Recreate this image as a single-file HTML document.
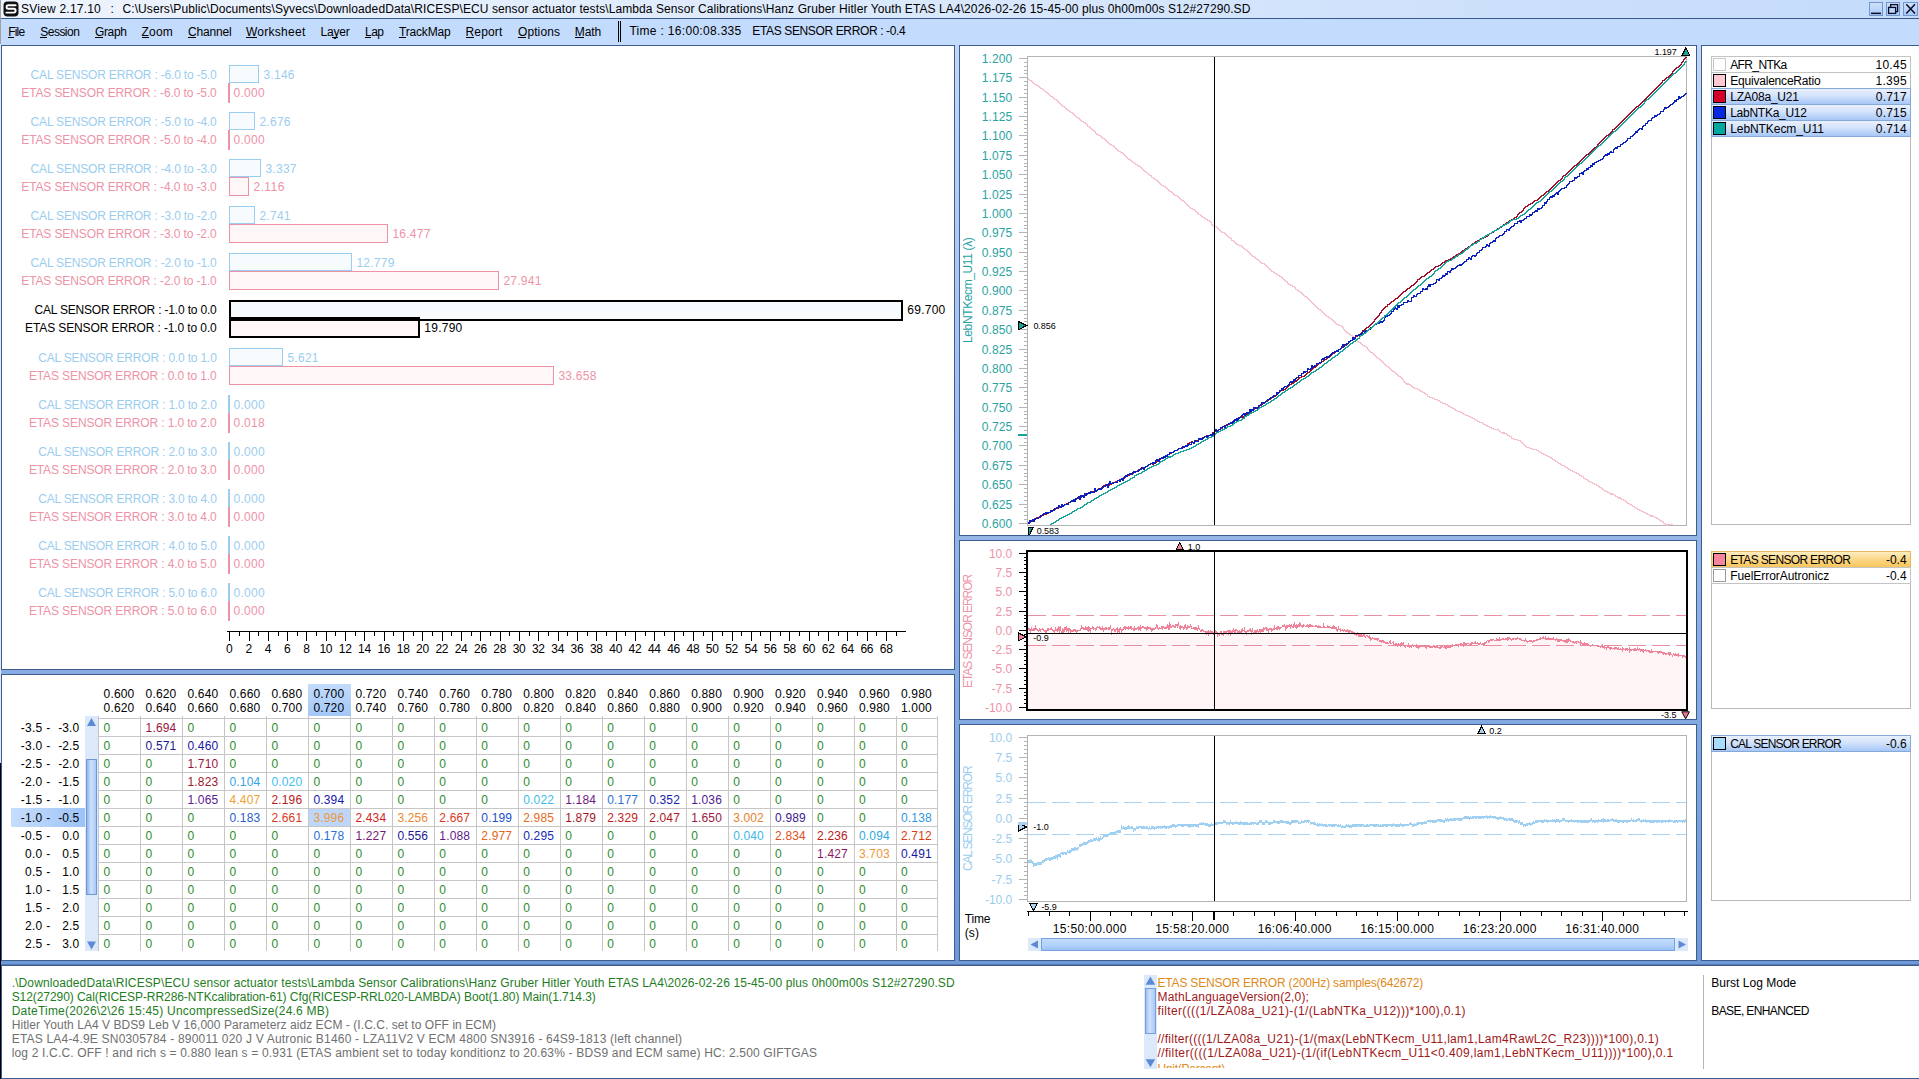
<!DOCTYPE html>
<html><head><meta charset="utf-8"><title>SView</title><style>
html,body{margin:0;padding:0;}
html{overflow:hidden;width:1919px;height:1079px;}
body{width:1919px;height:1079px;overflow:hidden;position:relative;background:linear-gradient(to bottom,#c0d8fb 0px,#c0d8fb 45px,#6d98d7 965px,#6d98d7 1079px);font-family:"Liberation Sans", sans-serif;font-size:12px;}
div,span.t,svg{position:absolute;}
span.t{white-space:pre;display:block;}
</style></head><body>
<div style="left:0px;top:0px;width:1919px;height:18px;background:linear-gradient(to right,#eef4fd 0px,#c4dbfb 1919px);"></div>
<div style="left:0px;top:18px;width:1919px;height:1px;background:#3b5a8c;"></div>
<div style="left:0px;top:19px;width:1919px;height:26px;background:#c3dbfc;"></div>
<div style="left:0px;top:0px;width:1px;height:44px;background:#a0a0a0;"></div>
<div style="left:0px;top:44px;width:1px;height:719px;background:#dfe7f5;"></div>
<div style="left:0px;top:763px;width:1px;height:316px;background:#000;"></div>
<div style="left:1px;top:45px;width:954px;height:625px;background:#fff;border:1px solid #3f5c8f;box-sizing:border-box;"></div>
<div style="left:1px;top:674px;width:954px;height:287px;background:#fff;border:1px solid #3f5c8f;box-sizing:border-box;"></div>
<div style="left:959px;top:45px;width:738px;height:491px;background:#fff;border:1px solid #3f5c8f;box-sizing:border-box;"></div>
<div style="left:959px;top:540px;width:738px;height:180px;background:#fff;border:1px solid #3f5c8f;box-sizing:border-box;"></div>
<div style="left:959px;top:724px;width:738px;height:237px;background:#fff;border:1px solid #3f5c8f;box-sizing:border-box;"></div>
<div style="left:1701px;top:45px;width:218px;height:916px;background:#fff;border:1px solid #3f5c8f;box-sizing:border-box;border-right:none;"></div>
<div style="left:1px;top:965px;width:1918px;height:114px;background:#fff;border:1px solid #3f5c8f;box-sizing:border-box;border-right:none;"></div>
<div style="left:0px;top:961px;width:1919px;height:3px;background:#6f9ad8;"></div>
<div style="left:0px;top:964px;width:1919px;height:1px;background:#5577b5;"></div>
<div style="left:0px;top:763px;width:1px;height:316px;background:#000;"></div>
<div style="left:1869px;top:2px;width:14px;height:14px;border:1px solid #7297cf;box-sizing:border-box;background:linear-gradient(#cfe1fb,#a9caf8);"></div>
<div style="left:1886px;top:2px;width:14px;height:14px;border:1px solid #7297cf;box-sizing:border-box;background:linear-gradient(#cfe1fb,#a9caf8);"></div>
<div style="left:1903px;top:2px;width:15px;height:14px;border:1px solid #7297cf;box-sizing:border-box;background:linear-gradient(#cfe1fb,#a9caf8);"></div>
<div style="left:8px;top:37px;width:6px;height:1px;background:#000;"></div>
<div style="left:40px;top:37px;width:7px;height:1px;background:#000;"></div>
<div style="left:95px;top:37px;width:8px;height:1px;background:#000;"></div>
<div style="left:142px;top:37px;width:7px;height:1px;background:#000;"></div>
<div style="left:188px;top:37px;width:8px;height:1px;background:#000;"></div>
<div style="left:246px;top:37px;width:11px;height:1px;background:#000;"></div>
<div style="left:332px;top:37px;width:6px;height:1px;background:#000;"></div>
<div style="left:365px;top:37px;width:6px;height:1px;background:#000;"></div>
<div style="left:399px;top:37px;width:7px;height:1px;background:#000;"></div>
<div style="left:466px;top:37px;width:8px;height:1px;background:#000;"></div>
<div style="left:518px;top:37px;width:8px;height:1px;background:#000;"></div>
<div style="left:575px;top:37px;width:9px;height:1px;background:#000;"></div>
<div style="left:618px;top:21px;width:1px;height:21px;background:#000;"></div>
<div style="left:620px;top:21px;width:1px;height:21px;background:#000;"></div>
<div style="left:229px;top:65px;width:30px;height:18px;background:#f7fbfe;border:1px solid #9bcdef;box-sizing:border-box;"></div>
<div style="left:228px;top:83px;width:2px;height:20px;background:#ee93a6;"></div>
<div style="left:229px;top:112px;width:26px;height:18px;background:#f7fbfe;border:1px solid #9bcdef;box-sizing:border-box;"></div>
<div style="left:228px;top:130px;width:2px;height:20px;background:#ee93a6;"></div>
<div style="left:229px;top:159px;width:32px;height:18px;background:#f7fbfe;border:1px solid #9bcdef;box-sizing:border-box;"></div>
<div style="left:229px;top:177px;width:20px;height:19px;background:#fff6f7;border:1px solid #ee93a6;box-sizing:border-box;"></div>
<div style="left:229px;top:206px;width:26px;height:18px;background:#f7fbfe;border:1px solid #9bcdef;box-sizing:border-box;"></div>
<div style="left:229px;top:224px;width:159px;height:19px;background:#fff6f7;border:1px solid #ee93a6;box-sizing:border-box;"></div>
<div style="left:229px;top:253px;width:123px;height:18px;background:#f7fbfe;border:1px solid #9bcdef;box-sizing:border-box;"></div>
<div style="left:229px;top:271px;width:270px;height:19px;background:#fff6f7;border:1px solid #ee93a6;box-sizing:border-box;"></div>
<div style="left:229px;top:300px;width:674px;height:21px;background:#f7fbfe;border:2px solid #000;box-sizing:border-box;"></div>
<div style="left:229px;top:319px;width:191px;height:19px;background:#fff6f7;border:2px solid #000;box-sizing:border-box;"></div>
<div style="left:229px;top:317px;width:191px;height:2px;background:#000;"></div>
<div style="left:229px;top:348px;width:54px;height:18px;background:#f7fbfe;border:1px solid #9bcdef;box-sizing:border-box;"></div>
<div style="left:229px;top:366px;width:325px;height:19px;background:#fff6f7;border:1px solid #ee93a6;box-sizing:border-box;"></div>
<div style="left:228px;top:395px;width:2px;height:19px;background:#9bcdef;"></div>
<div style="left:228px;top:413px;width:2px;height:20px;background:#ee93a6;"></div>
<div style="left:228px;top:442px;width:2px;height:19px;background:#9bcdef;"></div>
<div style="left:228px;top:460px;width:2px;height:20px;background:#ee93a6;"></div>
<div style="left:228px;top:489px;width:2px;height:19px;background:#9bcdef;"></div>
<div style="left:228px;top:507px;width:2px;height:20px;background:#ee93a6;"></div>
<div style="left:228px;top:536px;width:2px;height:19px;background:#9bcdef;"></div>
<div style="left:228px;top:554px;width:2px;height:20px;background:#ee93a6;"></div>
<div style="left:228px;top:583px;width:2px;height:19px;background:#9bcdef;"></div>
<div style="left:228px;top:601px;width:2px;height:20px;background:#ee93a6;"></div>
<div style="left:227px;top:631px;width:679px;height:1px;background:#000;"></div>
<div style="left:229px;top:631px;width:1px;height:10px;background:#000;"></div>
<div style="left:239px;top:631px;width:1px;height:5px;background:#000;"></div>
<div style="left:249px;top:631px;width:1px;height:10px;background:#000;"></div>
<div style="left:258px;top:631px;width:1px;height:5px;background:#000;"></div>
<div style="left:268px;top:631px;width:1px;height:10px;background:#000;"></div>
<div style="left:278px;top:631px;width:1px;height:5px;background:#000;"></div>
<div style="left:287px;top:631px;width:1px;height:10px;background:#000;"></div>
<div style="left:297px;top:631px;width:1px;height:5px;background:#000;"></div>
<div style="left:306px;top:631px;width:1px;height:10px;background:#000;"></div>
<div style="left:316px;top:631px;width:1px;height:5px;background:#000;"></div>
<div style="left:326px;top:631px;width:1px;height:10px;background:#000;"></div>
<div style="left:335px;top:631px;width:1px;height:5px;background:#000;"></div>
<div style="left:345px;top:631px;width:1px;height:10px;background:#000;"></div>
<div style="left:355px;top:631px;width:1px;height:5px;background:#000;"></div>
<div style="left:364px;top:631px;width:1px;height:10px;background:#000;"></div>
<div style="left:374px;top:631px;width:1px;height:5px;background:#000;"></div>
<div style="left:384px;top:631px;width:1px;height:10px;background:#000;"></div>
<div style="left:393px;top:631px;width:1px;height:5px;background:#000;"></div>
<div style="left:403px;top:631px;width:1px;height:10px;background:#000;"></div>
<div style="left:413px;top:631px;width:1px;height:5px;background:#000;"></div>
<div style="left:422px;top:631px;width:1px;height:10px;background:#000;"></div>
<div style="left:432px;top:631px;width:1px;height:5px;background:#000;"></div>
<div style="left:442px;top:631px;width:1px;height:10px;background:#000;"></div>
<div style="left:451px;top:631px;width:1px;height:5px;background:#000;"></div>
<div style="left:461px;top:631px;width:1px;height:10px;background:#000;"></div>
<div style="left:471px;top:631px;width:1px;height:5px;background:#000;"></div>
<div style="left:480px;top:631px;width:1px;height:10px;background:#000;"></div>
<div style="left:490px;top:631px;width:1px;height:5px;background:#000;"></div>
<div style="left:500px;top:631px;width:1px;height:10px;background:#000;"></div>
<div style="left:509px;top:631px;width:1px;height:5px;background:#000;"></div>
<div style="left:519px;top:631px;width:1px;height:10px;background:#000;"></div>
<div style="left:529px;top:631px;width:1px;height:5px;background:#000;"></div>
<div style="left:538px;top:631px;width:1px;height:10px;background:#000;"></div>
<div style="left:548px;top:631px;width:1px;height:5px;background:#000;"></div>
<div style="left:558px;top:631px;width:1px;height:10px;background:#000;"></div>
<div style="left:567px;top:631px;width:1px;height:5px;background:#000;"></div>
<div style="left:577px;top:631px;width:1px;height:10px;background:#000;"></div>
<div style="left:587px;top:631px;width:1px;height:5px;background:#000;"></div>
<div style="left:596px;top:631px;width:1px;height:10px;background:#000;"></div>
<div style="left:606px;top:631px;width:1px;height:5px;background:#000;"></div>
<div style="left:616px;top:631px;width:1px;height:10px;background:#000;"></div>
<div style="left:625px;top:631px;width:1px;height:5px;background:#000;"></div>
<div style="left:635px;top:631px;width:1px;height:10px;background:#000;"></div>
<div style="left:645px;top:631px;width:1px;height:5px;background:#000;"></div>
<div style="left:654px;top:631px;width:1px;height:10px;background:#000;"></div>
<div style="left:664px;top:631px;width:1px;height:5px;background:#000;"></div>
<div style="left:674px;top:631px;width:1px;height:10px;background:#000;"></div>
<div style="left:683px;top:631px;width:1px;height:5px;background:#000;"></div>
<div style="left:693px;top:631px;width:1px;height:10px;background:#000;"></div>
<div style="left:703px;top:631px;width:1px;height:5px;background:#000;"></div>
<div style="left:712px;top:631px;width:1px;height:10px;background:#000;"></div>
<div style="left:722px;top:631px;width:1px;height:5px;background:#000;"></div>
<div style="left:732px;top:631px;width:1px;height:10px;background:#000;"></div>
<div style="left:741px;top:631px;width:1px;height:5px;background:#000;"></div>
<div style="left:751px;top:631px;width:1px;height:10px;background:#000;"></div>
<div style="left:760px;top:631px;width:1px;height:5px;background:#000;"></div>
<div style="left:770px;top:631px;width:1px;height:10px;background:#000;"></div>
<div style="left:780px;top:631px;width:1px;height:5px;background:#000;"></div>
<div style="left:789px;top:631px;width:1px;height:10px;background:#000;"></div>
<div style="left:799px;top:631px;width:1px;height:5px;background:#000;"></div>
<div style="left:809px;top:631px;width:1px;height:10px;background:#000;"></div>
<div style="left:818px;top:631px;width:1px;height:5px;background:#000;"></div>
<div style="left:828px;top:631px;width:1px;height:10px;background:#000;"></div>
<div style="left:838px;top:631px;width:1px;height:5px;background:#000;"></div>
<div style="left:847px;top:631px;width:1px;height:10px;background:#000;"></div>
<div style="left:857px;top:631px;width:1px;height:5px;background:#000;"></div>
<div style="left:867px;top:631px;width:1px;height:10px;background:#000;"></div>
<div style="left:876px;top:631px;width:1px;height:5px;background:#000;"></div>
<div style="left:886px;top:631px;width:1px;height:10px;background:#000;"></div>
<div style="left:896px;top:631px;width:1px;height:5px;background:#000;"></div>
<div style="left:308px;top:684px;width:43px;height:32px;background:linear-gradient(#c2dbfc,#a3c7f8);"></div>
<div style="left:11px;top:808px;width:74px;height:19px;background:linear-gradient(to right,#c6ddfc,#b2d1fa 50%,#9cc2f8);"></div>
<div style="left:308px;top:808px;width:43px;height:19px;background:#bdd6fa;border:1px solid #7ba4dd;box-sizing:border-box;"></div>
<div style="left:98px;top:716px;width:1px;height:235px;background:#c6c6c6;"></div>
<div style="left:140px;top:716px;width:1px;height:235px;background:#c6c6c6;"></div>
<div style="left:182px;top:716px;width:1px;height:235px;background:#c6c6c6;"></div>
<div style="left:224px;top:716px;width:1px;height:235px;background:#c6c6c6;"></div>
<div style="left:266px;top:716px;width:1px;height:235px;background:#c6c6c6;"></div>
<div style="left:308px;top:716px;width:1px;height:235px;background:#c6c6c6;"></div>
<div style="left:350px;top:716px;width:1px;height:235px;background:#c6c6c6;"></div>
<div style="left:392px;top:716px;width:1px;height:235px;background:#c6c6c6;"></div>
<div style="left:434px;top:716px;width:1px;height:235px;background:#c6c6c6;"></div>
<div style="left:476px;top:716px;width:1px;height:235px;background:#c6c6c6;"></div>
<div style="left:518px;top:716px;width:1px;height:235px;background:#c6c6c6;"></div>
<div style="left:560px;top:716px;width:1px;height:235px;background:#c6c6c6;"></div>
<div style="left:602px;top:716px;width:1px;height:235px;background:#c6c6c6;"></div>
<div style="left:644px;top:716px;width:1px;height:235px;background:#c6c6c6;"></div>
<div style="left:686px;top:716px;width:1px;height:235px;background:#c6c6c6;"></div>
<div style="left:728px;top:716px;width:1px;height:235px;background:#c6c6c6;"></div>
<div style="left:770px;top:716px;width:1px;height:235px;background:#c6c6c6;"></div>
<div style="left:812px;top:716px;width:1px;height:235px;background:#c6c6c6;"></div>
<div style="left:854px;top:716px;width:1px;height:235px;background:#c6c6c6;"></div>
<div style="left:896px;top:716px;width:1px;height:235px;background:#c6c6c6;"></div>
<div style="left:937px;top:716px;width:1px;height:235px;background:#c6c6c6;"></div>
<div style="left:99px;top:718px;width:838px;height:1px;background:#c6c6c6;"></div>
<div style="left:99px;top:736px;width:838px;height:1px;background:#c6c6c6;"></div>
<div style="left:99px;top:754px;width:838px;height:1px;background:#c6c6c6;"></div>
<div style="left:99px;top:772px;width:838px;height:1px;background:#c6c6c6;"></div>
<div style="left:99px;top:790px;width:838px;height:1px;background:#c6c6c6;"></div>
<div style="left:99px;top:808px;width:838px;height:1px;background:#c6c6c6;"></div>
<div style="left:99px;top:826px;width:838px;height:1px;background:#c6c6c6;"></div>
<div style="left:99px;top:844px;width:838px;height:1px;background:#c6c6c6;"></div>
<div style="left:99px;top:862px;width:838px;height:1px;background:#c6c6c6;"></div>
<div style="left:99px;top:880px;width:838px;height:1px;background:#c6c6c6;"></div>
<div style="left:99px;top:898px;width:838px;height:1px;background:#c6c6c6;"></div>
<div style="left:99px;top:916px;width:838px;height:1px;background:#c6c6c6;"></div>
<div style="left:99px;top:934px;width:838px;height:1px;background:#c6c6c6;"></div>
<div style="left:85px;top:716px;width:13px;height:235px;background:#dce9fb;"></div>
<div style="left:86px;top:759px;width:11px;height:136px;border:1px solid #6f96d6;box-sizing:border-box;background:linear-gradient(to right,#8fb6f0,#cfe1fb 45%,#a8c8f6);"></div>
<div style="left:1028px;top:938px;width:660px;height:13px;background:#dce9fb;"></div>
<div style="left:1041px;top:938px;width:634px;height:13px;border:1px solid #7aa2dc;box-sizing:border-box;background:linear-gradient(#c3dbfc,#b5d3fb 50%,#9cc3f7);"></div>
<div style="left:1711px;top:56px;width:200px;height:469px;background:#fff;border:1px solid #b9b9b9;box-sizing:border-box;"></div>
<div style="left:1711px;top:551px;width:200px;height:158px;background:#fff;border:1px solid #b9b9b9;box-sizing:border-box;"></div>
<div style="left:1711px;top:735px;width:200px;height:166px;background:#fff;border:1px solid #b9b9b9;box-sizing:border-box;"></div>
<div style="left:1711px;top:56px;width:200px;height:17px;border:1px solid #c4c4c4;box-sizing:border-box;"></div>
<div style="left:1713px;top:58px;width:13px;height:13px;background:#fff;border:1px solid #c8c8c8;box-sizing:border-box;"></div>
<div style="left:1713px;top:74px;width:13px;height:13px;background:#ffc8d2;border:1px solid #000;box-sizing:border-box;"></div>
<div style="left:1711px;top:88px;width:200px;height:17px;background:linear-gradient(#e8f0fd 0%,#d4e3fb 45%,#a6c7f8 100%);border:1px solid #86a9d8;box-sizing:border-box;"></div>
<div style="left:1713px;top:90px;width:13px;height:13px;background:#d40028;border:1px solid #000;box-sizing:border-box;"></div>
<div style="left:1711px;top:104px;width:200px;height:17px;background:linear-gradient(#e8f0fd 0%,#d4e3fb 45%,#a6c7f8 100%);border:1px solid #86a9d8;box-sizing:border-box;"></div>
<div style="left:1713px;top:106px;width:13px;height:13px;background:#0428e0;border:1px solid #000;box-sizing:border-box;"></div>
<div style="left:1711px;top:120px;width:200px;height:17px;background:linear-gradient(#e8f0fd 0%,#d4e3fb 45%,#a6c7f8 100%);border:1px solid #86a9d8;box-sizing:border-box;"></div>
<div style="left:1713px;top:122px;width:13px;height:13px;background:#00a8a0;border:1px solid #000;box-sizing:border-box;"></div>
<div style="left:1711px;top:551px;width:200px;height:17px;background:linear-gradient(#fdedc0 0%,#fbd98c 45%,#f8c55c 100%);border:1px solid #e8b860;box-sizing:border-box;"></div>
<div style="left:1713px;top:553px;width:13px;height:13px;background:#f5849c;border:1px solid #000;box-sizing:border-box;"></div>
<div style="left:1711px;top:567px;width:200px;height:17px;border:1px solid #c4c4c4;box-sizing:border-box;"></div>
<div style="left:1713px;top:569px;width:13px;height:13px;background:#fff;border:1px solid #9a9a9a;box-sizing:border-box;"></div>
<div style="left:1711px;top:735px;width:200px;height:17px;background:linear-gradient(#e8f0fd 0%,#d4e3fb 45%,#a6c7f8 100%);border:1px solid #86a9d8;box-sizing:border-box;"></div>
<div style="left:1713px;top:737px;width:13px;height:13px;background:#a8dcfb;border:1px solid #000;box-sizing:border-box;"></div>
<div style="left:1144px;top:975px;width:13px;height:94px;background:#dce9fb;"></div>
<div style="left:1145px;top:988px;width:11px;height:46px;border:1px solid #7a9fd8;box-sizing:border-box;background:linear-gradient(to right,#9dc0f3,#cfe1fc 40%,#a9c9f7);"></div>
<div style="left:1703px;top:975px;width:1px;height:94px;background:#b4b4b4;"></div>
<svg style="left:0;top:0" width="1919" height="1079" viewBox="0 0 1919 1079" shape-rendering="crispEdges">
<rect x="1019" y="58" width="8" height="1" fill="#b4b4b4"/>
<rect x="1024" y="62" width="3" height="1" fill="#b4b4b4"/>
<rect x="1024" y="66" width="3" height="1" fill="#b4b4b4"/>
<rect x="1024" y="70" width="3" height="1" fill="#b4b4b4"/>
<rect x="1024" y="73" width="3" height="1" fill="#b4b4b4"/>
<rect x="1019" y="77" width="8" height="1" fill="#b4b4b4"/>
<rect x="1024" y="81" width="3" height="1" fill="#b4b4b4"/>
<rect x="1024" y="85" width="3" height="1" fill="#b4b4b4"/>
<rect x="1024" y="89" width="3" height="1" fill="#b4b4b4"/>
<rect x="1024" y="93" width="3" height="1" fill="#b4b4b4"/>
<rect x="1019" y="97" width="8" height="1" fill="#b4b4b4"/>
<rect x="1024" y="101" width="3" height="1" fill="#b4b4b4"/>
<rect x="1024" y="104" width="3" height="1" fill="#b4b4b4"/>
<rect x="1024" y="108" width="3" height="1" fill="#b4b4b4"/>
<rect x="1024" y="112" width="3" height="1" fill="#b4b4b4"/>
<rect x="1019" y="116" width="8" height="1" fill="#b4b4b4"/>
<rect x="1024" y="120" width="3" height="1" fill="#b4b4b4"/>
<rect x="1024" y="124" width="3" height="1" fill="#b4b4b4"/>
<rect x="1024" y="128" width="3" height="1" fill="#b4b4b4"/>
<rect x="1024" y="132" width="3" height="1" fill="#b4b4b4"/>
<rect x="1019" y="135" width="8" height="1" fill="#b4b4b4"/>
<rect x="1024" y="139" width="3" height="1" fill="#b4b4b4"/>
<rect x="1024" y="143" width="3" height="1" fill="#b4b4b4"/>
<rect x="1024" y="147" width="3" height="1" fill="#b4b4b4"/>
<rect x="1024" y="151" width="3" height="1" fill="#b4b4b4"/>
<rect x="1019" y="155" width="8" height="1" fill="#b4b4b4"/>
<rect x="1024" y="159" width="3" height="1" fill="#b4b4b4"/>
<rect x="1024" y="163" width="3" height="1" fill="#b4b4b4"/>
<rect x="1024" y="166" width="3" height="1" fill="#b4b4b4"/>
<rect x="1024" y="170" width="3" height="1" fill="#b4b4b4"/>
<rect x="1019" y="174" width="8" height="1" fill="#b4b4b4"/>
<rect x="1024" y="178" width="3" height="1" fill="#b4b4b4"/>
<rect x="1024" y="182" width="3" height="1" fill="#b4b4b4"/>
<rect x="1024" y="186" width="3" height="1" fill="#b4b4b4"/>
<rect x="1024" y="190" width="3" height="1" fill="#b4b4b4"/>
<rect x="1019" y="194" width="8" height="1" fill="#b4b4b4"/>
<rect x="1024" y="197" width="3" height="1" fill="#b4b4b4"/>
<rect x="1024" y="201" width="3" height="1" fill="#b4b4b4"/>
<rect x="1024" y="205" width="3" height="1" fill="#b4b4b4"/>
<rect x="1024" y="209" width="3" height="1" fill="#b4b4b4"/>
<rect x="1019" y="213" width="8" height="1" fill="#b4b4b4"/>
<rect x="1024" y="217" width="3" height="1" fill="#b4b4b4"/>
<rect x="1024" y="221" width="3" height="1" fill="#b4b4b4"/>
<rect x="1024" y="225" width="3" height="1" fill="#b4b4b4"/>
<rect x="1024" y="228" width="3" height="1" fill="#b4b4b4"/>
<rect x="1019" y="232" width="8" height="1" fill="#b4b4b4"/>
<rect x="1024" y="236" width="3" height="1" fill="#b4b4b4"/>
<rect x="1024" y="240" width="3" height="1" fill="#b4b4b4"/>
<rect x="1024" y="244" width="3" height="1" fill="#b4b4b4"/>
<rect x="1024" y="248" width="3" height="1" fill="#b4b4b4"/>
<rect x="1019" y="252" width="8" height="1" fill="#b4b4b4"/>
<rect x="1024" y="256" width="3" height="1" fill="#b4b4b4"/>
<rect x="1024" y="259" width="3" height="1" fill="#b4b4b4"/>
<rect x="1024" y="263" width="3" height="1" fill="#b4b4b4"/>
<rect x="1024" y="267" width="3" height="1" fill="#b4b4b4"/>
<rect x="1019" y="271" width="8" height="1" fill="#b4b4b4"/>
<rect x="1024" y="275" width="3" height="1" fill="#b4b4b4"/>
<rect x="1024" y="279" width="3" height="1" fill="#b4b4b4"/>
<rect x="1024" y="283" width="3" height="1" fill="#b4b4b4"/>
<rect x="1024" y="287" width="3" height="1" fill="#b4b4b4"/>
<rect x="1019" y="290" width="8" height="1" fill="#b4b4b4"/>
<rect x="1024" y="294" width="3" height="1" fill="#b4b4b4"/>
<rect x="1024" y="298" width="3" height="1" fill="#b4b4b4"/>
<rect x="1024" y="302" width="3" height="1" fill="#b4b4b4"/>
<rect x="1024" y="306" width="3" height="1" fill="#b4b4b4"/>
<rect x="1019" y="310" width="8" height="1" fill="#b4b4b4"/>
<rect x="1024" y="314" width="3" height="1" fill="#b4b4b4"/>
<rect x="1024" y="318" width="3" height="1" fill="#b4b4b4"/>
<rect x="1024" y="321" width="3" height="1" fill="#b4b4b4"/>
<rect x="1024" y="325" width="3" height="1" fill="#b4b4b4"/>
<rect x="1019" y="329" width="8" height="1" fill="#b4b4b4"/>
<rect x="1024" y="333" width="3" height="1" fill="#b4b4b4"/>
<rect x="1024" y="337" width="3" height="1" fill="#b4b4b4"/>
<rect x="1024" y="341" width="3" height="1" fill="#b4b4b4"/>
<rect x="1024" y="345" width="3" height="1" fill="#b4b4b4"/>
<rect x="1019" y="349" width="8" height="1" fill="#b4b4b4"/>
<rect x="1024" y="352" width="3" height="1" fill="#b4b4b4"/>
<rect x="1024" y="356" width="3" height="1" fill="#b4b4b4"/>
<rect x="1024" y="360" width="3" height="1" fill="#b4b4b4"/>
<rect x="1024" y="364" width="3" height="1" fill="#b4b4b4"/>
<rect x="1019" y="368" width="8" height="1" fill="#b4b4b4"/>
<rect x="1024" y="372" width="3" height="1" fill="#b4b4b4"/>
<rect x="1024" y="376" width="3" height="1" fill="#b4b4b4"/>
<rect x="1024" y="380" width="3" height="1" fill="#b4b4b4"/>
<rect x="1024" y="383" width="3" height="1" fill="#b4b4b4"/>
<rect x="1019" y="387" width="8" height="1" fill="#b4b4b4"/>
<rect x="1024" y="391" width="3" height="1" fill="#b4b4b4"/>
<rect x="1024" y="395" width="3" height="1" fill="#b4b4b4"/>
<rect x="1024" y="399" width="3" height="1" fill="#b4b4b4"/>
<rect x="1024" y="403" width="3" height="1" fill="#b4b4b4"/>
<rect x="1019" y="407" width="8" height="1" fill="#b4b4b4"/>
<rect x="1024" y="411" width="3" height="1" fill="#b4b4b4"/>
<rect x="1024" y="414" width="3" height="1" fill="#b4b4b4"/>
<rect x="1024" y="418" width="3" height="1" fill="#b4b4b4"/>
<rect x="1024" y="422" width="3" height="1" fill="#b4b4b4"/>
<rect x="1019" y="426" width="8" height="1" fill="#b4b4b4"/>
<rect x="1024" y="430" width="3" height="1" fill="#b4b4b4"/>
<rect x="1024" y="434" width="3" height="1" fill="#b4b4b4"/>
<rect x="1024" y="438" width="3" height="1" fill="#b4b4b4"/>
<rect x="1024" y="442" width="3" height="1" fill="#b4b4b4"/>
<rect x="1019" y="445" width="8" height="1" fill="#b4b4b4"/>
<rect x="1024" y="449" width="3" height="1" fill="#b4b4b4"/>
<rect x="1024" y="453" width="3" height="1" fill="#b4b4b4"/>
<rect x="1024" y="457" width="3" height="1" fill="#b4b4b4"/>
<rect x="1024" y="461" width="3" height="1" fill="#b4b4b4"/>
<rect x="1019" y="465" width="8" height="1" fill="#b4b4b4"/>
<rect x="1024" y="469" width="3" height="1" fill="#b4b4b4"/>
<rect x="1024" y="473" width="3" height="1" fill="#b4b4b4"/>
<rect x="1024" y="476" width="3" height="1" fill="#b4b4b4"/>
<rect x="1024" y="480" width="3" height="1" fill="#b4b4b4"/>
<rect x="1019" y="484" width="8" height="1" fill="#b4b4b4"/>
<rect x="1024" y="488" width="3" height="1" fill="#b4b4b4"/>
<rect x="1024" y="492" width="3" height="1" fill="#b4b4b4"/>
<rect x="1024" y="496" width="3" height="1" fill="#b4b4b4"/>
<rect x="1024" y="500" width="3" height="1" fill="#b4b4b4"/>
<rect x="1019" y="504" width="8" height="1" fill="#b4b4b4"/>
<rect x="1024" y="507" width="3" height="1" fill="#b4b4b4"/>
<rect x="1024" y="511" width="3" height="1" fill="#b4b4b4"/>
<rect x="1024" y="515" width="3" height="1" fill="#b4b4b4"/>
<rect x="1024" y="519" width="3" height="1" fill="#b4b4b4"/>
<rect x="1019" y="523" width="8" height="1" fill="#b4b4b4"/>
<rect x="1027" y="56" width="660" height="1" fill="#b4b4b4"/>
<rect x="1027" y="525" width="660" height="1" fill="#b4b4b4"/>
<rect x="1027" y="56" width="1" height="470" fill="#b4b4b4"/>
<rect x="1686" y="56" width="1" height="470" fill="#b4b4b4"/>
<path d="M1028.5,78.5V79.5H1029.5V80.5H1030.5H1031.5V81.5H1032.5V82.5H1033.5V83.5H1034.5V84.5H1035.5H1036.5V85.5H1037.5H1038.5V86.5H1039.5V87.5H1040.5V88.5H1041.5H1042.5V89.5H1043.5V90.5H1044.5V91.5H1045.5H1046.5V92.5H1047.5V93.5H1048.5V94.5H1049.5V95.5H1050.5V96.5H1051.5H1052.5V97.5H1053.5V98.5H1054.5V99.5H1055.5H1056.5V100.5H1057.5V101.5H1058.5V102.5H1059.5V103.5H1060.5V104.5H1061.5V105.5H1062.5V106.5H1063.5H1064.5V107.5H1065.5V108.5H1066.5V109.5H1067.5V110.5H1068.5H1069.5V111.5H1070.5V112.5H1071.5H1072.5V113.5H1073.5V114.5H1074.5V115.5H1075.5V116.5H1076.5V117.5H1077.5H1078.5V118.5H1079.5V119.5H1080.5V120.5H1081.5V121.5H1082.5H1083.5V122.5H1084.5H1085.5V123.5H1086.5V124.5H1087.5V126.5H1088.5H1089.5V127.5H1090.5V128.5H1091.5V129.5H1092.5V130.5H1093.5H1094.5V131.5H1095.5V133.5H1096.5V134.5H1097.5H1098.5V135.5H1099.5H1100.5V136.5H1101.5V137.5H1102.5V138.5H1103.5H1104.5V139.5H1105.5V140.5H1106.5V141.5H1107.5V142.5H1108.5V143.5H1109.5V144.5H1110.5H1111.5V145.5H1112.5H1113.5V146.5H1114.5V147.5H1115.5V148.5H1116.5V149.5H1117.5V150.5H1118.5V151.5H1119.5H1120.5V152.5H1121.5H1122.5V153.5H1123.5V154.5H1124.5V155.5H1125.5V156.5H1126.5V157.5H1127.5V158.5H1128.5V159.5H1129.5H1130.5V160.5H1131.5V161.5H1132.5V162.5H1133.5H1134.5V163.5H1135.5V164.5H1136.5H1137.5V165.5H1138.5V166.5H1139.5H1140.5V167.5H1141.5V168.5H1142.5V169.5H1143.5V170.5H1144.5V171.5H1145.5V172.5H1146.5H1147.5V173.5H1148.5V174.5H1149.5V175.5H1150.5H1151.5V177.5H1152.5H1153.5V178.5H1154.5V179.5H1155.5H1156.5V180.5H1157.5V181.5H1158.5V182.5H1159.5V183.5H1160.5V184.5H1161.5V185.5H1162.5H1163.5V186.5H1164.5H1165.5V187.5H1166.5V188.5H1167.5V189.5H1168.5V190.5H1169.5V191.5H1170.5H1171.5V192.5H1172.5V193.5H1173.5V194.5H1174.5V195.5H1175.5H1176.5H1177.5V196.5H1178.5V197.5H1179.5V198.5H1180.5V199.5H1181.5V200.5H1182.5H1183.5V201.5H1184.5V202.5H1185.5V203.5H1186.5V204.5H1187.5V205.5H1188.5V206.5H1189.5V207.5H1190.5V208.5H1191.5H1192.5V209.5H1193.5H1194.5V210.5H1195.5V211.5H1196.5V212.5H1197.5V213.5H1198.5V214.5H1199.5H1200.5V215.5H1201.5V216.5H1202.5V217.5H1203.5H1204.5V218.5H1205.5V219.5H1206.5H1207.5V220.5H1208.5H1209.5V221.5H1210.5V222.5H1211.5V224.5H1212.5V225.5H1213.5V226.5H1214.5H1215.5H1216.5V227.5H1217.5V228.5H1218.5V229.5H1219.5V230.5H1220.5V231.5H1221.5V232.5H1222.5H1223.5H1224.5V233.5H1225.5V234.5H1226.5V235.5H1227.5V236.5H1228.5V237.5H1229.5H1230.5V238.5H1231.5V240.5H1232.5H1233.5V241.5H1234.5V242.5H1235.5V243.5H1236.5V244.5H1237.5H1238.5V245.5H1239.5H1240.5H1241.5V246.5H1242.5V247.5H1243.5V248.5H1244.5V249.5H1245.5H1246.5V250.5H1247.5V251.5H1248.5V252.5H1249.5V253.5H1250.5V254.5H1251.5V255.5H1252.5V256.5H1253.5H1254.5V257.5H1255.5V258.5H1256.5V259.5H1257.5H1258.5V260.5H1259.5V261.5H1260.5V262.5H1261.5V263.5H1262.5H1263.5H1264.5V264.5H1265.5V265.5H1266.5V266.5H1267.5V267.5H1268.5V268.5H1269.5V269.5H1270.5V270.5H1271.5V271.5H1272.5H1273.5V272.5H1274.5V273.5H1275.5H1276.5V274.5H1277.5V275.5H1278.5H1279.5V276.5H1280.5H1281.5V277.5H1282.5V278.5H1283.5V279.5H1284.5V280.5H1285.5V281.5H1286.5H1287.5V283.5H1288.5V284.5H1289.5H1290.5V285.5H1291.5H1292.5V286.5H1293.5H1294.5V287.5H1295.5V289.5H1296.5H1297.5V290.5H1298.5V291.5H1299.5H1300.5V292.5H1301.5V293.5H1302.5V294.5H1303.5V295.5H1304.5V296.5H1305.5H1306.5V297.5H1307.5V298.5H1308.5V299.5H1309.5V300.5H1310.5V301.5H1311.5V302.5H1312.5V303.5H1313.5V304.5H1314.5V305.5H1315.5V306.5H1316.5V307.5H1317.5V308.5H1318.5V309.5H1319.5H1320.5V310.5H1321.5V311.5H1322.5V312.5H1323.5V313.5H1324.5V314.5H1325.5V315.5H1326.5V316.5H1327.5H1328.5V317.5H1329.5V318.5H1330.5H1331.5V319.5H1332.5V320.5H1333.5V321.5H1334.5V322.5H1335.5V323.5H1336.5V324.5H1337.5H1338.5V325.5H1339.5H1340.5H1341.5V326.5H1342.5V327.5H1343.5V329.5H1344.5V330.5H1345.5V331.5H1346.5V332.5H1347.5V333.5H1348.5H1349.5V334.5H1350.5V335.5H1351.5H1352.5V336.5H1353.5V337.5H1354.5V338.5H1355.5V339.5H1356.5V340.5H1357.5V341.5H1358.5V342.5H1359.5H1360.5V343.5H1361.5V344.5H1362.5V345.5H1363.5H1364.5V346.5H1365.5H1366.5V347.5H1367.5V349.5H1368.5V350.5H1369.5V351.5H1370.5V352.5H1371.5H1372.5V353.5H1373.5V354.5H1374.5V355.5H1375.5V356.5H1376.5V357.5H1377.5V358.5H1378.5H1379.5V359.5H1380.5V360.5H1381.5V361.5H1382.5V362.5H1383.5V363.5H1384.5V364.5H1385.5V365.5H1386.5V366.5H1387.5H1388.5V367.5H1389.5V368.5H1390.5V369.5H1391.5V370.5H1392.5V371.5H1393.5H1394.5V372.5H1395.5V373.5H1396.5V374.5H1397.5V375.5H1398.5V376.5H1399.5H1400.5V377.5H1401.5V378.5H1402.5V379.5H1403.5V381.5H1404.5V382.5H1405.5V383.5H1406.5V384.5H1407.5V383.5H1408.5V384.5H1409.5H1410.5V385.5H1411.5V386.5H1412.5V387.5H1413.5H1414.5V388.5H1415.5H1416.5H1417.5V389.5H1418.5H1419.5V390.5H1420.5V391.5H1421.5H1422.5V392.5H1423.5H1424.5V393.5H1425.5V394.5H1426.5H1427.5V396.5H1428.5H1429.5V397.5H1430.5H1431.5H1432.5V398.5H1433.5H1434.5V399.5H1435.5H1436.5H1437.5V400.5H1438.5H1439.5V401.5H1440.5V402.5H1441.5H1442.5V403.5H1443.5H1444.5H1445.5V404.5H1446.5H1447.5V405.5H1448.5V406.5H1449.5H1450.5V407.5H1451.5H1452.5V408.5H1453.5H1454.5V409.5H1455.5V410.5H1456.5H1457.5V411.5H1458.5H1459.5H1460.5V412.5H1461.5H1462.5V413.5H1463.5V414.5H1464.5H1465.5V415.5H1466.5H1467.5H1468.5V416.5H1469.5H1470.5V417.5H1471.5H1472.5V418.5H1473.5H1474.5V419.5H1475.5V420.5H1476.5H1477.5V421.5H1478.5H1479.5V422.5H1480.5H1481.5H1482.5V423.5H1483.5V424.5H1484.5H1485.5V425.5H1486.5H1487.5V426.5H1488.5H1489.5V427.5H1490.5H1491.5V428.5H1492.5H1493.5V429.5H1494.5H1495.5H1496.5H1497.5H1498.5V430.5H1499.5V431.5H1500.5V432.5H1501.5H1502.5V433.5H1503.5V432.5H1504.5V433.5H1505.5H1506.5V434.5H1507.5V435.5H1508.5H1509.5V436.5H1510.5H1511.5V438.5H1512.5H1513.5V439.5H1514.5H1515.5H1516.5H1517.5V440.5H1518.5H1519.5H1520.5V441.5H1521.5V442.5H1522.5V443.5H1523.5V444.5H1524.5V445.5H1525.5V446.5H1526.5V447.5H1527.5H1528.5H1529.5V448.5H1530.5H1531.5H1532.5V449.5H1533.5H1534.5H1535.5H1536.5V450.5H1537.5H1538.5V451.5H1539.5V452.5H1540.5H1541.5V453.5H1542.5H1543.5V454.5H1544.5H1545.5V455.5H1546.5H1547.5V456.5H1548.5H1549.5V457.5H1550.5H1551.5V458.5H1552.5V459.5H1553.5H1554.5V460.5H1555.5V461.5H1556.5H1557.5V462.5H1558.5V463.5H1559.5H1560.5V464.5H1561.5V465.5H1562.5H1563.5H1564.5V466.5H1565.5V467.5H1566.5H1567.5V468.5H1568.5V469.5H1569.5H1570.5V470.5H1571.5H1572.5V471.5H1573.5H1574.5V472.5H1575.5H1576.5V473.5H1577.5H1578.5V474.5H1579.5V475.5H1580.5H1581.5V476.5H1582.5H1583.5V478.5H1584.5H1585.5V479.5H1586.5H1587.5V480.5H1588.5V481.5H1589.5H1590.5V482.5H1591.5H1592.5V483.5H1593.5H1594.5V484.5H1595.5H1596.5V485.5H1597.5H1598.5V486.5H1599.5V487.5H1600.5H1601.5V488.5H1602.5V489.5H1603.5V490.5H1604.5H1605.5V491.5H1606.5H1607.5V492.5H1608.5H1609.5V493.5H1610.5V494.5H1611.5V493.5H1612.5V494.5H1613.5H1614.5V495.5H1615.5V496.5H1616.5H1617.5V497.5H1618.5V498.5H1619.5V497.5H1620.5V498.5H1621.5V499.5H1622.5H1623.5V500.5H1624.5H1625.5V501.5H1626.5V502.5H1627.5V503.5H1628.5H1629.5V504.5H1630.5H1631.5V505.5H1632.5V506.5H1633.5H1634.5V507.5H1635.5V508.5H1636.5H1637.5V509.5H1638.5H1639.5V510.5H1640.5H1641.5V511.5H1642.5H1643.5V512.5H1644.5H1645.5V513.5H1646.5H1647.5V514.5H1648.5H1649.5V515.5H1650.5V516.5H1651.5V515.5H1652.5V516.5H1653.5H1654.5V517.5H1655.5H1656.5V518.5H1657.5H1658.5V519.5H1659.5V520.5H1660.5H1661.5V521.5H1662.5H1663.5V523.5H1664.5H1665.5V524.5H1666.5V525.5H1667.5V524.5H1668.5H1669.5H1670.5H1671.5H1672.5" fill="none" stroke="#f6c1cb" stroke-width="1" stroke-linecap="square" shape-rendering="crispEdges"/>
<path d="M1028.5,523.5V522.5H1029.5H1030.5V521.5H1031.5H1032.5V519.5H1033.5H1034.5V518.5H1035.5H1036.5V517.5H1037.5H1038.5H1039.5V516.5H1040.5H1041.5V515.5H1042.5H1043.5V514.5H1044.5H1045.5H1046.5V513.5H1047.5H1048.5V512.5H1049.5H1050.5V511.5H1051.5H1052.5V510.5H1053.5V509.5H1054.5H1055.5V508.5H1056.5H1057.5H1058.5V507.5H1059.5H1060.5V506.5H1061.5H1062.5V505.5H1063.5H1064.5V504.5H1065.5H1066.5V503.5H1067.5H1068.5V502.5H1069.5H1070.5V501.5H1071.5H1072.5V500.5H1073.5H1074.5V499.5H1075.5H1076.5V498.5H1077.5H1078.5V497.5H1079.5H1080.5H1081.5V496.5H1082.5H1083.5V495.5H1084.5H1085.5V494.5H1086.5H1087.5V493.5H1088.5H1089.5V492.5H1090.5H1091.5V491.5H1092.5H1093.5H1094.5H1095.5V490.5H1096.5H1097.5V489.5H1098.5V488.5H1099.5H1100.5H1101.5V487.5H1102.5V486.5H1103.5V485.5H1104.5H1105.5V484.5H1106.5H1107.5V485.5H1108.5H1109.5V484.5H1110.5H1111.5V483.5H1112.5V482.5H1113.5H1114.5H1115.5V481.5H1116.5H1117.5V480.5H1118.5H1119.5V479.5H1120.5H1121.5V478.5H1122.5H1123.5V477.5H1124.5H1125.5V476.5H1126.5H1127.5V475.5H1128.5H1129.5V474.5H1130.5H1131.5V473.5H1132.5H1133.5V472.5H1134.5H1135.5V471.5H1136.5H1137.5V470.5H1138.5V469.5H1139.5H1140.5V468.5H1141.5H1142.5H1143.5V467.5H1144.5H1145.5V466.5H1146.5H1147.5V465.5H1148.5V464.5H1149.5H1150.5V463.5H1151.5H1152.5V464.5H1153.5V463.5H1154.5H1155.5V462.5H1156.5V461.5H1157.5V460.5H1158.5V459.5H1159.5H1160.5V458.5H1161.5V457.5H1162.5H1163.5H1164.5V456.5H1165.5H1166.5V455.5H1167.5V454.5H1168.5H1169.5V453.5H1170.5H1171.5V452.5H1172.5H1173.5V451.5H1174.5V450.5H1175.5H1176.5H1177.5V449.5H1178.5V448.5H1179.5H1180.5H1181.5V447.5H1182.5H1183.5H1184.5V446.5H1185.5H1186.5V445.5H1187.5V443.5H1188.5H1189.5V442.5H1190.5H1191.5V441.5H1192.5V442.5H1193.5H1194.5V441.5H1195.5H1196.5V440.5H1197.5H1198.5V439.5H1199.5H1200.5V438.5H1201.5H1202.5V437.5H1203.5H1204.5V436.5H1205.5H1206.5V435.5H1207.5V436.5H1208.5V435.5H1209.5H1210.5V434.5H1211.5H1212.5V432.5H1213.5H1214.5V431.5H1215.5H1216.5V430.5H1217.5H1218.5V429.5H1219.5H1220.5V428.5H1221.5H1222.5V426.5H1223.5H1224.5V425.5H1225.5H1226.5V424.5H1227.5H1228.5H1229.5V423.5H1230.5H1231.5V422.5H1232.5V421.5H1233.5V420.5H1234.5H1235.5V419.5H1236.5V418.5H1237.5H1238.5V417.5H1239.5H1240.5V416.5H1241.5H1242.5V417.5H1243.5V416.5H1244.5V415.5H1245.5H1246.5V414.5H1247.5V413.5H1248.5V412.5H1249.5H1250.5V411.5H1251.5V410.5H1252.5H1253.5V409.5H1254.5V408.5H1255.5H1256.5V407.5H1257.5H1258.5V406.5H1259.5V405.5H1260.5H1261.5V404.5H1262.5V403.5H1263.5V402.5H1264.5H1265.5V401.5H1266.5V400.5H1267.5H1268.5V399.5H1269.5H1270.5V398.5H1271.5V397.5H1272.5H1273.5V396.5H1274.5H1275.5V395.5H1276.5V394.5H1277.5V392.5H1278.5H1279.5V391.5H1280.5V390.5H1281.5H1282.5H1283.5V389.5H1284.5H1285.5V388.5H1286.5V387.5H1287.5V386.5H1288.5V385.5H1289.5V384.5H1290.5H1291.5V383.5H1292.5H1293.5V382.5H1294.5V381.5H1295.5H1296.5V380.5H1297.5V379.5H1298.5V378.5H1299.5V377.5H1300.5H1301.5V376.5H1302.5H1303.5H1304.5V375.5H1305.5V374.5H1306.5V373.5H1307.5V372.5H1308.5H1309.5V371.5H1310.5V370.5H1311.5V369.5H1312.5V368.5H1313.5V367.5H1314.5H1315.5V366.5H1316.5V365.5H1317.5V364.5H1318.5V363.5H1319.5H1320.5V362.5H1321.5V361.5H1322.5H1323.5V360.5H1324.5V359.5H1325.5H1326.5V358.5H1327.5V357.5H1328.5H1329.5V356.5H1330.5V355.5H1331.5V354.5H1332.5V353.5H1333.5H1334.5V352.5H1335.5V351.5H1336.5V350.5H1337.5H1338.5V349.5H1339.5H1340.5V348.5H1341.5V347.5H1342.5H1343.5V346.5H1344.5V345.5H1345.5H1346.5V344.5H1347.5V343.5H1348.5V342.5H1349.5V341.5H1350.5V340.5H1351.5H1352.5V339.5H1353.5V338.5H1354.5V337.5H1355.5V336.5H1356.5H1357.5V335.5H1358.5V334.5H1359.5H1360.5V333.5H1361.5V332.5H1362.5V330.5H1363.5H1364.5V329.5H1365.5V328.5H1366.5V327.5H1367.5H1368.5V326.5H1369.5V325.5H1370.5V324.5H1371.5V323.5H1372.5V322.5H1373.5V321.5H1374.5V319.5H1375.5V318.5H1376.5V317.5H1377.5V316.5H1378.5V315.5H1379.5V313.5H1380.5V312.5H1381.5V310.5H1382.5V309.5H1383.5V308.5H1384.5V307.5H1385.5V306.5H1386.5H1387.5V304.5H1388.5H1389.5V303.5H1390.5V302.5H1391.5V301.5H1392.5H1393.5V300.5H1394.5V299.5H1395.5V298.5H1396.5H1397.5V297.5H1398.5V296.5H1399.5V295.5H1400.5V294.5H1401.5V293.5H1402.5V292.5H1403.5V291.5H1404.5H1405.5V290.5H1406.5V289.5H1407.5V288.5H1408.5H1409.5V287.5H1410.5V286.5H1411.5V285.5H1412.5H1413.5V284.5H1414.5V283.5H1415.5V282.5H1416.5V281.5H1417.5V279.5H1418.5H1419.5V278.5H1420.5V277.5H1421.5V276.5H1422.5H1423.5H1424.5V275.5H1425.5V274.5H1426.5V273.5H1427.5V272.5H1428.5H1429.5V271.5H1430.5V270.5H1431.5V269.5H1432.5H1433.5V268.5H1434.5V267.5H1435.5V266.5H1436.5H1437.5H1438.5V265.5H1439.5H1440.5V264.5H1441.5V263.5H1442.5V262.5H1443.5H1444.5V261.5H1445.5V260.5H1446.5H1447.5H1448.5V259.5H1449.5H1450.5V258.5H1451.5H1452.5V257.5H1453.5V256.5H1454.5H1455.5V255.5H1456.5V254.5H1457.5H1458.5V253.5H1459.5H1460.5V252.5H1461.5V251.5H1462.5V250.5H1463.5H1464.5V249.5H1465.5V248.5H1466.5H1467.5V247.5H1468.5V246.5H1469.5H1470.5V245.5H1471.5V244.5H1472.5V243.5H1473.5H1474.5V242.5H1475.5V241.5H1476.5H1477.5V240.5H1478.5H1479.5V239.5H1480.5V238.5H1481.5H1482.5H1483.5V237.5H1484.5H1485.5V236.5H1486.5H1487.5V235.5H1488.5V234.5H1489.5V233.5H1490.5H1491.5V232.5H1492.5H1493.5V231.5H1494.5V230.5H1495.5H1496.5V229.5H1497.5V228.5H1498.5H1499.5V227.5H1500.5H1501.5V226.5H1502.5V225.5H1503.5V224.5H1504.5H1505.5V223.5H1506.5V222.5H1507.5H1508.5V221.5H1509.5V220.5H1510.5H1511.5V219.5H1512.5H1513.5V218.5H1514.5V217.5H1515.5H1516.5V216.5H1517.5V214.5H1518.5V213.5H1519.5V212.5H1520.5H1521.5V211.5H1522.5V210.5H1523.5V208.5H1524.5V207.5H1525.5V206.5H1526.5H1527.5V205.5H1528.5V204.5H1529.5H1530.5V203.5H1531.5H1532.5V202.5H1533.5V201.5H1534.5V200.5H1535.5H1536.5H1537.5V199.5H1538.5V198.5H1539.5V197.5H1540.5V196.5H1541.5V195.5H1542.5H1543.5V194.5H1544.5V193.5H1545.5V192.5H1546.5V191.5H1547.5H1548.5V190.5H1549.5V189.5H1550.5V188.5H1551.5V187.5H1552.5V186.5H1553.5V185.5H1554.5V184.5H1555.5V183.5H1556.5V182.5H1557.5V181.5H1558.5V180.5H1559.5H1560.5V179.5H1561.5V178.5H1562.5V176.5H1563.5V175.5H1564.5H1565.5V174.5H1566.5V173.5H1567.5V172.5H1568.5V171.5H1569.5V170.5H1570.5V169.5H1571.5V168.5H1572.5V167.5H1573.5V166.5H1574.5V165.5H1575.5H1576.5V164.5H1577.5V163.5H1578.5V162.5H1579.5V161.5H1580.5V160.5H1581.5V159.5H1582.5V158.5H1583.5V157.5H1584.5V156.5H1585.5V155.5H1586.5V154.5H1587.5H1588.5V153.5H1589.5V152.5H1590.5V151.5H1591.5V150.5H1592.5V149.5H1593.5V148.5H1594.5V147.5H1595.5H1596.5V146.5H1597.5V144.5H1598.5V143.5H1599.5V142.5H1600.5V141.5H1601.5V140.5H1602.5V139.5H1603.5V138.5H1604.5V137.5H1605.5V136.5H1606.5V135.5H1607.5H1608.5V134.5H1609.5V133.5H1610.5V132.5H1611.5V131.5H1612.5V129.5H1613.5H1614.5V128.5H1615.5V127.5H1616.5V126.5H1617.5V125.5H1618.5V124.5H1619.5V123.5H1620.5V122.5H1621.5V121.5H1622.5V120.5H1623.5V119.5H1624.5V118.5H1625.5V117.5H1626.5V116.5H1627.5V115.5H1628.5V114.5H1629.5V113.5H1630.5V112.5H1631.5V111.5H1632.5V110.5H1633.5V109.5H1634.5V108.5H1635.5V107.5H1636.5V106.5H1637.5H1638.5V105.5H1639.5V104.5H1640.5V103.5H1641.5V102.5H1642.5V101.5H1643.5V100.5H1644.5V99.5H1645.5V98.5H1646.5V97.5H1647.5V96.5H1648.5V95.5H1649.5V94.5H1650.5V93.5H1651.5V92.5H1652.5V91.5H1653.5V90.5H1654.5V89.5H1655.5V88.5H1656.5V87.5H1657.5V86.5H1658.5V85.5H1659.5V84.5H1660.5V83.5H1661.5V82.5H1662.5V80.5H1663.5H1664.5V79.5H1665.5V78.5H1666.5V77.5H1667.5H1668.5V76.5H1669.5V75.5H1670.5V74.5H1671.5V73.5H1672.5V71.5H1673.5V70.5H1674.5V69.5H1675.5V68.5H1676.5V67.5H1677.5H1678.5V66.5H1679.5V65.5H1680.5V64.5H1681.5V62.5H1682.5V61.5H1683.5V59.5H1684.5V58.5H1685.5V57.5H1686.5" fill="none" stroke="#a0102a" stroke-width="1" stroke-linecap="square" shape-rendering="crispEdges"/>
<path d="M1028.5,522.5V523.5H1029.5V520.5H1030.5V521.5H1031.5V520.5H1032.5V519.5H1033.5V521.5H1034.5V519.5H1035.5V518.5H1036.5H1037.5H1038.5V517.5H1039.5H1040.5V515.5H1041.5H1042.5V514.5H1043.5V513.5H1044.5H1045.5V512.5H1046.5V513.5H1047.5V512.5H1048.5H1049.5H1050.5V510.5H1051.5V511.5H1052.5V510.5H1053.5H1054.5V508.5H1055.5H1056.5V507.5H1057.5H1058.5V505.5H1059.5V506.5H1060.5V507.5H1061.5V504.5H1062.5V506.5H1063.5V505.5H1064.5V504.5H1065.5H1066.5H1067.5H1068.5V502.5H1069.5H1070.5V501.5H1071.5V500.5H1072.5V501.5H1073.5V499.5H1074.5V501.5H1075.5V498.5H1076.5H1077.5V497.5H1078.5V496.5H1079.5V499.5H1080.5V495.5H1081.5V496.5H1082.5V495.5H1083.5V497.5H1084.5V493.5H1085.5V495.5H1086.5V493.5H1087.5H1088.5V492.5H1089.5V493.5H1090.5V491.5H1091.5V492.5H1092.5H1093.5H1094.5V488.5H1095.5V491.5H1096.5V490.5H1097.5V489.5H1098.5H1099.5V488.5H1100.5V489.5H1101.5V488.5H1102.5V487.5H1103.5V486.5H1104.5H1105.5V485.5H1106.5V484.5H1107.5V487.5H1108.5V483.5H1109.5V481.5H1110.5V483.5H1111.5H1112.5H1113.5V482.5H1114.5H1115.5H1116.5H1117.5V480.5H1118.5H1119.5V481.5H1120.5V479.5H1121.5V478.5H1122.5V480.5H1123.5V478.5H1124.5V476.5H1125.5V475.5H1126.5V476.5H1127.5V474.5H1128.5H1129.5V473.5H1130.5H1131.5V474.5H1132.5V472.5H1133.5V471.5H1134.5V472.5H1135.5V471.5H1136.5H1137.5H1138.5V470.5H1139.5V469.5H1140.5H1141.5V467.5H1142.5V468.5H1143.5V469.5H1144.5V467.5H1145.5V466.5H1146.5H1147.5V465.5H1148.5V464.5H1149.5H1150.5V463.5H1151.5H1152.5V462.5H1153.5V463.5H1154.5V462.5H1155.5V460.5H1156.5V459.5H1157.5V460.5H1158.5V461.5H1159.5V458.5H1160.5H1161.5V457.5H1162.5V458.5H1163.5V456.5H1164.5V457.5H1165.5V455.5H1166.5V456.5H1167.5V454.5H1168.5H1169.5V452.5H1170.5H1171.5H1172.5H1173.5V451.5H1174.5V450.5H1175.5H1176.5H1177.5V449.5H1178.5V448.5H1179.5H1180.5H1181.5H1182.5V446.5H1183.5V447.5H1184.5V446.5H1185.5V445.5H1186.5V446.5H1187.5V445.5H1188.5V444.5H1189.5H1190.5H1191.5V442.5H1192.5H1193.5V443.5H1194.5V440.5H1195.5V441.5H1196.5H1197.5H1198.5V438.5H1199.5V439.5H1200.5V438.5H1201.5V439.5H1202.5V438.5H1203.5V437.5H1204.5V436.5H1205.5H1206.5V437.5H1207.5V435.5H1208.5H1209.5H1210.5V434.5H1211.5V435.5H1212.5V433.5H1213.5V434.5H1214.5V430.5H1215.5V429.5H1216.5V432.5H1217.5V431.5H1218.5V429.5H1219.5H1220.5V427.5H1221.5H1222.5V426.5H1223.5H1224.5V427.5H1225.5V425.5H1226.5H1227.5V424.5H1228.5V423.5H1229.5H1230.5V422.5H1231.5V423.5H1232.5V421.5H1233.5V422.5H1234.5V419.5H1235.5V420.5H1236.5V418.5H1237.5V420.5H1238.5V418.5H1239.5V417.5H1240.5H1241.5V415.5H1242.5V414.5H1243.5V413.5H1244.5V415.5H1245.5V413.5H1246.5V412.5H1247.5H1248.5V413.5H1249.5V409.5H1250.5V411.5H1251.5V409.5H1252.5V410.5H1253.5V407.5H1254.5H1255.5V408.5H1256.5H1257.5V407.5H1258.5V405.5H1259.5H1260.5V404.5H1261.5V402.5H1262.5H1263.5V403.5H1264.5V402.5H1265.5V401.5H1266.5H1267.5V399.5H1268.5H1269.5V398.5H1270.5V397.5H1271.5H1272.5V396.5H1273.5V395.5H1274.5H1275.5H1276.5V392.5H1277.5V393.5H1278.5V392.5H1279.5V390.5H1280.5H1281.5V388.5H1282.5V389.5H1283.5V387.5H1284.5V386.5H1285.5H1286.5H1287.5V385.5H1288.5V384.5H1289.5V382.5H1290.5V381.5H1291.5V382.5H1292.5V381.5H1293.5V379.5H1294.5V380.5H1295.5V378.5H1296.5V377.5H1297.5H1298.5V375.5H1299.5H1300.5H1301.5V373.5H1302.5H1303.5V371.5H1304.5V372.5H1305.5V371.5H1306.5H1307.5V368.5H1308.5V369.5H1309.5H1310.5V368.5H1311.5V365.5H1312.5V367.5H1313.5V366.5H1314.5V365.5H1315.5H1316.5V363.5H1317.5H1318.5H1319.5V362.5H1320.5H1321.5V359.5H1322.5V358.5H1323.5V359.5H1324.5V357.5H1325.5H1326.5V356.5H1327.5V357.5H1328.5V356.5H1329.5V355.5H1330.5V354.5H1331.5V353.5H1332.5V352.5H1333.5H1334.5V351.5H1335.5H1336.5V350.5H1337.5V351.5H1338.5V349.5H1339.5H1340.5V348.5H1341.5V346.5H1342.5V344.5H1343.5V346.5H1344.5V344.5H1345.5H1346.5V343.5H1347.5H1348.5V341.5H1349.5H1350.5V340.5H1351.5H1352.5V337.5H1353.5V339.5H1354.5V338.5H1355.5V335.5H1356.5H1357.5H1358.5H1359.5V334.5H1360.5V335.5H1361.5V333.5H1362.5V331.5H1363.5H1364.5V332.5H1365.5V330.5H1366.5V331.5H1367.5V330.5H1368.5V329.5H1369.5H1370.5V327.5H1371.5H1372.5V326.5H1373.5V325.5H1374.5V324.5H1375.5H1376.5V323.5H1377.5V322.5H1378.5V323.5H1379.5V322.5H1380.5V321.5H1381.5V322.5H1382.5V321.5H1383.5V320.5H1384.5V317.5H1385.5V316.5H1386.5H1387.5V315.5H1388.5H1389.5V314.5H1390.5V313.5H1391.5V311.5H1392.5H1393.5V309.5H1394.5V307.5H1395.5V308.5H1396.5V309.5H1397.5V305.5H1398.5V307.5H1399.5V305.5H1400.5H1401.5V304.5H1402.5H1403.5V302.5H1404.5H1405.5H1406.5H1407.5V300.5H1408.5V301.5H1409.5H1410.5H1411.5V297.5H1412.5H1413.5V295.5H1414.5V296.5H1415.5H1416.5V294.5H1417.5V293.5H1418.5H1419.5H1420.5V291.5H1421.5H1422.5V288.5H1423.5V289.5H1424.5H1425.5V288.5H1426.5V289.5H1427.5V286.5H1428.5V284.5H1429.5V286.5H1430.5V284.5H1431.5H1432.5H1433.5V283.5H1434.5H1435.5V282.5H1436.5V279.5H1437.5H1438.5V280.5H1439.5V278.5H1440.5H1441.5V277.5H1442.5V275.5H1443.5V276.5H1444.5V275.5H1445.5V273.5H1446.5V274.5H1447.5V271.5H1448.5H1449.5V272.5H1450.5V270.5H1451.5V268.5H1452.5V269.5H1453.5V268.5H1454.5H1455.5V267.5H1456.5V266.5H1457.5V265.5H1458.5H1459.5V264.5H1460.5V265.5H1461.5V264.5H1462.5V263.5H1463.5V262.5H1464.5V261.5H1465.5H1466.5V259.5H1467.5H1468.5V257.5H1469.5V258.5H1470.5V259.5H1471.5V256.5H1472.5V255.5H1473.5H1474.5V256.5H1475.5V255.5H1476.5V253.5H1477.5V252.5H1478.5H1479.5V250.5H1480.5H1481.5V249.5H1482.5V247.5H1483.5H1484.5H1485.5V246.5H1486.5V244.5H1487.5V245.5H1488.5V246.5H1489.5V243.5H1490.5V242.5H1491.5H1492.5V241.5H1493.5V240.5H1494.5V241.5H1495.5V238.5H1496.5V237.5H1497.5H1498.5V236.5H1499.5V235.5H1500.5H1501.5H1502.5V234.5H1503.5V233.5H1504.5V231.5H1505.5H1506.5V229.5H1507.5H1508.5V230.5H1509.5V228.5H1510.5V227.5H1511.5V226.5H1512.5H1513.5V225.5H1514.5V223.5H1515.5H1516.5H1517.5V221.5H1518.5H1519.5V220.5H1520.5V222.5H1521.5V220.5H1522.5H1523.5V219.5H1524.5V218.5H1525.5H1526.5V216.5H1527.5H1528.5H1529.5V214.5H1530.5V215.5H1531.5V214.5H1532.5V212.5H1533.5H1534.5V211.5H1535.5V210.5H1536.5V211.5H1537.5V208.5H1538.5V209.5H1539.5V208.5H1540.5H1541.5V207.5H1542.5V205.5H1543.5H1544.5V202.5H1545.5V203.5H1546.5V201.5H1547.5V199.5H1548.5H1549.5V197.5H1550.5V196.5H1551.5V197.5H1552.5V195.5H1553.5V196.5H1554.5V194.5H1555.5V193.5H1556.5V192.5H1557.5V194.5H1558.5V191.5H1559.5V190.5H1560.5V189.5H1561.5V188.5H1562.5H1563.5H1564.5V187.5H1565.5H1566.5V185.5H1567.5V184.5H1568.5V183.5H1569.5V181.5H1570.5H1571.5H1572.5V180.5H1573.5H1574.5V177.5H1575.5V178.5H1576.5V177.5H1577.5V176.5H1578.5H1579.5V173.5H1580.5H1581.5V172.5H1582.5V174.5H1583.5V171.5H1584.5V170.5H1585.5H1586.5V168.5H1587.5V169.5H1588.5V167.5H1589.5H1590.5V165.5H1591.5V166.5H1592.5V163.5H1593.5V164.5H1594.5V162.5H1595.5H1596.5V161.5H1597.5H1598.5V160.5H1599.5H1600.5V159.5H1601.5H1602.5V158.5H1603.5V156.5H1604.5V155.5H1605.5V154.5H1606.5V155.5H1607.5V153.5H1608.5V154.5H1609.5V152.5H1610.5V151.5H1611.5V152.5H1612.5H1613.5V149.5H1614.5V148.5H1615.5V147.5H1616.5V148.5H1617.5V146.5H1618.5H1619.5H1620.5V144.5H1621.5H1622.5V143.5H1623.5V142.5H1624.5H1625.5V141.5H1626.5V140.5H1627.5V138.5H1628.5H1629.5H1630.5V136.5H1631.5H1632.5V135.5H1633.5V134.5H1634.5V133.5H1635.5V131.5H1636.5V132.5H1637.5V130.5H1638.5V129.5H1639.5V128.5H1640.5H1641.5V129.5H1642.5V126.5H1643.5V125.5H1644.5H1645.5V123.5H1646.5H1647.5V121.5H1648.5V120.5H1649.5H1650.5H1651.5V118.5H1652.5V117.5H1653.5H1654.5V115.5H1655.5V116.5H1656.5V115.5H1657.5V114.5H1658.5H1659.5V113.5H1660.5V111.5H1661.5H1662.5H1663.5V109.5H1664.5V107.5H1665.5V108.5H1666.5V107.5H1667.5H1668.5V106.5H1669.5V105.5H1670.5V104.5H1671.5H1672.5V103.5H1673.5V102.5H1674.5V100.5H1675.5V101.5H1676.5V99.5H1677.5H1678.5V96.5H1679.5V98.5H1680.5V97.5H1681.5V96.5H1682.5H1683.5V95.5H1684.5V94.5H1685.5V93.5H1686.5" fill="none" stroke="#0a1fc0" stroke-width="1" stroke-linecap="square" shape-rendering="crispEdges"/>
<path d="M1050.5,524.5H1051.5V523.5H1052.5H1053.5V522.5H1054.5H1055.5V521.5H1056.5V520.5H1057.5H1058.5V519.5H1059.5V518.5H1060.5H1061.5V517.5H1062.5H1063.5V516.5H1064.5H1065.5V515.5H1066.5H1067.5V514.5H1068.5H1069.5V513.5H1070.5H1071.5V512.5H1072.5V511.5H1073.5H1074.5V510.5H1075.5H1076.5V509.5H1077.5V508.5H1078.5H1079.5H1080.5V507.5H1081.5H1082.5V506.5H1083.5V505.5H1084.5V504.5H1085.5H1086.5V503.5H1087.5V502.5H1088.5H1089.5H1090.5V501.5H1091.5V500.5H1092.5H1093.5V499.5H1094.5V498.5H1095.5H1096.5V497.5H1097.5H1098.5V496.5H1099.5V495.5H1100.5H1101.5V494.5H1102.5H1103.5V493.5H1104.5H1105.5V492.5H1106.5H1107.5V491.5H1108.5V490.5H1109.5H1110.5V489.5H1111.5H1112.5V488.5H1113.5H1114.5V487.5H1115.5H1116.5V486.5H1117.5V485.5H1118.5H1119.5V484.5H1120.5H1121.5V483.5H1122.5H1123.5V482.5H1124.5H1125.5V481.5H1126.5H1127.5V480.5H1128.5H1129.5V479.5H1130.5V478.5H1131.5H1132.5V477.5H1133.5H1134.5V475.5H1135.5H1136.5V474.5H1137.5H1138.5V473.5H1139.5H1140.5H1141.5V472.5H1142.5V471.5H1143.5H1144.5V470.5H1145.5H1146.5V469.5H1147.5V468.5H1148.5H1149.5V467.5H1150.5H1151.5V466.5H1152.5H1153.5V465.5H1154.5H1155.5H1156.5V464.5H1157.5H1158.5V463.5H1159.5V462.5H1160.5V461.5H1161.5H1162.5V460.5H1163.5H1164.5V459.5H1165.5V458.5H1166.5H1167.5V457.5H1168.5V456.5H1169.5V457.5H1170.5V456.5H1171.5H1172.5V455.5H1173.5V454.5H1174.5H1175.5V453.5H1176.5H1177.5H1178.5V452.5H1179.5H1180.5V451.5H1181.5H1182.5H1183.5V450.5H1184.5H1185.5H1186.5V449.5H1187.5H1188.5H1189.5V448.5H1190.5H1191.5V447.5H1192.5H1193.5V446.5H1194.5H1195.5V445.5H1196.5V444.5H1197.5H1198.5V443.5H1199.5H1200.5V442.5H1201.5V441.5H1202.5H1203.5V440.5H1204.5H1205.5V439.5H1206.5H1207.5V438.5H1208.5V437.5H1209.5H1210.5H1211.5V436.5H1212.5H1213.5V435.5H1214.5V434.5H1215.5V433.5H1216.5V432.5H1217.5H1218.5V431.5H1219.5H1220.5V430.5H1221.5H1222.5V429.5H1223.5H1224.5V428.5H1225.5H1226.5V427.5H1227.5V426.5H1228.5H1229.5H1230.5V425.5H1231.5H1232.5V424.5H1233.5V423.5H1234.5V422.5H1235.5H1236.5V421.5H1237.5H1238.5V420.5H1239.5H1240.5H1241.5V419.5H1242.5V418.5H1243.5H1244.5V416.5H1245.5H1246.5V415.5H1247.5H1248.5V414.5H1249.5V413.5H1250.5H1251.5V412.5H1252.5H1253.5V411.5H1254.5H1255.5V410.5H1256.5H1257.5V409.5H1258.5V408.5H1259.5V407.5H1260.5H1261.5V406.5H1262.5H1263.5V405.5H1264.5H1265.5V404.5H1266.5V403.5H1267.5H1268.5V402.5H1269.5H1270.5V401.5H1271.5V400.5H1272.5H1273.5V399.5H1274.5V398.5H1275.5H1276.5V397.5H1277.5V396.5H1278.5V395.5H1279.5H1280.5V394.5H1281.5V393.5H1282.5V392.5H1283.5H1284.5V391.5H1285.5V390.5H1286.5H1287.5V389.5H1288.5V388.5H1289.5H1290.5V387.5H1291.5H1292.5V386.5H1293.5V385.5H1294.5V384.5H1295.5H1296.5V383.5H1297.5V382.5H1298.5H1299.5V381.5H1300.5V380.5H1301.5V379.5H1302.5H1303.5V378.5H1304.5H1305.5V377.5H1306.5V376.5H1307.5H1308.5V375.5H1309.5V374.5H1310.5V373.5H1311.5V372.5H1312.5H1313.5V371.5H1314.5H1315.5V370.5H1316.5V369.5H1317.5H1318.5V368.5H1319.5V367.5H1320.5H1321.5V366.5H1322.5V365.5H1323.5V364.5H1324.5V363.5H1325.5H1326.5V362.5H1327.5V361.5H1328.5V360.5H1329.5H1330.5V359.5H1331.5V358.5H1332.5V357.5H1333.5H1334.5V356.5H1335.5V355.5H1336.5H1337.5V354.5H1338.5V353.5H1339.5V352.5H1340.5V351.5H1341.5H1342.5V350.5H1343.5V349.5H1344.5V348.5H1345.5V347.5H1346.5H1347.5V346.5H1348.5V345.5H1349.5V344.5H1350.5V343.5H1351.5H1352.5V342.5H1353.5V341.5H1354.5H1355.5V340.5H1356.5V339.5H1357.5V338.5H1358.5H1359.5V336.5H1360.5V335.5H1361.5H1362.5V334.5H1363.5V333.5H1364.5H1365.5V332.5H1366.5V331.5H1367.5V330.5H1368.5V329.5H1369.5V328.5H1370.5H1371.5V327.5H1372.5V326.5H1373.5V325.5H1374.5V324.5H1375.5V323.5H1376.5H1377.5V322.5H1378.5V321.5H1379.5V320.5H1380.5V319.5H1381.5V318.5H1382.5V317.5H1383.5H1384.5V315.5H1385.5H1386.5V314.5H1387.5V313.5H1388.5V312.5H1389.5V311.5H1390.5V310.5H1391.5V309.5H1392.5V308.5H1393.5V307.5H1394.5V306.5H1395.5V305.5H1396.5V304.5H1397.5V303.5H1398.5V302.5H1399.5H1400.5V301.5H1401.5V300.5H1402.5V299.5H1403.5V298.5H1404.5V297.5H1405.5H1406.5V296.5H1407.5V295.5H1408.5V294.5H1409.5V293.5H1410.5V292.5H1411.5V291.5H1412.5V290.5H1413.5V289.5H1414.5H1415.5V288.5H1416.5V287.5H1417.5V286.5H1418.5V285.5H1419.5H1420.5V284.5H1421.5V283.5H1422.5V282.5H1423.5V281.5H1424.5V280.5H1425.5V279.5H1426.5V278.5H1427.5H1428.5V277.5H1429.5V276.5H1430.5H1431.5V275.5H1432.5V274.5H1433.5V273.5H1434.5V271.5H1435.5V270.5H1436.5H1437.5V269.5H1438.5V268.5H1439.5H1440.5V267.5H1441.5V266.5H1442.5V265.5H1443.5V264.5H1444.5V263.5H1445.5V262.5H1446.5V261.5H1447.5H1448.5V260.5H1449.5H1450.5H1451.5V259.5H1452.5V258.5H1453.5H1454.5V257.5H1455.5V256.5H1456.5H1457.5V255.5H1458.5V254.5H1459.5H1460.5V253.5H1461.5H1462.5V252.5H1463.5V251.5H1464.5V250.5H1465.5V249.5H1466.5H1467.5V248.5H1468.5V247.5H1469.5V246.5H1470.5V245.5H1471.5H1472.5V244.5H1473.5V243.5H1474.5H1475.5H1476.5V242.5H1477.5V241.5H1478.5H1479.5V239.5H1480.5H1481.5V238.5H1482.5V237.5H1483.5H1484.5V236.5H1485.5V235.5H1486.5H1487.5V234.5H1488.5H1489.5V233.5H1490.5H1491.5V232.5H1492.5V231.5H1493.5H1494.5V230.5H1495.5H1496.5V229.5H1497.5H1498.5V228.5H1499.5V227.5H1500.5V226.5H1501.5H1502.5V225.5H1503.5H1504.5V224.5H1505.5H1506.5V223.5H1507.5H1508.5V222.5H1509.5V221.5H1510.5V220.5H1511.5H1512.5V219.5H1513.5H1514.5H1515.5H1516.5V218.5H1517.5H1518.5V217.5H1519.5V216.5H1520.5V215.5H1521.5H1522.5V214.5H1523.5H1524.5V213.5H1525.5V212.5H1526.5V211.5H1527.5V210.5H1528.5V209.5H1529.5H1530.5V208.5H1531.5V207.5H1532.5V206.5H1533.5V205.5H1534.5V204.5H1535.5V203.5H1536.5V202.5H1537.5H1538.5V201.5H1539.5H1540.5V200.5H1541.5V199.5H1542.5V198.5H1543.5V197.5H1544.5V196.5H1545.5V195.5H1546.5V194.5H1547.5V193.5H1548.5V192.5H1549.5V191.5H1550.5H1551.5V190.5H1552.5V189.5H1553.5V188.5H1554.5V187.5H1555.5V186.5H1556.5V185.5H1557.5V184.5H1558.5V183.5H1559.5V182.5H1560.5V181.5H1561.5H1562.5V180.5H1563.5V179.5H1564.5V177.5H1565.5V176.5H1566.5H1567.5V175.5H1568.5V174.5H1569.5V173.5H1570.5V172.5H1571.5V171.5H1572.5V170.5H1573.5V169.5H1574.5V168.5H1575.5V167.5H1576.5V166.5H1577.5V165.5H1578.5V164.5H1579.5V163.5H1580.5H1581.5V162.5H1582.5V161.5H1583.5V160.5H1584.5V159.5H1585.5V158.5H1586.5V157.5H1587.5V156.5H1588.5V155.5H1589.5V154.5H1590.5V153.5H1591.5V152.5H1592.5V151.5H1593.5V150.5H1594.5V149.5H1595.5V148.5H1596.5V147.5H1597.5V146.5H1598.5V145.5H1599.5H1600.5V144.5H1601.5V143.5H1602.5V142.5H1603.5V141.5H1604.5V140.5H1605.5V139.5H1606.5V138.5H1607.5V137.5H1608.5V136.5H1609.5V135.5H1610.5V134.5H1611.5V133.5H1612.5V132.5H1613.5V131.5H1614.5H1615.5V130.5H1616.5V129.5H1617.5V128.5H1618.5V127.5H1619.5V126.5H1620.5V125.5H1621.5V124.5H1622.5V123.5H1623.5V122.5H1624.5V121.5H1625.5V120.5H1626.5V119.5H1627.5V118.5H1628.5V117.5H1629.5V116.5H1630.5V115.5H1631.5V114.5H1632.5V113.5H1633.5V112.5H1634.5V111.5H1635.5V110.5H1636.5V109.5H1637.5V108.5H1638.5V107.5H1639.5H1640.5V106.5H1641.5V105.5H1642.5V104.5H1643.5V103.5H1644.5V101.5H1645.5V100.5H1646.5V99.5H1647.5H1648.5V98.5H1649.5V97.5H1650.5V96.5H1651.5V95.5H1652.5V94.5H1653.5V93.5H1654.5V92.5H1655.5V91.5H1656.5V90.5H1657.5V89.5H1658.5V88.5H1659.5V87.5H1660.5V86.5H1661.5V85.5H1662.5V84.5H1663.5V83.5H1664.5V82.5H1665.5V81.5H1666.5V80.5H1667.5V79.5H1668.5V78.5H1669.5V77.5H1670.5V76.5H1671.5V75.5H1672.5V74.5H1673.5V73.5H1674.5H1675.5V72.5H1676.5V71.5H1677.5V70.5H1678.5V69.5H1679.5V68.5H1680.5V67.5H1681.5V66.5H1682.5V65.5H1683.5V64.5H1684.5V62.5H1685.5V61.5H1686.5" fill="none" stroke="#16a39a" stroke-width="1" stroke-linecap="square" shape-rendering="crispEdges"/>
<rect x="1214" y="57" width="1" height="468" fill="#000"/>
<path d="M1682.3 55 L1686 47.6 L1689.7 55 Z" fill="#16a39a" stroke="#000" stroke-width="1"/>
<path d="M1018.5 321.5 L1026.5 325.5 L1018.5 329.7 Z" fill="#16a39a" stroke="#000" stroke-width="1"/>
<rect x="1018" y="434" width="9" height="2" fill="#16a39a"/>
<path d="M1028.2 527.5 L1033 527.5 L1029.6 534.5 L1028.2 534.5 Z" fill="#16a39a" stroke="#000" stroke-width="1"/>
<path d="M1028,709 L1028.0,633.5 L1029.0,633.5 L1030.0,633.5 L1031.0,633.5 L1032.0,633.5 L1033.0,633.5 L1034.0,633.5 L1035.0,633.5 L1036.0,633.5 L1037.0,633.5 L1038.0,633.5 L1039.0,633.5 L1040.0,633.5 L1041.0,633.5 L1042.0,633.5 L1043.0,633.5 L1044.0,633.5 L1045.0,633.5 L1046.0,633.5 L1047.0,633.5 L1048.0,633.5 L1049.0,633.5 L1050.0,633.5 L1051.0,633.5 L1052.0,633.5 L1053.0,633.5 L1054.0,633.5 L1055.0,633.5 L1056.0,633.5 L1057.0,633.5 L1058.0,633.5 L1059.0,633.5 L1060.0,633.5 L1061.0,633.5 L1062.0,633.5 L1063.0,633.5 L1064.0,633.5 L1065.0,633.5 L1066.0,633.5 L1067.0,633.5 L1068.0,633.5 L1069.0,633.5 L1070.0,633.5 L1071.0,633.5 L1072.0,633.5 L1073.0,633.5 L1074.0,633.5 L1075.0,633.5 L1076.0,633.5 L1077.0,633.5 L1078.0,633.5 L1079.0,633.5 L1080.0,633.5 L1081.0,633.5 L1082.0,633.5 L1083.0,633.5 L1084.0,633.5 L1085.0,633.5 L1086.0,633.5 L1087.0,633.5 L1088.0,633.5 L1089.0,633.5 L1090.0,633.5 L1091.0,633.5 L1092.0,633.5 L1093.0,633.5 L1094.0,633.5 L1095.0,633.5 L1096.0,633.5 L1097.0,633.5 L1098.0,633.5 L1099.0,633.5 L1100.0,633.5 L1101.0,633.5 L1102.0,633.5 L1103.0,633.5 L1104.0,633.5 L1105.0,633.5 L1106.0,633.5 L1107.0,633.5 L1108.0,633.5 L1109.0,633.5 L1110.0,633.5 L1111.0,633.5 L1112.0,633.5 L1113.0,633.5 L1114.0,633.5 L1115.0,633.5 L1116.0,633.5 L1117.0,633.5 L1118.0,633.5 L1119.0,633.5 L1120.0,633.5 L1121.0,633.5 L1122.0,633.5 L1123.0,633.5 L1124.0,633.5 L1125.0,633.5 L1126.0,633.5 L1127.0,633.5 L1128.0,633.5 L1129.0,633.5 L1130.0,633.5 L1131.0,633.5 L1132.0,633.5 L1133.0,633.5 L1134.0,633.5 L1135.0,633.5 L1136.0,633.5 L1137.0,633.5 L1138.0,633.5 L1139.0,633.5 L1140.0,633.5 L1141.0,633.5 L1142.0,633.5 L1143.0,633.5 L1144.0,633.5 L1145.0,633.5 L1146.0,633.5 L1147.0,633.5 L1148.0,633.5 L1149.0,633.5 L1150.0,633.5 L1151.0,633.5 L1152.0,633.5 L1153.0,633.5 L1154.0,633.5 L1155.0,633.5 L1156.0,633.5 L1157.0,633.5 L1158.0,633.5 L1159.0,633.5 L1160.0,633.5 L1161.0,633.5 L1162.0,633.5 L1163.0,633.5 L1164.0,633.5 L1165.0,633.5 L1166.0,633.5 L1167.0,633.5 L1168.0,633.5 L1169.0,633.5 L1170.0,633.5 L1171.0,633.5 L1172.0,633.5 L1173.0,633.5 L1174.0,633.5 L1175.0,633.5 L1176.0,633.5 L1177.0,633.5 L1178.0,633.5 L1179.0,633.5 L1180.0,633.5 L1181.0,633.5 L1182.0,633.5 L1183.0,633.5 L1184.0,633.5 L1185.0,633.5 L1186.0,633.5 L1187.0,633.5 L1188.0,633.5 L1189.0,633.5 L1190.0,633.5 L1191.0,633.5 L1192.0,633.5 L1193.0,633.5 L1194.0,633.5 L1195.0,633.5 L1196.0,633.5 L1197.0,633.5 L1198.0,633.5 L1199.0,633.5 L1200.0,633.5 L1201.0,633.5 L1202.0,633.5 L1203.0,633.5 L1204.0,633.5 L1205.0,633.5 L1206.0,633.5 L1207.0,633.5 L1208.0,633.5 L1209.0,633.5 L1210.0,633.5 L1211.0,633.5 L1212.0,633.5 L1213.0,633.5 L1214.0,633.5 L1215.0,633.5 L1216.0,633.5 L1217.0,634.0 L1218.0,634.5 L1219.0,635.0 L1220.0,634.2 L1221.0,633.5 L1222.0,633.5 L1223.0,633.5 L1224.0,633.5 L1225.0,633.5 L1226.0,633.5 L1227.0,633.5 L1228.0,633.5 L1229.0,633.5 L1230.0,633.5 L1231.0,633.5 L1232.0,633.5 L1233.0,633.5 L1234.0,633.5 L1235.0,633.5 L1236.0,633.5 L1237.0,633.5 L1238.0,633.5 L1239.0,633.5 L1240.0,633.5 L1241.0,633.5 L1242.0,633.5 L1243.0,633.5 L1244.0,633.5 L1245.0,633.5 L1246.0,633.5 L1247.0,633.5 L1248.0,633.5 L1249.0,633.5 L1250.0,633.5 L1251.0,633.5 L1252.0,633.5 L1253.0,633.5 L1254.0,633.5 L1255.0,633.5 L1256.0,633.5 L1257.0,633.5 L1258.0,633.5 L1259.0,633.5 L1260.0,633.5 L1261.0,633.5 L1262.0,633.5 L1263.0,633.5 L1264.0,633.5 L1265.0,633.5 L1266.0,633.5 L1267.0,633.5 L1268.0,633.5 L1269.0,633.5 L1270.0,633.5 L1271.0,633.5 L1272.0,633.5 L1273.0,633.5 L1274.0,633.5 L1275.0,633.5 L1276.0,633.5 L1277.0,633.5 L1278.0,633.5 L1279.0,633.5 L1280.0,633.5 L1281.0,633.5 L1282.0,633.5 L1283.0,633.5 L1284.0,633.5 L1285.0,633.5 L1286.0,633.5 L1287.0,633.5 L1288.0,633.5 L1289.0,633.5 L1290.0,633.5 L1291.0,633.5 L1292.0,633.5 L1293.0,633.5 L1294.0,633.5 L1295.0,633.5 L1296.0,633.5 L1297.0,633.5 L1298.0,633.5 L1299.0,633.5 L1300.0,633.5 L1301.0,633.5 L1302.0,633.5 L1303.0,633.5 L1304.0,633.5 L1305.0,633.5 L1306.0,633.5 L1307.0,633.5 L1308.0,633.5 L1309.0,633.5 L1310.0,633.5 L1311.0,633.5 L1312.0,633.5 L1313.0,633.5 L1314.0,633.5 L1315.0,633.5 L1316.0,633.5 L1317.0,633.5 L1318.0,633.5 L1319.0,633.5 L1320.0,633.5 L1321.0,633.5 L1322.0,633.5 L1323.0,633.5 L1324.0,633.5 L1325.0,633.5 L1326.0,633.5 L1327.0,633.5 L1328.0,633.5 L1329.0,633.5 L1330.0,633.5 L1331.0,633.5 L1332.0,633.5 L1333.0,633.5 L1334.0,633.5 L1335.0,633.5 L1336.0,633.5 L1337.0,633.5 L1338.0,633.5 L1339.0,633.5 L1340.0,633.5 L1341.0,633.5 L1342.0,633.5 L1343.0,633.5 L1344.0,633.5 L1345.0,633.5 L1346.0,633.5 L1347.0,633.5 L1348.0,633.5 L1349.0,633.5 L1350.0,633.5 L1351.0,633.5 L1352.0,633.5 L1353.0,633.5 L1354.0,633.5 L1355.0,633.5 L1356.0,633.6 L1357.0,633.9 L1358.0,634.1 L1359.0,634.4 L1360.0,634.7 L1361.0,635.0 L1362.0,635.3 L1363.0,635.6 L1364.0,635.8 L1365.0,636.1 L1366.0,636.4 L1367.0,636.7 L1368.0,637.0 L1369.0,637.3 L1370.0,637.6 L1371.0,637.9 L1372.0,638.2 L1373.0,638.4 L1374.0,638.7 L1375.0,639.0 L1376.0,639.3 L1377.0,639.6 L1378.0,639.9 L1379.0,640.2 L1380.0,640.5 L1381.0,640.8 L1382.0,641.0 L1383.0,641.3 L1384.0,641.6 L1385.0,641.9 L1386.0,642.1 L1387.0,642.3 L1388.0,642.5 L1389.0,642.6 L1390.0,642.8 L1391.0,643.0 L1392.0,643.1 L1393.0,643.3 L1394.0,643.5 L1395.0,643.6 L1396.0,643.8 L1397.0,644.0 L1398.0,644.1 L1399.0,644.3 L1400.0,644.5 L1401.0,644.6 L1402.0,644.8 L1403.0,645.0 L1404.0,645.1 L1405.0,645.3 L1406.0,645.5 L1407.0,645.6 L1408.0,645.8 L1409.0,646.0 L1410.0,646.0 L1411.0,646.1 L1412.0,646.1 L1413.0,646.1 L1414.0,646.2 L1415.0,646.2 L1416.0,646.2 L1417.0,646.3 L1418.0,646.3 L1419.0,646.3 L1420.0,646.4 L1421.0,646.4 L1422.0,646.4 L1423.0,646.5 L1424.0,646.5 L1425.0,646.5 L1426.0,646.6 L1427.0,646.6 L1428.0,646.7 L1429.0,646.7 L1430.0,646.7 L1431.0,646.8 L1432.0,646.8 L1433.0,646.8 L1434.0,646.9 L1435.0,646.9 L1436.0,646.9 L1437.0,647.0 L1438.0,647.0 L1439.0,647.0 L1440.0,647.1 L1441.0,647.1 L1442.0,647.1 L1443.0,647.2 L1444.0,647.2 L1445.0,647.2 L1446.0,647.3 L1447.0,647.2 L1448.0,647.0 L1449.0,646.8 L1450.0,646.5 L1451.0,646.3 L1452.0,646.1 L1453.0,645.8 L1454.0,645.6 L1455.0,645.3 L1456.0,645.1 L1457.0,644.9 L1458.0,644.6 L1459.0,644.5 L1460.0,644.4 L1461.0,644.4 L1462.0,644.4 L1463.0,644.3 L1464.0,644.3 L1465.0,644.3 L1466.0,644.2 L1467.0,644.2 L1468.0,644.1 L1469.0,644.1 L1470.0,644.1 L1471.0,644.0 L1472.0,644.0 L1473.0,643.9 L1474.0,643.9 L1475.0,643.9 L1476.0,643.8 L1477.0,643.8 L1478.0,643.7 L1479.0,643.7 L1480.0,643.7 L1481.0,643.6 L1482.0,643.6 L1483.0,643.6 L1484.0,643.5 L1485.0,643.0 L1486.0,642.3 L1487.0,641.5 L1488.0,640.7 L1489.0,640.5 L1490.0,640.4 L1491.0,640.3 L1492.0,640.3 L1493.0,640.2 L1494.0,640.1 L1495.0,640.1 L1496.0,640.0 L1497.0,639.9 L1498.0,639.9 L1499.0,639.8 L1500.0,639.8 L1501.0,639.7 L1502.0,639.6 L1503.0,639.6 L1504.0,639.5 L1505.0,639.4 L1506.0,639.4 L1507.0,639.3 L1508.0,639.2 L1509.0,639.2 L1510.0,639.1 L1511.0,639.0 L1512.0,639.0 L1513.0,638.9 L1514.0,638.9 L1515.0,638.8 L1516.0,638.7 L1517.0,638.7 L1518.0,638.6 L1519.0,638.9 L1520.0,639.2 L1521.0,639.5 L1522.0,639.8 L1523.0,640.1 L1524.0,640.4 L1525.0,640.7 L1526.0,641.0 L1527.0,641.3 L1528.0,641.6 L1529.0,641.4 L1530.0,641.2 L1531.0,640.9 L1532.0,640.7 L1533.0,640.5 L1534.0,640.3 L1535.0,640.1 L1536.0,639.9 L1537.0,639.7 L1538.0,639.4 L1539.0,639.2 L1540.0,639.0 L1541.0,638.8 L1542.0,638.6 L1543.0,638.4 L1544.0,638.2 L1545.0,638.3 L1546.0,638.5 L1547.0,638.6 L1548.0,638.7 L1549.0,638.8 L1550.0,638.9 L1551.0,639.1 L1552.0,639.2 L1553.0,639.3 L1554.0,639.4 L1555.0,639.5 L1556.0,639.6 L1557.0,639.8 L1558.0,639.9 L1559.0,640.0 L1560.0,640.1 L1561.0,640.2 L1562.0,640.4 L1563.0,640.5 L1564.0,640.6 L1565.0,640.7 L1566.0,640.8 L1567.0,640.9 L1568.0,641.1 L1569.0,641.3 L1570.0,641.4 L1571.0,641.6 L1572.0,641.8 L1573.0,641.9 L1574.0,642.1 L1575.0,642.3 L1576.0,642.4 L1577.0,642.6 L1578.0,642.8 L1579.0,642.9 L1580.0,643.1 L1581.0,643.3 L1582.0,643.4 L1583.0,643.6 L1584.0,643.8 L1585.0,643.9 L1586.0,644.1 L1587.0,644.3 L1588.0,644.5 L1589.0,644.6 L1590.0,644.8 L1591.0,645.0 L1592.0,645.1 L1593.0,645.3 L1594.0,645.5 L1595.0,645.6 L1596.0,645.8 L1597.0,646.0 L1598.0,646.1 L1599.0,646.3 L1600.0,646.4 L1601.0,646.6 L1602.0,646.7 L1603.0,646.9 L1604.0,647.0 L1605.0,647.2 L1606.0,647.3 L1607.0,647.5 L1608.0,647.6 L1609.0,647.8 L1610.0,647.9 L1611.0,648.1 L1612.0,648.2 L1613.0,648.4 L1614.0,648.5 L1615.0,648.7 L1616.0,648.8 L1617.0,649.0 L1618.0,649.1 L1619.0,649.1 L1620.0,649.2 L1621.0,649.2 L1622.0,649.3 L1623.0,649.3 L1624.0,649.4 L1625.0,649.4 L1626.0,649.5 L1627.0,649.5 L1628.0,649.6 L1629.0,649.6 L1630.0,649.7 L1631.0,649.7 L1632.0,649.8 L1633.0,649.8 L1634.0,649.9 L1635.0,649.9 L1636.0,650.0 L1637.0,650.0 L1638.0,650.1 L1639.0,650.1 L1640.0,650.2 L1641.0,650.2 L1642.0,650.3 L1643.0,650.3 L1644.0,650.4 L1645.0,650.4 L1646.0,650.6 L1647.0,650.7 L1648.0,650.8 L1649.0,651.0 L1650.0,651.1 L1651.0,651.3 L1652.0,651.4 L1653.0,651.5 L1654.0,651.7 L1655.0,651.8 L1656.0,652.0 L1657.0,652.1 L1658.0,652.2 L1659.0,652.4 L1660.0,652.5 L1661.0,652.7 L1662.0,652.8 L1663.0,653.0 L1664.0,653.1 L1665.0,653.3 L1666.0,653.4 L1667.0,653.6 L1668.0,653.7 L1669.0,653.9 L1670.0,654.0 L1671.0,654.2 L1672.0,654.4 L1673.0,654.5 L1674.0,654.7 L1675.0,654.8 L1676.0,655.0 L1677.0,655.1 L1678.0,655.3 L1679.0,655.4 L1680.0,655.6 L1681.0,655.7 L1682.0,655.9 L1683.0,656.0 L1684.0,656.2 L1685.0,656.3 L1686.0,656.5 L1687,709 Z" fill="#fff5f6" stroke="none"/>
<line x1="1028" y1="615.5" x2="1686" y2="615.5" stroke="#e88ea1" stroke-width="1" stroke-dasharray="18 6"/>
<line x1="1028" y1="645.5" x2="1686" y2="645.5" stroke="#e88ea1" stroke-width="1" stroke-dasharray="18 6"/>
<path d="M1028.5,628V630M1029.5,628V631M1030.5,629V634M1031.5,627V631M1032.5,629V631M1033.5,628V631M1034.5,628V631M1035.5,625V630M1036.5,628V630M1037.5,629V631M1038.5,630V632M1039.5,628V631M1040.5,629V632M1041.5,629V630M1042.5,628V630M1043.5,629V631M1044.5,630V632M1045.5,630V633M1046.5,630V634M1047.5,628V631M1048.5,628V631M1049.5,629V630M1050.5,628V630M1051.5,627V630M1052.5,629V631M1053.5,630V632M1054.5,630V633M1055.5,627V631M1056.5,629V631M1057.5,628V632M1058.5,626V631M1059.5,627V633M1060.5,626V631M1061.5,631V634M1062.5,628V633M1063.5,629V633M1064.5,627V632M1065.5,627V630M1066.5,626V632M1067.5,628V631M1068.5,628V634M1069.5,628V631M1070.5,629V633M1071.5,630V632M1072.5,630V632M1073.5,629V632M1074.5,629V631M1075.5,629V632M1076.5,630V634M1077.5,630V632M1078.5,630V631M1079.5,630V631M1080.5,628V631M1081.5,625V629M1082.5,627V629M1083.5,627V630M1084.5,628V630M1085.5,626V630M1086.5,627V630M1087.5,627V631M1088.5,626V632M1089.5,627V631M1090.5,628V633M1091.5,628V629M1092.5,626V629M1093.5,627V630M1094.5,628V629M1095.5,628V631M1096.5,627V630M1097.5,626V628M1098.5,627V628M1099.5,626V629M1100.5,627V630M1101.5,628V630M1102.5,626V630M1103.5,628V632M1104.5,628V630M1105.5,627V630M1106.5,627V630M1107.5,628V629M1108.5,627V630M1109.5,627V630M1110.5,625V629M1111.5,629V635M1112.5,629V631M1113.5,628V630M1114.5,629V632M1115.5,629V632M1116.5,628V630M1117.5,627V634M1118.5,629V632M1119.5,628V633M1120.5,627V630M1121.5,629V633M1122.5,629V631M1123.5,627V630M1124.5,626V629M1125.5,626V630M1126.5,627V629M1127.5,627V629M1128.5,626V630M1129.5,627V629M1130.5,626V629M1131.5,626V630M1132.5,628V629M1133.5,628V631M1134.5,626V631M1135.5,628V630M1136.5,628V630M1137.5,627V629M1138.5,626V631M1139.5,627V630M1140.5,625V631M1141.5,627V629M1142.5,626V628M1143.5,626V628M1144.5,627V629M1145.5,627V629M1146.5,627V631M1147.5,626V630M1148.5,627V629M1149.5,627V629M1150.5,627V630M1151.5,628V632M1152.5,628V631M1153.5,628V630M1154.5,628V630M1155.5,627V629M1156.5,624V628M1157.5,625V629M1158.5,628V630M1159.5,627V629M1160.5,628V629M1161.5,626V629M1162.5,626V630M1163.5,626V628M1164.5,627V629M1165.5,627V629M1166.5,626V629M1167.5,624V628M1168.5,625V630M1169.5,622V630M1170.5,624V628M1171.5,626V628M1172.5,625V627M1173.5,625V627M1174.5,626V628M1175.5,624V628M1176.5,624V626M1177.5,624V628M1178.5,622V626M1179.5,626V629M1180.5,625V630M1181.5,626V628M1182.5,626V628M1183.5,627V630M1184.5,625V629M1185.5,624V628M1186.5,627V630M1187.5,625V629M1188.5,626V628M1189.5,626V628M1190.5,624V627M1191.5,626V629M1192.5,628V629M1193.5,627V629M1194.5,627V630M1195.5,627V630M1196.5,627V630M1197.5,628V631M1198.5,625V629M1199.5,628V630M1200.5,630V632M1201.5,629V632M1202.5,629V631M1203.5,630V632M1204.5,631V632M1205.5,631V633M1206.5,631V635M1207.5,631V633M1208.5,630V636M1209.5,631V634M1210.5,630V633M1211.5,631V633M1212.5,631V634M1213.5,632V635M1214.5,633V635M1215.5,630V634M1216.5,631V634M1217.5,632V637M1218.5,633V635M1219.5,634V636M1220.5,631V634M1221.5,631V635M1222.5,634V635M1223.5,631V636M1224.5,631V634M1225.5,631V633M1226.5,631V633M1227.5,630V632M1228.5,630V635M1229.5,630V633M1230.5,630V636M1231.5,631V634M1232.5,630V633M1233.5,628V632M1234.5,630V634M1235.5,629V634M1236.5,629V631M1237.5,630V633M1238.5,631V634M1239.5,630V634M1240.5,631V634M1241.5,629V633M1242.5,628V632M1243.5,630V631M1244.5,627V632M1245.5,631V633M1246.5,631V635M1247.5,630V632M1248.5,630V632M1249.5,629V631M1250.5,628V632M1251.5,630V635M1252.5,628V632M1253.5,632V634M1254.5,630V633M1255.5,630V634M1256.5,630V633M1257.5,629V632M1258.5,631V633M1259.5,629V632M1260.5,629V634M1261.5,629V632M1262.5,629V632M1263.5,627V632M1264.5,628V630M1265.5,627V629M1266.5,627V631M1267.5,628V631M1268.5,629V633M1269.5,628V630M1270.5,628V630M1271.5,628V632M1272.5,629V631M1273.5,628V630M1274.5,625V630M1275.5,628V629M1276.5,627V630M1277.5,626V630M1278.5,626V629M1279.5,627V630M1280.5,627V629M1281.5,627V628M1282.5,625V627M1283.5,625V627M1284.5,624V627M1285.5,626V631M1286.5,625V629M1287.5,625V628M1288.5,625V627M1289.5,624V627M1290.5,625V629M1291.5,624V627M1292.5,626V628M1293.5,624V628M1294.5,622V627M1295.5,625V628M1296.5,624V629M1297.5,625V628M1298.5,624V627M1299.5,622V627M1300.5,623V626M1301.5,625V627M1302.5,625V628M1303.5,624V627M1304.5,625V626M1305.5,626V627M1306.5,625V627M1307.5,624V627M1308.5,625V628M1309.5,624V627M1310.5,624V627M1311.5,625V627M1312.5,625V627M1313.5,626V627M1314.5,626V627M1315.5,625V627M1316.5,625V627M1317.5,626V628M1318.5,625V628M1319.5,626V628M1320.5,626V628M1321.5,627V628M1322.5,627V628M1323.5,623V628M1324.5,626V628M1325.5,627V628M1326.5,627V628M1327.5,625V628M1328.5,626V628M1329.5,626V628M1330.5,627V628M1331.5,627V629M1332.5,626V629M1333.5,625V629M1334.5,626V629M1335.5,627V629M1336.5,627V631M1337.5,629V632M1338.5,626V630M1339.5,629V630M1340.5,628V632M1341.5,630V631M1342.5,629V631M1343.5,630V632M1344.5,629V631M1345.5,630V632M1346.5,630V632M1347.5,629V632M1348.5,630V633M1349.5,630V633M1350.5,630V632M1351.5,631V634M1352.5,631V633M1353.5,632V634M1354.5,632V635M1355.5,633V635M1356.5,633V636M1357.5,632V635M1358.5,633V637M1359.5,634V637M1360.5,634V637M1361.5,634V637M1362.5,635V637M1363.5,634V636M1364.5,634V637M1365.5,636V638M1366.5,635V636M1367.5,635V637M1368.5,636V638M1369.5,635V639M1370.5,637V641M1371.5,638V640M1372.5,637V639M1373.5,638V639M1374.5,638V640M1375.5,638V640M1376.5,638V640M1377.5,638V641M1378.5,638V640M1379.5,640V642M1380.5,640V642M1381.5,640V643M1382.5,640V642M1383.5,640V643M1384.5,641V643M1385.5,642V644M1386.5,642V644M1387.5,642V644M1388.5,643V644M1389.5,641V643M1390.5,640V644M1391.5,643V644M1392.5,642V643M1393.5,641V645M1394.5,644V646M1395.5,643V646M1396.5,643V645M1397.5,644V647M1398.5,643V646M1399.5,644V645M1400.5,643V647M1401.5,642V645M1402.5,643V645M1403.5,642V646M1404.5,645V647M1405.5,645V648M1406.5,645V646M1407.5,645V647M1408.5,643V647M1409.5,645V648M1410.5,645V647M1411.5,645V648M1412.5,644V646M1413.5,645V647M1414.5,645V646M1415.5,645V647M1416.5,644V648M1417.5,646V648M1418.5,646V649M1419.5,646V648M1420.5,646V647M1421.5,646V647M1422.5,645V647M1423.5,646V647M1424.5,645V647M1425.5,645V648M1426.5,645V649M1427.5,646V647M1428.5,646V647M1429.5,646V648M1430.5,646V648M1431.5,646V648M1432.5,646V648M1433.5,645V647M1434.5,645V648M1435.5,646V648M1436.5,645V648M1437.5,646V648M1438.5,647V648M1439.5,647V649M1440.5,646V649M1441.5,646V648M1442.5,646V647M1443.5,647V648M1444.5,646V648M1445.5,646V649M1446.5,646V649M1447.5,645V648M1448.5,646V648M1449.5,646V648M1450.5,646V648M1451.5,646V647M1452.5,644V647M1453.5,645V646M1454.5,645V646M1455.5,644V646M1456.5,644V646M1457.5,644V646M1458.5,644V647M1459.5,644V645M1460.5,643V645M1461.5,643V645M1462.5,644V645M1463.5,642V647M1464.5,642V645M1465.5,643V645M1466.5,643V645M1467.5,643V644M1468.5,643V644M1469.5,644V646M1470.5,643V645M1471.5,642V645M1472.5,642V644M1473.5,643V644M1474.5,642V644M1475.5,641V644M1476.5,643V644M1477.5,642V644M1478.5,643V645M1479.5,643V645M1480.5,642V644M1481.5,644V645M1482.5,643V645M1483.5,643V646M1484.5,642V645M1485.5,642V644M1486.5,641V643M1487.5,640V641M1488.5,640V643M1489.5,640V642M1490.5,639V641M1491.5,639V641M1492.5,639V641M1493.5,639V640M1494.5,640V641M1495.5,640V641M1496.5,638V641M1497.5,639V641M1498.5,639V641M1499.5,637V641M1500.5,639V641M1501.5,639V640M1502.5,638V640M1503.5,638V640M1504.5,639V640M1505.5,638V640M1506.5,638V640M1507.5,637V641M1508.5,637V640M1509.5,637V639M1510.5,638V640M1511.5,639V641M1512.5,638V640M1513.5,638V640M1514.5,638V639M1515.5,638V640M1516.5,638V640M1517.5,637V639M1518.5,638V639M1519.5,638V640M1520.5,638V640M1521.5,639V641M1522.5,640V641M1523.5,640V641M1524.5,640V642M1525.5,638V641M1526.5,640V642M1527.5,641V643M1528.5,641V642M1529.5,640V642M1530.5,640V642M1531.5,640V642M1532.5,641V643M1533.5,640V642M1534.5,640V642M1535.5,640V641M1536.5,639V641M1537.5,639V641M1538.5,639V640M1539.5,638V640M1540.5,637V640M1541.5,638V639M1542.5,637V639M1543.5,636V639M1544.5,638V639M1545.5,636V640M1546.5,638V640M1547.5,638V640M1548.5,637V640M1549.5,638V640M1550.5,638V640M1551.5,638V640M1552.5,638V640M1553.5,637V640M1554.5,639V640M1555.5,639V641M1556.5,638V640M1557.5,639V642M1558.5,639V642M1559.5,639V642M1560.5,639V641M1561.5,639V641M1562.5,640V641M1563.5,640V642M1564.5,640V642M1565.5,640V643M1566.5,639V643M1567.5,639V643M1568.5,638V642M1569.5,639V641M1570.5,640V642M1571.5,641V642M1572.5,641V643M1573.5,641V643M1574.5,642V644M1575.5,641V643M1576.5,641V644M1577.5,641V642M1578.5,641V643M1579.5,642V643M1580.5,640V645M1581.5,642V644M1582.5,643V646M1583.5,643V645M1584.5,642V645M1585.5,643V645M1586.5,643V645M1587.5,643V645M1588.5,644V646M1589.5,645V646M1590.5,645V647M1591.5,645V646M1592.5,644V646M1593.5,645V646M1594.5,645V646M1595.5,645V646M1596.5,645V646M1597.5,645V647M1598.5,645V647M1599.5,646V647M1600.5,646V648M1601.5,645V647M1602.5,644V648M1603.5,646V648M1604.5,646V649M1605.5,647V648M1606.5,647V650M1607.5,646V648M1608.5,646V648M1609.5,647V649M1610.5,647V650M1611.5,647V649M1612.5,648V649M1613.5,648V649M1614.5,647V650M1615.5,647V649M1616.5,647V649M1617.5,648V650M1618.5,647V650M1619.5,649V650M1620.5,648V650M1621.5,649V650M1622.5,647V652M1623.5,648V650M1624.5,649V650M1625.5,648V651M1626.5,648V650M1627.5,648V651M1628.5,649V650M1629.5,647V653M1630.5,649V651M1631.5,649V651M1632.5,649V650M1633.5,649V651M1634.5,648V651M1635.5,648V651M1636.5,649V651M1637.5,647V650M1638.5,649V651M1639.5,648V650M1640.5,649V652M1641.5,649V651M1642.5,649V652M1643.5,649V653M1644.5,650V651M1645.5,649V651M1646.5,650V652M1647.5,650V651M1648.5,650V652M1649.5,650V653M1650.5,651V653M1651.5,649V653M1652.5,651V653M1653.5,651V652M1654.5,651V652M1655.5,651V652M1656.5,651V652M1657.5,651V653M1658.5,651V654M1659.5,651V653M1660.5,651V653M1661.5,651V653M1662.5,652V654M1663.5,652V655M1664.5,652V654M1665.5,653V655M1666.5,653V655M1667.5,653V654M1668.5,652V655M1669.5,652V656M1670.5,652V655M1671.5,654V655M1672.5,655V657M1673.5,653V655M1674.5,654V656M1675.5,653V656M1676.5,654V656M1677.5,654V656M1678.5,653V657M1679.5,655V656M1680.5,655V656M1681.5,655V656M1682.5,655V658M1683.5,655V657M1684.5,655V657M1685.5,656V658" fill="none" stroke="#ee8399" stroke-width="1" shape-rendering="crispEdges"/>
<rect x="1028" y="633" width="658" height="1" fill="#000"/>
<rect x="1026" y="550" width="662" height="2" fill="#000"/>
<rect x="1026" y="709" width="662" height="2" fill="#000"/>
<rect x="1026" y="550" width="2" height="161" fill="#000"/>
<rect x="1686" y="550" width="2" height="161" fill="#000"/>
<rect x="1019" y="553" width="8" height="1" fill="#000"/>
<rect x="1024" y="557" width="3" height="1" fill="#000"/>
<rect x="1024" y="560" width="3" height="1" fill="#000"/>
<rect x="1024" y="564" width="3" height="1" fill="#000"/>
<rect x="1024" y="568" width="3" height="1" fill="#000"/>
<rect x="1019" y="572" width="8" height="1" fill="#000"/>
<rect x="1024" y="576" width="3" height="1" fill="#000"/>
<rect x="1024" y="579" width="3" height="1" fill="#000"/>
<rect x="1024" y="583" width="3" height="1" fill="#000"/>
<rect x="1024" y="587" width="3" height="1" fill="#000"/>
<rect x="1019" y="591" width="8" height="1" fill="#000"/>
<rect x="1024" y="595" width="3" height="1" fill="#000"/>
<rect x="1024" y="599" width="3" height="1" fill="#000"/>
<rect x="1024" y="603" width="3" height="1" fill="#000"/>
<rect x="1024" y="607" width="3" height="1" fill="#000"/>
<rect x="1019" y="611" width="8" height="1" fill="#000"/>
<rect x="1024" y="615" width="3" height="1" fill="#000"/>
<rect x="1024" y="618" width="3" height="1" fill="#000"/>
<rect x="1024" y="622" width="3" height="1" fill="#000"/>
<rect x="1024" y="626" width="3" height="1" fill="#000"/>
<rect x="1019" y="630" width="8" height="1" fill="#000"/>
<rect x="1024" y="634" width="3" height="1" fill="#000"/>
<rect x="1024" y="637" width="3" height="1" fill="#000"/>
<rect x="1024" y="641" width="3" height="1" fill="#000"/>
<rect x="1024" y="645" width="3" height="1" fill="#000"/>
<rect x="1019" y="649" width="8" height="1" fill="#000"/>
<rect x="1024" y="653" width="3" height="1" fill="#000"/>
<rect x="1024" y="656" width="3" height="1" fill="#000"/>
<rect x="1024" y="660" width="3" height="1" fill="#000"/>
<rect x="1024" y="664" width="3" height="1" fill="#000"/>
<rect x="1019" y="668" width="8" height="1" fill="#000"/>
<rect x="1024" y="672" width="3" height="1" fill="#000"/>
<rect x="1024" y="676" width="3" height="1" fill="#000"/>
<rect x="1024" y="680" width="3" height="1" fill="#000"/>
<rect x="1024" y="684" width="3" height="1" fill="#000"/>
<rect x="1019" y="688" width="8" height="1" fill="#000"/>
<rect x="1024" y="692" width="3" height="1" fill="#000"/>
<rect x="1024" y="695" width="3" height="1" fill="#000"/>
<rect x="1024" y="699" width="3" height="1" fill="#000"/>
<rect x="1024" y="703" width="3" height="1" fill="#000"/>
<rect x="1019" y="707" width="8" height="1" fill="#000"/>
<rect x="1214" y="552" width="1" height="157" fill="#000"/>
<path d="M1176.3 549.6 L1179.8 542.6 L1183.3 549.6 Z" fill="#ee8399" stroke="#000" stroke-width="1"/>
<path d="M1681.8 711.8 L1689.4 711.8 L1685.6 718.8 Z" fill="#f0788f" stroke="#000" stroke-width="1" shape-rendering="geometricPrecision"/>
<rect x="1031" y="634" width="19" height="9" fill="#fffafa"/>
<path d="M1018.5 633 L1026 636.8 L1018.5 640.8 Z" fill="#ee8399" stroke="#000" stroke-width="1"/>
<rect x="1027" y="735" width="660" height="1" fill="#b4b4b4"/>
<rect x="1027" y="901" width="660" height="1" fill="#b4b4b4"/>
<rect x="1027" y="735" width="1" height="167" fill="#b4b4b4"/>
<rect x="1686" y="735" width="1" height="167" fill="#b4b4b4"/>
<line x1="1028" y1="802.5" x2="1686" y2="802.5" stroke="#a9d3f1" stroke-width="1" stroke-dasharray="18 6"/>
<line x1="1028" y1="834.5" x2="1686" y2="834.5" stroke="#a9d3f1" stroke-width="1" stroke-dasharray="18 6"/>
<path d="M1028.5,860V863M1029.5,860V863M1030.5,859V863M1031.5,860V863M1032.5,861V864M1033.5,862V867M1034.5,863V866M1035.5,863V866M1036.5,863V866M1037.5,862V865M1038.5,862V865M1039.5,862V865M1040.5,862V865M1041.5,862V865M1042.5,860V863M1043.5,860V863M1044.5,859V862M1045.5,858V861M1046.5,858V861M1047.5,858V860M1048.5,857V860M1049.5,858V861M1050.5,857V861M1051.5,857V860M1052.5,857V860M1053.5,856V859M1054.5,856V859M1055.5,855V859M1056.5,855V858M1057.5,854V860M1058.5,854V857M1059.5,854V857M1060.5,853V858M1061.5,852V854M1062.5,852V855M1063.5,852V855M1064.5,852V854M1065.5,852V855M1066.5,852V855M1067.5,850V853M1068.5,851V853M1069.5,850V854M1070.5,850V853M1071.5,848V852M1072.5,848V851M1073.5,848V851M1074.5,847V851M1075.5,847V850M1076.5,848V851M1077.5,847V850M1078.5,847V849M1079.5,844V847M1080.5,844V847M1081.5,844V846M1082.5,843V846M1083.5,842V845M1084.5,842V845M1085.5,842V845M1086.5,842V845M1087.5,841V844M1088.5,840V843M1089.5,840V843M1090.5,839V842M1091.5,839V842M1092.5,840V842M1093.5,838V841M1094.5,838V841M1095.5,838V841M1096.5,837V840M1097.5,839V841M1098.5,837V841M1099.5,838V842M1100.5,836V840M1101.5,838V840M1102.5,837V839M1103.5,834V838M1104.5,835V837M1105.5,834V837M1106.5,834V837M1107.5,834V837M1108.5,834V836M1109.5,833V835M1110.5,832V835M1111.5,832V835M1112.5,832V835M1113.5,832V835M1114.5,832V834M1115.5,831V834M1116.5,831V833M1117.5,830V833M1118.5,830V833M1119.5,830V833M1120.5,830V833M1121.5,825V830M1122.5,827V829M1123.5,826V829M1124.5,827V830M1125.5,827V830M1126.5,827V830M1127.5,826V829M1128.5,825V829M1129.5,826V829M1130.5,827V829M1131.5,826V829M1132.5,826V829M1133.5,828V832M1134.5,828V830M1135.5,828V831M1136.5,826V829M1137.5,827V829M1138.5,826V829M1139.5,826V828M1140.5,826V828M1141.5,826V829M1142.5,826V829M1143.5,826V829M1144.5,826V829M1145.5,827V829M1146.5,826V829M1147.5,826V829M1148.5,828V830M1149.5,826V829M1150.5,828V830M1151.5,826V829M1152.5,826V829M1153.5,826V829M1154.5,827V830M1155.5,827V829M1156.5,826V829M1157.5,826V828M1158.5,826V829M1159.5,826V828M1160.5,826V829M1161.5,826V828M1162.5,826V829M1163.5,826V828M1164.5,825V828M1165.5,826V829M1166.5,826V829M1167.5,826V828M1168.5,826V829M1169.5,826V828M1170.5,825V828M1171.5,825V828M1172.5,824V827M1173.5,824V827M1174.5,824V827M1175.5,825V828M1176.5,825V827M1177.5,824V827M1178.5,824V826M1179.5,824V826M1180.5,824V826M1181.5,824V827M1182.5,824V827M1183.5,824V827M1184.5,824V826M1185.5,824V826M1186.5,824V826M1187.5,824V827M1188.5,824V827M1189.5,824V828M1190.5,824V827M1191.5,824V827M1192.5,824V827M1193.5,824V827M1194.5,824V826M1195.5,824V827M1196.5,824V827M1197.5,824V827M1198.5,824V828M1199.5,823V825M1200.5,823V825M1201.5,822V825M1202.5,823V825M1203.5,822V825M1204.5,823V825M1205.5,823V826M1206.5,823V826M1207.5,823V826M1208.5,824V827M1209.5,824V827M1210.5,824V827M1211.5,823V826M1212.5,824V826M1213.5,824V826M1214.5,822V825M1215.5,822V825M1216.5,822V825M1217.5,822V825M1218.5,822V824M1219.5,822V824M1220.5,822V824M1221.5,822V824M1222.5,822V824M1223.5,820V823M1224.5,820V823M1225.5,821V823M1226.5,822V825M1227.5,822V824M1228.5,822V825M1229.5,822V825M1230.5,820V824M1231.5,822V824M1232.5,822V825M1233.5,822V825M1234.5,822V824M1235.5,822V824M1236.5,821V824M1237.5,822V824M1238.5,822V825M1239.5,822V825M1240.5,821V825M1241.5,822V824M1242.5,822V825M1243.5,822V825M1244.5,822V825M1245.5,822V825M1246.5,822V825M1247.5,822V825M1248.5,823V825M1249.5,823V825M1250.5,822V825M1251.5,822V825M1252.5,822V824M1253.5,822V825M1254.5,822V824M1255.5,822V824M1256.5,823V825M1257.5,822V825M1258.5,822V825M1259.5,820V823M1260.5,820V823M1261.5,820V823M1262.5,822V825M1263.5,822V825M1264.5,822V825M1265.5,820V823M1266.5,820V823M1267.5,821V823M1268.5,822V825M1269.5,822V825M1270.5,822V825M1271.5,822V824M1272.5,822V824M1273.5,820V823M1274.5,820V823M1275.5,821V823M1276.5,821V823M1277.5,821V824M1278.5,821V824M1279.5,821V824M1280.5,820V823M1281.5,820V823M1282.5,820V823M1283.5,821V823M1284.5,821V823M1285.5,821V823M1286.5,821V824M1287.5,821V824M1288.5,821V824M1289.5,822V825M1290.5,822V825M1291.5,820V824M1292.5,820V823M1293.5,820V823M1294.5,820V823M1295.5,820V823M1296.5,820V823M1297.5,820V822M1298.5,821V824M1299.5,822V824M1300.5,822V824M1301.5,820V823M1302.5,821V823M1303.5,821V823M1304.5,820V823M1305.5,820V822M1306.5,820V823M1307.5,820V822M1308.5,820V823M1309.5,820V822M1310.5,822V825M1311.5,822V824M1312.5,822V824M1313.5,822V825M1314.5,822V825M1315.5,823V825M1316.5,824V826M1317.5,823V826M1318.5,824V827M1319.5,823V826M1320.5,824V826M1321.5,823V826M1322.5,824V826M1323.5,824V827M1324.5,824V826M1325.5,824V827M1326.5,824V827M1327.5,825V827M1328.5,824V826M1329.5,824V827M1330.5,824V826M1331.5,824V827M1332.5,824V827M1333.5,824V827M1334.5,824V827M1335.5,824V826M1336.5,824V826M1337.5,825V827M1338.5,824V827M1339.5,825V827M1340.5,824V827M1341.5,826V828M1342.5,825V828M1343.5,826V828M1344.5,826V828M1345.5,825V828M1346.5,824V827M1347.5,825V827M1348.5,824V827M1349.5,825V828M1350.5,825V828M1351.5,825V828M1352.5,824V827M1353.5,824V827M1354.5,824V827M1355.5,824V827M1356.5,824V827M1357.5,824V827M1358.5,824V826M1359.5,824V827M1360.5,824V827M1361.5,824V827M1362.5,824V826M1363.5,824V827M1364.5,825V827M1365.5,825V827M1366.5,824V827M1367.5,824V827M1368.5,825V827M1369.5,824V827M1370.5,824V826M1371.5,824V826M1372.5,824V826M1373.5,824V827M1374.5,824V827M1375.5,824V827M1376.5,824V827M1377.5,824V826M1378.5,824V827M1379.5,825V827M1380.5,824V827M1381.5,825V827M1382.5,824V827M1383.5,824V827M1384.5,824V826M1385.5,824V827M1386.5,824V827M1387.5,824V827M1388.5,824V826M1389.5,824V826M1390.5,824V826M1391.5,824V827M1392.5,824V827M1393.5,823V826M1394.5,824V826M1395.5,824V827M1396.5,824V827M1397.5,824V827M1398.5,824V827M1399.5,824V827M1400.5,823V826M1401.5,824V826M1402.5,824V827M1403.5,824V827M1404.5,824V826M1405.5,824V826M1406.5,824V826M1407.5,824V826M1408.5,824V826M1409.5,823V825M1410.5,822V825M1411.5,823V825M1412.5,824V827M1413.5,824V827M1414.5,823V826M1415.5,824V826M1416.5,823V826M1417.5,822V825M1418.5,822V825M1419.5,822V824M1420.5,822V824M1421.5,822V825M1422.5,822V825M1423.5,822V824M1424.5,821V824M1425.5,822V824M1426.5,821V824M1427.5,820V822M1428.5,820V822M1429.5,820V822M1430.5,820V823M1431.5,820V822M1432.5,820V823M1433.5,820V823M1434.5,820V823M1435.5,820V823M1436.5,820V822M1437.5,819V822M1438.5,819V821M1439.5,819V822M1440.5,819V822M1441.5,819V822M1442.5,820V822M1443.5,820V823M1444.5,820V823M1445.5,818V821M1446.5,819V822M1447.5,818V821M1448.5,819V822M1449.5,819V821M1450.5,818V821M1451.5,818V821M1452.5,819V821M1453.5,818V821M1454.5,818V821M1455.5,818V821M1456.5,818V820M1457.5,818V820M1458.5,818V821M1459.5,818V821M1460.5,818V821M1461.5,818V821M1462.5,818V820M1463.5,817V819M1464.5,816V819M1465.5,816V819M1466.5,816V819M1467.5,816V819M1468.5,816V819M1469.5,817V820M1470.5,816V819M1471.5,817V819M1472.5,816V819M1473.5,816V819M1474.5,816V818M1475.5,816V819M1476.5,816V819M1477.5,816V818M1478.5,816V819M1479.5,816V819M1480.5,816V819M1481.5,816V819M1482.5,816V818M1483.5,816V819M1484.5,816V818M1485.5,816V818M1486.5,815V818M1487.5,816V819M1488.5,816V818M1489.5,816V819M1490.5,815V818M1491.5,816V818M1492.5,816V818M1493.5,816V819M1494.5,816V818M1495.5,816V819M1496.5,817V819M1497.5,817V820M1498.5,817V820M1499.5,817V819M1500.5,816V819M1501.5,817V819M1502.5,817V819M1503.5,817V820M1504.5,818V821M1505.5,818V820M1506.5,818V821M1507.5,819V821M1508.5,818V820M1509.5,818V821M1510.5,818V821M1511.5,818V821M1512.5,818V821M1513.5,819V822M1514.5,820V823M1515.5,820V823M1516.5,820V823M1517.5,820V822M1518.5,821V824M1519.5,820V823M1520.5,822V825M1521.5,822V825M1522.5,822V825M1523.5,824V827M1524.5,824V826M1525.5,824V827M1526.5,823V826M1527.5,823V826M1528.5,823V825M1529.5,822V825M1530.5,823V826M1531.5,823V825M1532.5,822V825M1533.5,821V824M1534.5,822V824M1535.5,820V823M1536.5,820V823M1537.5,820V823M1538.5,820V822M1539.5,820V822M1540.5,820V822M1541.5,820V823M1542.5,820V823M1543.5,820V823M1544.5,819V822M1545.5,820V822M1546.5,819V822M1547.5,820V823M1548.5,820V822M1549.5,820V822M1550.5,820V822M1551.5,820V822M1552.5,819V822M1553.5,820V822M1554.5,819V822M1555.5,820V823M1556.5,819V822M1557.5,819V822M1558.5,819V822M1559.5,820V823M1560.5,820V822M1561.5,820V822M1562.5,818V821M1563.5,818V821M1564.5,818V821M1565.5,820V822M1566.5,820V822M1567.5,820V822M1568.5,820V823M1569.5,820V822M1570.5,820V822M1571.5,819V822M1572.5,820V822M1573.5,820V822M1574.5,820V823M1575.5,820V822M1576.5,820V822M1577.5,820V823M1578.5,820V823M1579.5,820V822M1580.5,820V823M1581.5,820V823M1582.5,820V823M1583.5,820V823M1584.5,820V823M1585.5,820V823M1586.5,820V823M1587.5,820V823M1588.5,820V823M1589.5,820V822M1590.5,819V822M1591.5,818V821M1592.5,820V823M1593.5,820V822M1594.5,820V823M1595.5,820V823M1596.5,820V822M1597.5,820V823M1598.5,819V822M1599.5,820V822M1600.5,820V822M1601.5,819V822M1602.5,819V822M1603.5,818V823M1604.5,819V822M1605.5,819V822M1606.5,820V822M1607.5,819V822M1608.5,819V822M1609.5,820V822M1610.5,819V821M1611.5,819V821M1612.5,818V821M1613.5,819V822M1614.5,820V822M1615.5,819V822M1616.5,819V822M1617.5,820V823M1618.5,820V823M1619.5,820V823M1620.5,820V822M1621.5,820V822M1622.5,820V823M1623.5,820V823M1624.5,820V822M1625.5,820V822M1626.5,820V823M1627.5,820V823M1628.5,820V822M1629.5,820V822M1630.5,820V822M1631.5,818V821M1632.5,820V822M1633.5,819V822M1634.5,820V822M1635.5,820V822M1636.5,819V822M1637.5,819V821M1638.5,818V821M1639.5,818V821M1640.5,820V822M1641.5,820V823M1642.5,820V822M1643.5,819V822M1644.5,820V822M1645.5,819V822M1646.5,820V823M1647.5,820V822M1648.5,820V822M1649.5,820V823M1650.5,820V823M1651.5,820V823M1652.5,820V823M1653.5,820V823M1654.5,820V823M1655.5,820V822M1656.5,820V823M1657.5,820V823M1658.5,820V822M1659.5,820V823M1660.5,820V822M1661.5,820V823M1662.5,820V823M1663.5,820V822M1664.5,820V822M1665.5,820V823M1666.5,820V822M1667.5,820V822M1668.5,820V823M1669.5,819V822M1670.5,820V822M1671.5,820V822M1672.5,820V822M1673.5,821V823M1674.5,820V823M1675.5,820V823M1676.5,820V822M1677.5,820V823M1678.5,820V822M1679.5,820V822M1680.5,820V822M1681.5,820V822M1682.5,820V823M1683.5,820V822M1684.5,820V823M1685.5,819V822" fill="none" stroke="#9fd0f2" stroke-width="1" shape-rendering="crispEdges"/>
<rect x="1019" y="737" width="8" height="1" fill="#b4b4b4"/>
<rect x="1024" y="741" width="3" height="1" fill="#b4b4b4"/>
<rect x="1024" y="745" width="3" height="1" fill="#b4b4b4"/>
<rect x="1024" y="749" width="3" height="1" fill="#b4b4b4"/>
<rect x="1024" y="753" width="3" height="1" fill="#b4b4b4"/>
<rect x="1019" y="757" width="8" height="1" fill="#b4b4b4"/>
<rect x="1024" y="761" width="3" height="1" fill="#b4b4b4"/>
<rect x="1024" y="765" width="3" height="1" fill="#b4b4b4"/>
<rect x="1024" y="769" width="3" height="1" fill="#b4b4b4"/>
<rect x="1024" y="773" width="3" height="1" fill="#b4b4b4"/>
<rect x="1019" y="777" width="8" height="1" fill="#b4b4b4"/>
<rect x="1024" y="781" width="3" height="1" fill="#b4b4b4"/>
<rect x="1024" y="785" width="3" height="1" fill="#b4b4b4"/>
<rect x="1024" y="790" width="3" height="1" fill="#b4b4b4"/>
<rect x="1024" y="794" width="3" height="1" fill="#b4b4b4"/>
<rect x="1019" y="798" width="8" height="1" fill="#b4b4b4"/>
<rect x="1024" y="802" width="3" height="1" fill="#b4b4b4"/>
<rect x="1024" y="806" width="3" height="1" fill="#b4b4b4"/>
<rect x="1024" y="810" width="3" height="1" fill="#b4b4b4"/>
<rect x="1024" y="814" width="3" height="1" fill="#b4b4b4"/>
<rect x="1019" y="818" width="8" height="1" fill="#b4b4b4"/>
<rect x="1024" y="822" width="3" height="1" fill="#b4b4b4"/>
<rect x="1024" y="826" width="3" height="1" fill="#b4b4b4"/>
<rect x="1024" y="830" width="3" height="1" fill="#b4b4b4"/>
<rect x="1024" y="834" width="3" height="1" fill="#b4b4b4"/>
<rect x="1019" y="838" width="8" height="1" fill="#b4b4b4"/>
<rect x="1024" y="842" width="3" height="1" fill="#b4b4b4"/>
<rect x="1024" y="846" width="3" height="1" fill="#b4b4b4"/>
<rect x="1024" y="850" width="3" height="1" fill="#b4b4b4"/>
<rect x="1024" y="854" width="3" height="1" fill="#b4b4b4"/>
<rect x="1019" y="858" width="8" height="1" fill="#b4b4b4"/>
<rect x="1024" y="862" width="3" height="1" fill="#b4b4b4"/>
<rect x="1024" y="866" width="3" height="1" fill="#b4b4b4"/>
<rect x="1024" y="871" width="3" height="1" fill="#b4b4b4"/>
<rect x="1024" y="875" width="3" height="1" fill="#b4b4b4"/>
<rect x="1019" y="879" width="8" height="1" fill="#b4b4b4"/>
<rect x="1024" y="883" width="3" height="1" fill="#b4b4b4"/>
<rect x="1024" y="887" width="3" height="1" fill="#b4b4b4"/>
<rect x="1024" y="891" width="3" height="1" fill="#b4b4b4"/>
<rect x="1024" y="895" width="3" height="1" fill="#b4b4b4"/>
<rect x="1019" y="899" width="8" height="1" fill="#b4b4b4"/>
<rect x="1214" y="736" width="1" height="165" fill="#000"/>
<path d="M1478 733.4 L1481.7 726.2 L1485.4 733.4 Z" fill="#a9d3f1" stroke="#000" stroke-width="1"/>
<path d="M1018.5 823 L1026.5 827 L1018.5 831 Z" fill="#a9d3f1" stroke="#000" stroke-width="1"/>
<rect x="1018" y="822" width="9" height="3" fill="#a9d3f1"/>
<path d="M1029.8 903.4 L1037.2 903.4 L1033.5 910.6 Z" fill="#a9d3f1" stroke="#000" stroke-width="1"/>
<rect x="1027" y="911" width="661" height="1" fill="#000"/>
<rect x="1028" y="911" width="1" height="5" fill="#000"/>
<rect x="1049" y="911" width="1" height="5" fill="#000"/>
<rect x="1069" y="911" width="1" height="5" fill="#000"/>
<rect x="1090" y="911" width="1" height="10" fill="#000"/>
<rect x="1110" y="911" width="1" height="5" fill="#000"/>
<rect x="1131" y="911" width="1" height="5" fill="#000"/>
<rect x="1151" y="911" width="1" height="5" fill="#000"/>
<rect x="1172" y="911" width="1" height="5" fill="#000"/>
<rect x="1192" y="911" width="1" height="10" fill="#000"/>
<rect x="1213" y="911" width="1" height="5" fill="#000"/>
<rect x="1233" y="911" width="1" height="5" fill="#000"/>
<rect x="1254" y="911" width="1" height="5" fill="#000"/>
<rect x="1274" y="911" width="1" height="5" fill="#000"/>
<rect x="1295" y="911" width="1" height="10" fill="#000"/>
<rect x="1315" y="911" width="1" height="5" fill="#000"/>
<rect x="1336" y="911" width="1" height="5" fill="#000"/>
<rect x="1356" y="911" width="1" height="5" fill="#000"/>
<rect x="1377" y="911" width="1" height="5" fill="#000"/>
<rect x="1397" y="911" width="1" height="10" fill="#000"/>
<rect x="1418" y="911" width="1" height="5" fill="#000"/>
<rect x="1438" y="911" width="1" height="5" fill="#000"/>
<rect x="1459" y="911" width="1" height="5" fill="#000"/>
<rect x="1479" y="911" width="1" height="5" fill="#000"/>
<rect x="1500" y="911" width="1" height="10" fill="#000"/>
<rect x="1520" y="911" width="1" height="5" fill="#000"/>
<rect x="1541" y="911" width="1" height="5" fill="#000"/>
<rect x="1561" y="911" width="1" height="5" fill="#000"/>
<rect x="1582" y="911" width="1" height="5" fill="#000"/>
<rect x="1602" y="911" width="1" height="10" fill="#000"/>
<rect x="1623" y="911" width="1" height="5" fill="#000"/>
<rect x="1643" y="911" width="1" height="5" fill="#000"/>
<rect x="1664" y="911" width="1" height="5" fill="#000"/>
<rect x="1684" y="911" width="1" height="5" fill="#000"/>
<rect x="1213" y="911" width="2" height="9" fill="#000"/>
</svg>
<span class="t" style="left:21.00px;top:2.00px;height:14px;line-height:14px;font-size:12px;color:#000;letter-spacing:0.218px;">SView 2.17.10</span>
<span class="t" style="left:110.60px;top:2.00px;height:14px;line-height:14px;font-size:12px;color:#000;">:</span>
<span class="t" style="left:122.50px;top:2.00px;height:14px;line-height:14px;font-size:12px;color:#000;letter-spacing:0.090px;">C:\Users\Public\Documents\Syvecs\DownloadedData\RICESP\ECU sensor actuator tests\Lambda Sensor Calibrations\Hanz Gruber Hitler Youth ETAS LA4\2026-02-26 15-45-00 plus 0h00m00s S12#27290.SD</span>
<span class="t" style="left:8.30px;top:25.00px;height:14px;line-height:14px;font-size:12px;color:#000;letter-spacing:-0.861px;">File</span>
<span class="t" style="left:40.30px;top:25.00px;height:14px;line-height:14px;font-size:12px;color:#000;letter-spacing:-0.529px;">Session</span>
<span class="t" style="left:95.00px;top:25.00px;height:14px;line-height:14px;font-size:12px;color:#000;letter-spacing:-0.372px;">Graph</span>
<span class="t" style="left:141.50px;top:25.00px;height:14px;line-height:14px;font-size:12px;color:#000;letter-spacing:0.203px;">Zoom</span>
<span class="t" style="left:188.00px;top:25.00px;height:14px;line-height:14px;font-size:12px;color:#000;letter-spacing:-0.172px;">Channel</span>
<span class="t" style="left:246.00px;top:25.00px;height:14px;line-height:14px;font-size:12px;color:#000;letter-spacing:0.262px;">Worksheet</span>
<span class="t" style="left:320.50px;top:25.00px;height:14px;line-height:14px;font-size:12px;color:#000;letter-spacing:-0.206px;">Layer</span>
<span class="t" style="left:365.00px;top:25.00px;height:14px;line-height:14px;font-size:12px;color:#000;letter-spacing:-0.510px;">Lap</span>
<span class="t" style="left:399.00px;top:25.00px;height:14px;line-height:14px;font-size:12px;color:#000;letter-spacing:-0.176px;">TrackMap</span>
<span class="t" style="left:465.50px;top:25.00px;height:14px;line-height:14px;font-size:12px;color:#000;letter-spacing:0.161px;">Report</span>
<span class="t" style="left:518.00px;top:25.00px;height:14px;line-height:14px;font-size:12px;color:#000;letter-spacing:0.092px;">Options</span>
<span class="t" style="left:574.80px;top:25.00px;height:14px;line-height:14px;font-size:12px;color:#000;letter-spacing:-0.072px;">Math</span>
<span class="t" style="left:629.40px;top:24.00px;height:14px;line-height:14px;font-size:12px;color:#000;letter-spacing:0.311px;">Time : 16:00:08.335</span>
<span class="t" style="left:752.30px;top:24.00px;height:14px;line-height:14px;font-size:12px;color:#000;letter-spacing:-0.367px;">ETAS SENSOR ERROR : -0.4</span>
<span class="t" style="left:30.62px;top:68.00px;height:14px;line-height:14px;font-size:12px;color:#9bcdef;letter-spacing:-0.181px;">CAL SENSOR ERROR : -6.0 to -5.0</span>
<span class="t" style="left:21.28px;top:86.00px;height:14px;line-height:14px;font-size:12px;color:#ee93a6;letter-spacing:-0.118px;">ETAS SENSOR ERROR : -6.0 to -5.0</span>
<span class="t" style="left:263.40px;top:68.00px;height:14px;line-height:14px;font-size:12px;color:#9bcdef;letter-spacing:0.274px;">3.146</span>
<span class="t" style="left:233.50px;top:86.00px;height:14px;line-height:14px;font-size:12px;color:#ee93a6;letter-spacing:0.274px;">0.000</span>
<span class="t" style="left:30.62px;top:115.00px;height:14px;line-height:14px;font-size:12px;color:#9bcdef;letter-spacing:-0.181px;">CAL SENSOR ERROR : -5.0 to -4.0</span>
<span class="t" style="left:21.28px;top:133.00px;height:14px;line-height:14px;font-size:12px;color:#ee93a6;letter-spacing:-0.118px;">ETAS SENSOR ERROR : -5.0 to -4.0</span>
<span class="t" style="left:259.40px;top:115.00px;height:14px;line-height:14px;font-size:12px;color:#9bcdef;letter-spacing:0.274px;">2.676</span>
<span class="t" style="left:233.50px;top:133.00px;height:14px;line-height:14px;font-size:12px;color:#ee93a6;letter-spacing:0.274px;">0.000</span>
<span class="t" style="left:30.62px;top:162.00px;height:14px;line-height:14px;font-size:12px;color:#9bcdef;letter-spacing:-0.181px;">CAL SENSOR ERROR : -4.0 to -3.0</span>
<span class="t" style="left:21.28px;top:180.00px;height:14px;line-height:14px;font-size:12px;color:#ee93a6;letter-spacing:-0.118px;">ETAS SENSOR ERROR : -4.0 to -3.0</span>
<span class="t" style="left:265.40px;top:162.00px;height:14px;line-height:14px;font-size:12px;color:#9bcdef;letter-spacing:0.274px;">3.337</span>
<span class="t" style="left:253.40px;top:180.00px;height:14px;line-height:14px;font-size:12px;color:#ee93a6;letter-spacing:0.452px;">2.116</span>
<span class="t" style="left:30.62px;top:209.00px;height:14px;line-height:14px;font-size:12px;color:#9bcdef;letter-spacing:-0.181px;">CAL SENSOR ERROR : -3.0 to -2.0</span>
<span class="t" style="left:21.28px;top:227.00px;height:14px;line-height:14px;font-size:12px;color:#ee93a6;letter-spacing:-0.118px;">ETAS SENSOR ERROR : -3.0 to -2.0</span>
<span class="t" style="left:259.40px;top:209.00px;height:14px;line-height:14px;font-size:12px;color:#9bcdef;letter-spacing:0.274px;">2.741</span>
<span class="t" style="left:392.40px;top:227.00px;height:14px;line-height:14px;font-size:12px;color:#ee93a6;letter-spacing:0.249px;">16.477</span>
<span class="t" style="left:30.62px;top:256.00px;height:14px;line-height:14px;font-size:12px;color:#9bcdef;letter-spacing:-0.181px;">CAL SENSOR ERROR : -2.0 to -1.0</span>
<span class="t" style="left:21.28px;top:274.00px;height:14px;line-height:14px;font-size:12px;color:#ee93a6;letter-spacing:-0.118px;">ETAS SENSOR ERROR : -2.0 to -1.0</span>
<span class="t" style="left:356.40px;top:256.00px;height:14px;line-height:14px;font-size:12px;color:#9bcdef;letter-spacing:0.249px;">12.779</span>
<span class="t" style="left:503.40px;top:274.00px;height:14px;line-height:14px;font-size:12px;color:#ee93a6;letter-spacing:0.249px;">27.941</span>
<span class="t" style="left:34.42px;top:303.00px;height:14px;line-height:14px;font-size:12px;color:#000;letter-spacing:-0.181px;">CAL SENSOR ERROR : -1.0 to 0.0</span>
<span class="t" style="left:25.08px;top:321.00px;height:14px;line-height:14px;font-size:12px;color:#000;letter-spacing:-0.115px;">ETAS SENSOR ERROR : -1.0 to 0.0</span>
<span class="t" style="left:907.30px;top:303.00px;height:14px;line-height:14px;font-size:12px;color:#000;letter-spacing:0.249px;">69.700</span>
<span class="t" style="left:424.30px;top:321.00px;height:14px;line-height:14px;font-size:12px;color:#000;letter-spacing:0.249px;">19.790</span>
<span class="t" style="left:38.22px;top:351.00px;height:14px;line-height:14px;font-size:12px;color:#9bcdef;letter-spacing:-0.180px;">CAL SENSOR ERROR : 0.0 to 1.0</span>
<span class="t" style="left:28.89px;top:369.00px;height:14px;line-height:14px;font-size:12px;color:#ee93a6;letter-spacing:-0.113px;">ETAS SENSOR ERROR : 0.0 to 1.0</span>
<span class="t" style="left:287.40px;top:351.00px;height:14px;line-height:14px;font-size:12px;color:#9bcdef;letter-spacing:0.274px;">5.621</span>
<span class="t" style="left:558.40px;top:369.00px;height:14px;line-height:14px;font-size:12px;color:#ee93a6;letter-spacing:0.249px;">33.658</span>
<span class="t" style="left:38.22px;top:398.00px;height:14px;line-height:14px;font-size:12px;color:#9bcdef;letter-spacing:-0.180px;">CAL SENSOR ERROR : 1.0 to 2.0</span>
<span class="t" style="left:28.89px;top:416.00px;height:14px;line-height:14px;font-size:12px;color:#ee93a6;letter-spacing:-0.113px;">ETAS SENSOR ERROR : 1.0 to 2.0</span>
<span class="t" style="left:233.50px;top:398.00px;height:14px;line-height:14px;font-size:12px;color:#9bcdef;letter-spacing:0.274px;">0.000</span>
<span class="t" style="left:233.50px;top:416.00px;height:14px;line-height:14px;font-size:12px;color:#ee93a6;letter-spacing:0.274px;">0.018</span>
<span class="t" style="left:38.22px;top:445.00px;height:14px;line-height:14px;font-size:12px;color:#9bcdef;letter-spacing:-0.180px;">CAL SENSOR ERROR : 2.0 to 3.0</span>
<span class="t" style="left:28.89px;top:463.00px;height:14px;line-height:14px;font-size:12px;color:#ee93a6;letter-spacing:-0.113px;">ETAS SENSOR ERROR : 2.0 to 3.0</span>
<span class="t" style="left:233.50px;top:445.00px;height:14px;line-height:14px;font-size:12px;color:#9bcdef;letter-spacing:0.274px;">0.000</span>
<span class="t" style="left:233.50px;top:463.00px;height:14px;line-height:14px;font-size:12px;color:#ee93a6;letter-spacing:0.274px;">0.000</span>
<span class="t" style="left:38.22px;top:492.00px;height:14px;line-height:14px;font-size:12px;color:#9bcdef;letter-spacing:-0.180px;">CAL SENSOR ERROR : 3.0 to 4.0</span>
<span class="t" style="left:28.89px;top:510.00px;height:14px;line-height:14px;font-size:12px;color:#ee93a6;letter-spacing:-0.113px;">ETAS SENSOR ERROR : 3.0 to 4.0</span>
<span class="t" style="left:233.50px;top:492.00px;height:14px;line-height:14px;font-size:12px;color:#9bcdef;letter-spacing:0.274px;">0.000</span>
<span class="t" style="left:233.50px;top:510.00px;height:14px;line-height:14px;font-size:12px;color:#ee93a6;letter-spacing:0.274px;">0.000</span>
<span class="t" style="left:38.22px;top:539.00px;height:14px;line-height:14px;font-size:12px;color:#9bcdef;letter-spacing:-0.180px;">CAL SENSOR ERROR : 4.0 to 5.0</span>
<span class="t" style="left:28.89px;top:557.00px;height:14px;line-height:14px;font-size:12px;color:#ee93a6;letter-spacing:-0.113px;">ETAS SENSOR ERROR : 4.0 to 5.0</span>
<span class="t" style="left:233.50px;top:539.00px;height:14px;line-height:14px;font-size:12px;color:#9bcdef;letter-spacing:0.274px;">0.000</span>
<span class="t" style="left:233.50px;top:557.00px;height:14px;line-height:14px;font-size:12px;color:#ee93a6;letter-spacing:0.274px;">0.000</span>
<span class="t" style="left:38.22px;top:586.00px;height:14px;line-height:14px;font-size:12px;color:#9bcdef;letter-spacing:-0.180px;">CAL SENSOR ERROR : 5.0 to 6.0</span>
<span class="t" style="left:28.89px;top:604.00px;height:14px;line-height:14px;font-size:12px;color:#ee93a6;letter-spacing:-0.113px;">ETAS SENSOR ERROR : 5.0 to 6.0</span>
<span class="t" style="left:233.50px;top:586.00px;height:14px;line-height:14px;font-size:12px;color:#9bcdef;letter-spacing:0.274px;">0.000</span>
<span class="t" style="left:233.50px;top:604.00px;height:14px;line-height:14px;font-size:12px;color:#ee93a6;letter-spacing:0.274px;">0.000</span>
<span class="t" style="left:226.06px;top:642.00px;height:14px;line-height:14px;font-size:12px;color:#000;">0</span>
<span class="t" style="left:245.38px;top:642.00px;height:14px;line-height:14px;font-size:12px;color:#000;">2</span>
<span class="t" style="left:264.70px;top:642.00px;height:14px;line-height:14px;font-size:12px;color:#000;">4</span>
<span class="t" style="left:284.02px;top:642.00px;height:14px;line-height:14px;font-size:12px;color:#000;">6</span>
<span class="t" style="left:303.34px;top:642.00px;height:14px;line-height:14px;font-size:12px;color:#000;">8</span>
<span class="t" style="left:319.46px;top:642.00px;height:14px;line-height:14px;font-size:12px;color:#000;letter-spacing:-0.280px;">10</span>
<span class="t" style="left:338.78px;top:642.00px;height:14px;line-height:14px;font-size:12px;color:#000;letter-spacing:-0.280px;">12</span>
<span class="t" style="left:358.10px;top:642.00px;height:14px;line-height:14px;font-size:12px;color:#000;letter-spacing:-0.280px;">14</span>
<span class="t" style="left:377.42px;top:642.00px;height:14px;line-height:14px;font-size:12px;color:#000;letter-spacing:-0.280px;">16</span>
<span class="t" style="left:396.74px;top:642.00px;height:14px;line-height:14px;font-size:12px;color:#000;letter-spacing:-0.280px;">18</span>
<span class="t" style="left:416.06px;top:642.00px;height:14px;line-height:14px;font-size:12px;color:#000;letter-spacing:-0.280px;">20</span>
<span class="t" style="left:435.38px;top:642.00px;height:14px;line-height:14px;font-size:12px;color:#000;letter-spacing:-0.280px;">22</span>
<span class="t" style="left:454.70px;top:642.00px;height:14px;line-height:14px;font-size:12px;color:#000;letter-spacing:-0.280px;">24</span>
<span class="t" style="left:474.02px;top:642.00px;height:14px;line-height:14px;font-size:12px;color:#000;letter-spacing:-0.280px;">26</span>
<span class="t" style="left:493.34px;top:642.00px;height:14px;line-height:14px;font-size:12px;color:#000;letter-spacing:-0.280px;">28</span>
<span class="t" style="left:512.66px;top:642.00px;height:14px;line-height:14px;font-size:12px;color:#000;letter-spacing:-0.280px;">30</span>
<span class="t" style="left:531.98px;top:642.00px;height:14px;line-height:14px;font-size:12px;color:#000;letter-spacing:-0.280px;">32</span>
<span class="t" style="left:551.30px;top:642.00px;height:14px;line-height:14px;font-size:12px;color:#000;letter-spacing:-0.280px;">34</span>
<span class="t" style="left:570.62px;top:642.00px;height:14px;line-height:14px;font-size:12px;color:#000;letter-spacing:-0.280px;">36</span>
<span class="t" style="left:589.94px;top:642.00px;height:14px;line-height:14px;font-size:12px;color:#000;letter-spacing:-0.280px;">38</span>
<span class="t" style="left:609.26px;top:642.00px;height:14px;line-height:14px;font-size:12px;color:#000;letter-spacing:-0.280px;">40</span>
<span class="t" style="left:628.58px;top:642.00px;height:14px;line-height:14px;font-size:12px;color:#000;letter-spacing:-0.280px;">42</span>
<span class="t" style="left:647.90px;top:642.00px;height:14px;line-height:14px;font-size:12px;color:#000;letter-spacing:-0.280px;">44</span>
<span class="t" style="left:667.22px;top:642.00px;height:14px;line-height:14px;font-size:12px;color:#000;letter-spacing:-0.280px;">46</span>
<span class="t" style="left:686.54px;top:642.00px;height:14px;line-height:14px;font-size:12px;color:#000;letter-spacing:-0.280px;">48</span>
<span class="t" style="left:705.86px;top:642.00px;height:14px;line-height:14px;font-size:12px;color:#000;letter-spacing:-0.280px;">50</span>
<span class="t" style="left:725.18px;top:642.00px;height:14px;line-height:14px;font-size:12px;color:#000;letter-spacing:-0.280px;">52</span>
<span class="t" style="left:744.50px;top:642.00px;height:14px;line-height:14px;font-size:12px;color:#000;letter-spacing:-0.280px;">54</span>
<span class="t" style="left:763.82px;top:642.00px;height:14px;line-height:14px;font-size:12px;color:#000;letter-spacing:-0.280px;">56</span>
<span class="t" style="left:783.14px;top:642.00px;height:14px;line-height:14px;font-size:12px;color:#000;letter-spacing:-0.280px;">58</span>
<span class="t" style="left:802.46px;top:642.00px;height:14px;line-height:14px;font-size:12px;color:#000;letter-spacing:-0.280px;">60</span>
<span class="t" style="left:821.78px;top:642.00px;height:14px;line-height:14px;font-size:12px;color:#000;letter-spacing:-0.280px;">62</span>
<span class="t" style="left:841.10px;top:642.00px;height:14px;line-height:14px;font-size:12px;color:#000;letter-spacing:-0.280px;">64</span>
<span class="t" style="left:860.42px;top:642.00px;height:14px;line-height:14px;font-size:12px;color:#000;letter-spacing:-0.280px;">66</span>
<span class="t" style="left:879.74px;top:642.00px;height:14px;line-height:14px;font-size:12px;color:#000;letter-spacing:-0.280px;">68</span>
<span class="t" style="left:103.60px;top:687.00px;height:14px;line-height:14px;font-size:12px;color:#000;letter-spacing:0.154px;">0.600</span>
<span class="t" style="left:103.60px;top:701.00px;height:14px;line-height:14px;font-size:12px;color:#000;letter-spacing:0.154px;">0.620</span>
<span class="t" style="left:145.57px;top:687.00px;height:14px;line-height:14px;font-size:12px;color:#000;letter-spacing:0.154px;">0.620</span>
<span class="t" style="left:145.57px;top:701.00px;height:14px;line-height:14px;font-size:12px;color:#000;letter-spacing:0.154px;">0.640</span>
<span class="t" style="left:187.54px;top:687.00px;height:14px;line-height:14px;font-size:12px;color:#000;letter-spacing:0.154px;">0.640</span>
<span class="t" style="left:187.54px;top:701.00px;height:14px;line-height:14px;font-size:12px;color:#000;letter-spacing:0.154px;">0.660</span>
<span class="t" style="left:229.51px;top:687.00px;height:14px;line-height:14px;font-size:12px;color:#000;letter-spacing:0.154px;">0.660</span>
<span class="t" style="left:229.51px;top:701.00px;height:14px;line-height:14px;font-size:12px;color:#000;letter-spacing:0.154px;">0.680</span>
<span class="t" style="left:271.48px;top:687.00px;height:14px;line-height:14px;font-size:12px;color:#000;letter-spacing:0.154px;">0.680</span>
<span class="t" style="left:271.48px;top:701.00px;height:14px;line-height:14px;font-size:12px;color:#000;letter-spacing:0.154px;">0.700</span>
<span class="t" style="left:313.45px;top:687.00px;height:14px;line-height:14px;font-size:12px;color:#000;letter-spacing:0.154px;">0.700</span>
<span class="t" style="left:313.45px;top:701.00px;height:14px;line-height:14px;font-size:12px;color:#000;letter-spacing:0.154px;">0.720</span>
<span class="t" style="left:355.42px;top:687.00px;height:14px;line-height:14px;font-size:12px;color:#000;letter-spacing:0.154px;">0.720</span>
<span class="t" style="left:355.42px;top:701.00px;height:14px;line-height:14px;font-size:12px;color:#000;letter-spacing:0.154px;">0.740</span>
<span class="t" style="left:397.39px;top:687.00px;height:14px;line-height:14px;font-size:12px;color:#000;letter-spacing:0.154px;">0.740</span>
<span class="t" style="left:397.39px;top:701.00px;height:14px;line-height:14px;font-size:12px;color:#000;letter-spacing:0.154px;">0.760</span>
<span class="t" style="left:439.36px;top:687.00px;height:14px;line-height:14px;font-size:12px;color:#000;letter-spacing:0.154px;">0.760</span>
<span class="t" style="left:439.36px;top:701.00px;height:14px;line-height:14px;font-size:12px;color:#000;letter-spacing:0.154px;">0.780</span>
<span class="t" style="left:481.33px;top:687.00px;height:14px;line-height:14px;font-size:12px;color:#000;letter-spacing:0.154px;">0.780</span>
<span class="t" style="left:481.33px;top:701.00px;height:14px;line-height:14px;font-size:12px;color:#000;letter-spacing:0.154px;">0.800</span>
<span class="t" style="left:523.30px;top:687.00px;height:14px;line-height:14px;font-size:12px;color:#000;letter-spacing:0.154px;">0.800</span>
<span class="t" style="left:523.30px;top:701.00px;height:14px;line-height:14px;font-size:12px;color:#000;letter-spacing:0.154px;">0.820</span>
<span class="t" style="left:565.27px;top:687.00px;height:14px;line-height:14px;font-size:12px;color:#000;letter-spacing:0.154px;">0.820</span>
<span class="t" style="left:565.27px;top:701.00px;height:14px;line-height:14px;font-size:12px;color:#000;letter-spacing:0.154px;">0.840</span>
<span class="t" style="left:607.24px;top:687.00px;height:14px;line-height:14px;font-size:12px;color:#000;letter-spacing:0.154px;">0.840</span>
<span class="t" style="left:607.24px;top:701.00px;height:14px;line-height:14px;font-size:12px;color:#000;letter-spacing:0.154px;">0.860</span>
<span class="t" style="left:649.21px;top:687.00px;height:14px;line-height:14px;font-size:12px;color:#000;letter-spacing:0.154px;">0.860</span>
<span class="t" style="left:649.21px;top:701.00px;height:14px;line-height:14px;font-size:12px;color:#000;letter-spacing:0.154px;">0.880</span>
<span class="t" style="left:691.18px;top:687.00px;height:14px;line-height:14px;font-size:12px;color:#000;letter-spacing:0.154px;">0.880</span>
<span class="t" style="left:691.18px;top:701.00px;height:14px;line-height:14px;font-size:12px;color:#000;letter-spacing:0.154px;">0.900</span>
<span class="t" style="left:733.15px;top:687.00px;height:14px;line-height:14px;font-size:12px;color:#000;letter-spacing:0.154px;">0.900</span>
<span class="t" style="left:733.15px;top:701.00px;height:14px;line-height:14px;font-size:12px;color:#000;letter-spacing:0.154px;">0.920</span>
<span class="t" style="left:775.12px;top:687.00px;height:14px;line-height:14px;font-size:12px;color:#000;letter-spacing:0.154px;">0.920</span>
<span class="t" style="left:775.12px;top:701.00px;height:14px;line-height:14px;font-size:12px;color:#000;letter-spacing:0.154px;">0.940</span>
<span class="t" style="left:817.09px;top:687.00px;height:14px;line-height:14px;font-size:12px;color:#000;letter-spacing:0.154px;">0.940</span>
<span class="t" style="left:817.09px;top:701.00px;height:14px;line-height:14px;font-size:12px;color:#000;letter-spacing:0.154px;">0.960</span>
<span class="t" style="left:859.06px;top:687.00px;height:14px;line-height:14px;font-size:12px;color:#000;letter-spacing:0.154px;">0.960</span>
<span class="t" style="left:859.06px;top:701.00px;height:14px;line-height:14px;font-size:12px;color:#000;letter-spacing:0.154px;">0.980</span>
<span class="t" style="left:901.03px;top:687.00px;height:14px;line-height:14px;font-size:12px;color:#000;letter-spacing:0.154px;">0.980</span>
<span class="t" style="left:901.03px;top:701.00px;height:14px;line-height:14px;font-size:12px;color:#000;letter-spacing:0.154px;">1.000</span>
<span class="t" style="left:20.78px;top:721.00px;height:14px;line-height:14px;font-size:12px;color:#000;letter-spacing:0.281px;">-3.5 -</span>
<span class="t" style="left:58.15px;top:721.00px;height:14px;line-height:14px;font-size:12px;color:#000;letter-spacing:0.153px;">-3.0</span>
<span class="t" style="left:20.78px;top:739.00px;height:14px;line-height:14px;font-size:12px;color:#000;letter-spacing:0.281px;">-3.0 -</span>
<span class="t" style="left:58.15px;top:739.00px;height:14px;line-height:14px;font-size:12px;color:#000;letter-spacing:0.153px;">-2.5</span>
<span class="t" style="left:20.78px;top:757.00px;height:14px;line-height:14px;font-size:12px;color:#000;letter-spacing:0.281px;">-2.5 -</span>
<span class="t" style="left:58.15px;top:757.00px;height:14px;line-height:14px;font-size:12px;color:#000;letter-spacing:0.153px;">-2.0</span>
<span class="t" style="left:20.78px;top:775.00px;height:14px;line-height:14px;font-size:12px;color:#000;letter-spacing:0.281px;">-2.0 -</span>
<span class="t" style="left:58.15px;top:775.00px;height:14px;line-height:14px;font-size:12px;color:#000;letter-spacing:0.153px;">-1.5</span>
<span class="t" style="left:20.78px;top:793.00px;height:14px;line-height:14px;font-size:12px;color:#000;letter-spacing:0.281px;">-1.5 -</span>
<span class="t" style="left:58.15px;top:793.00px;height:14px;line-height:14px;font-size:12px;color:#000;letter-spacing:0.153px;">-1.0</span>
<span class="t" style="left:20.78px;top:811.00px;height:14px;line-height:14px;font-size:12px;color:#000;letter-spacing:0.281px;">-1.0 -</span>
<span class="t" style="left:58.15px;top:811.00px;height:14px;line-height:14px;font-size:12px;color:#000;letter-spacing:0.153px;">-0.5</span>
<span class="t" style="left:20.78px;top:829.00px;height:14px;line-height:14px;font-size:12px;color:#000;letter-spacing:0.281px;">-0.5 -</span>
<span class="t" style="left:62.20px;top:829.00px;height:14px;line-height:14px;font-size:12px;color:#000;letter-spacing:0.204px;">0.0</span>
<span class="t" style="left:24.92px;top:847.00px;height:14px;line-height:14px;font-size:12px;color:#000;letter-spacing:0.317px;">0.0 -</span>
<span class="t" style="left:62.20px;top:847.00px;height:14px;line-height:14px;font-size:12px;color:#000;letter-spacing:0.204px;">0.5</span>
<span class="t" style="left:24.92px;top:865.00px;height:14px;line-height:14px;font-size:12px;color:#000;letter-spacing:0.317px;">0.5 -</span>
<span class="t" style="left:62.20px;top:865.00px;height:14px;line-height:14px;font-size:12px;color:#000;letter-spacing:0.204px;">1.0</span>
<span class="t" style="left:24.92px;top:883.00px;height:14px;line-height:14px;font-size:12px;color:#000;letter-spacing:0.317px;">1.0 -</span>
<span class="t" style="left:62.20px;top:883.00px;height:14px;line-height:14px;font-size:12px;color:#000;letter-spacing:0.204px;">1.5</span>
<span class="t" style="left:24.92px;top:901.00px;height:14px;line-height:14px;font-size:12px;color:#000;letter-spacing:0.317px;">1.5 -</span>
<span class="t" style="left:62.20px;top:901.00px;height:14px;line-height:14px;font-size:12px;color:#000;letter-spacing:0.204px;">2.0</span>
<span class="t" style="left:24.92px;top:919.00px;height:14px;line-height:14px;font-size:12px;color:#000;letter-spacing:0.317px;">2.0 -</span>
<span class="t" style="left:62.20px;top:919.00px;height:14px;line-height:14px;font-size:12px;color:#000;letter-spacing:0.204px;">2.5</span>
<span class="t" style="left:24.92px;top:937.00px;height:14px;line-height:14px;font-size:12px;color:#000;letter-spacing:0.317px;">2.5 -</span>
<span class="t" style="left:62.20px;top:937.00px;height:14px;line-height:14px;font-size:12px;color:#000;letter-spacing:0.204px;">3.0</span>
<span class="t" style="left:103.60px;top:721.00px;height:14px;line-height:14px;font-size:12px;color:#2e8b2e;">0</span>
<span class="t" style="left:145.57px;top:721.00px;height:14px;line-height:14px;font-size:12px;color:#98183d;letter-spacing:0.154px;">1.694</span>
<span class="t" style="left:187.54px;top:721.00px;height:14px;line-height:14px;font-size:12px;color:#2e8b2e;">0</span>
<span class="t" style="left:229.51px;top:721.00px;height:14px;line-height:14px;font-size:12px;color:#2e8b2e;">0</span>
<span class="t" style="left:271.48px;top:721.00px;height:14px;line-height:14px;font-size:12px;color:#2e8b2e;">0</span>
<span class="t" style="left:313.45px;top:721.00px;height:14px;line-height:14px;font-size:12px;color:#2e8b2e;">0</span>
<span class="t" style="left:355.42px;top:721.00px;height:14px;line-height:14px;font-size:12px;color:#2e8b2e;">0</span>
<span class="t" style="left:397.39px;top:721.00px;height:14px;line-height:14px;font-size:12px;color:#2e8b2e;">0</span>
<span class="t" style="left:439.36px;top:721.00px;height:14px;line-height:14px;font-size:12px;color:#2e8b2e;">0</span>
<span class="t" style="left:481.33px;top:721.00px;height:14px;line-height:14px;font-size:12px;color:#2e8b2e;">0</span>
<span class="t" style="left:523.30px;top:721.00px;height:14px;line-height:14px;font-size:12px;color:#2e8b2e;">0</span>
<span class="t" style="left:565.27px;top:721.00px;height:14px;line-height:14px;font-size:12px;color:#2e8b2e;">0</span>
<span class="t" style="left:607.24px;top:721.00px;height:14px;line-height:14px;font-size:12px;color:#2e8b2e;">0</span>
<span class="t" style="left:649.21px;top:721.00px;height:14px;line-height:14px;font-size:12px;color:#2e8b2e;">0</span>
<span class="t" style="left:691.18px;top:721.00px;height:14px;line-height:14px;font-size:12px;color:#2e8b2e;">0</span>
<span class="t" style="left:733.15px;top:721.00px;height:14px;line-height:14px;font-size:12px;color:#2e8b2e;">0</span>
<span class="t" style="left:775.12px;top:721.00px;height:14px;line-height:14px;font-size:12px;color:#2e8b2e;">0</span>
<span class="t" style="left:817.09px;top:721.00px;height:14px;line-height:14px;font-size:12px;color:#2e8b2e;">0</span>
<span class="t" style="left:859.06px;top:721.00px;height:14px;line-height:14px;font-size:12px;color:#2e8b2e;">0</span>
<span class="t" style="left:901.03px;top:721.00px;height:14px;line-height:14px;font-size:12px;color:#2e8b2e;">0</span>
<span class="t" style="left:103.60px;top:739.00px;height:14px;line-height:14px;font-size:12px;color:#2e8b2e;">0</span>
<span class="t" style="left:145.57px;top:739.00px;height:14px;line-height:14px;font-size:12px;color:#191991;letter-spacing:0.154px;">0.571</span>
<span class="t" style="left:187.54px;top:739.00px;height:14px;line-height:14px;font-size:12px;color:#1616a5;letter-spacing:0.154px;">0.460</span>
<span class="t" style="left:229.51px;top:739.00px;height:14px;line-height:14px;font-size:12px;color:#2e8b2e;">0</span>
<span class="t" style="left:271.48px;top:739.00px;height:14px;line-height:14px;font-size:12px;color:#2e8b2e;">0</span>
<span class="t" style="left:313.45px;top:739.00px;height:14px;line-height:14px;font-size:12px;color:#2e8b2e;">0</span>
<span class="t" style="left:355.42px;top:739.00px;height:14px;line-height:14px;font-size:12px;color:#2e8b2e;">0</span>
<span class="t" style="left:397.39px;top:739.00px;height:14px;line-height:14px;font-size:12px;color:#2e8b2e;">0</span>
<span class="t" style="left:439.36px;top:739.00px;height:14px;line-height:14px;font-size:12px;color:#2e8b2e;">0</span>
<span class="t" style="left:481.33px;top:739.00px;height:14px;line-height:14px;font-size:12px;color:#2e8b2e;">0</span>
<span class="t" style="left:523.30px;top:739.00px;height:14px;line-height:14px;font-size:12px;color:#2e8b2e;">0</span>
<span class="t" style="left:565.27px;top:739.00px;height:14px;line-height:14px;font-size:12px;color:#2e8b2e;">0</span>
<span class="t" style="left:607.24px;top:739.00px;height:14px;line-height:14px;font-size:12px;color:#2e8b2e;">0</span>
<span class="t" style="left:649.21px;top:739.00px;height:14px;line-height:14px;font-size:12px;color:#2e8b2e;">0</span>
<span class="t" style="left:691.18px;top:739.00px;height:14px;line-height:14px;font-size:12px;color:#2e8b2e;">0</span>
<span class="t" style="left:733.15px;top:739.00px;height:14px;line-height:14px;font-size:12px;color:#2e8b2e;">0</span>
<span class="t" style="left:775.12px;top:739.00px;height:14px;line-height:14px;font-size:12px;color:#2e8b2e;">0</span>
<span class="t" style="left:817.09px;top:739.00px;height:14px;line-height:14px;font-size:12px;color:#2e8b2e;">0</span>
<span class="t" style="left:859.06px;top:739.00px;height:14px;line-height:14px;font-size:12px;color:#2e8b2e;">0</span>
<span class="t" style="left:901.03px;top:739.00px;height:14px;line-height:14px;font-size:12px;color:#2e8b2e;">0</span>
<span class="t" style="left:103.60px;top:757.00px;height:14px;line-height:14px;font-size:12px;color:#2e8b2e;">0</span>
<span class="t" style="left:145.57px;top:757.00px;height:14px;line-height:14px;font-size:12px;color:#2e8b2e;">0</span>
<span class="t" style="left:187.54px;top:757.00px;height:14px;line-height:14px;font-size:12px;color:#98183b;letter-spacing:0.154px;">1.710</span>
<span class="t" style="left:229.51px;top:757.00px;height:14px;line-height:14px;font-size:12px;color:#2e8b2e;">0</span>
<span class="t" style="left:271.48px;top:757.00px;height:14px;line-height:14px;font-size:12px;color:#2e8b2e;">0</span>
<span class="t" style="left:313.45px;top:757.00px;height:14px;line-height:14px;font-size:12px;color:#2e8b2e;">0</span>
<span class="t" style="left:355.42px;top:757.00px;height:14px;line-height:14px;font-size:12px;color:#2e8b2e;">0</span>
<span class="t" style="left:397.39px;top:757.00px;height:14px;line-height:14px;font-size:12px;color:#2e8b2e;">0</span>
<span class="t" style="left:439.36px;top:757.00px;height:14px;line-height:14px;font-size:12px;color:#2e8b2e;">0</span>
<span class="t" style="left:481.33px;top:757.00px;height:14px;line-height:14px;font-size:12px;color:#2e8b2e;">0</span>
<span class="t" style="left:523.30px;top:757.00px;height:14px;line-height:14px;font-size:12px;color:#2e8b2e;">0</span>
<span class="t" style="left:565.27px;top:757.00px;height:14px;line-height:14px;font-size:12px;color:#2e8b2e;">0</span>
<span class="t" style="left:607.24px;top:757.00px;height:14px;line-height:14px;font-size:12px;color:#2e8b2e;">0</span>
<span class="t" style="left:649.21px;top:757.00px;height:14px;line-height:14px;font-size:12px;color:#2e8b2e;">0</span>
<span class="t" style="left:691.18px;top:757.00px;height:14px;line-height:14px;font-size:12px;color:#2e8b2e;">0</span>
<span class="t" style="left:733.15px;top:757.00px;height:14px;line-height:14px;font-size:12px;color:#2e8b2e;">0</span>
<span class="t" style="left:775.12px;top:757.00px;height:14px;line-height:14px;font-size:12px;color:#2e8b2e;">0</span>
<span class="t" style="left:817.09px;top:757.00px;height:14px;line-height:14px;font-size:12px;color:#2e8b2e;">0</span>
<span class="t" style="left:859.06px;top:757.00px;height:14px;line-height:14px;font-size:12px;color:#2e8b2e;">0</span>
<span class="t" style="left:901.03px;top:757.00px;height:14px;line-height:14px;font-size:12px;color:#2e8b2e;">0</span>
<span class="t" style="left:103.60px;top:775.00px;height:14px;line-height:14px;font-size:12px;color:#2e8b2e;">0</span>
<span class="t" style="left:145.57px;top:775.00px;height:14px;line-height:14px;font-size:12px;color:#2e8b2e;">0</span>
<span class="t" style="left:187.54px;top:775.00px;height:14px;line-height:14px;font-size:12px;color:#9e182b;letter-spacing:0.154px;">1.823</span>
<span class="t" style="left:229.51px;top:775.00px;height:14px;line-height:14px;font-size:12px;color:#30a4e2;letter-spacing:0.154px;">0.104</span>
<span class="t" style="left:271.48px;top:775.00px;height:14px;line-height:14px;font-size:12px;color:#3ebeea;letter-spacing:0.154px;">0.020</span>
<span class="t" style="left:313.45px;top:775.00px;height:14px;line-height:14px;font-size:12px;color:#2e8b2e;">0</span>
<span class="t" style="left:355.42px;top:775.00px;height:14px;line-height:14px;font-size:12px;color:#2e8b2e;">0</span>
<span class="t" style="left:397.39px;top:775.00px;height:14px;line-height:14px;font-size:12px;color:#2e8b2e;">0</span>
<span class="t" style="left:439.36px;top:775.00px;height:14px;line-height:14px;font-size:12px;color:#2e8b2e;">0</span>
<span class="t" style="left:481.33px;top:775.00px;height:14px;line-height:14px;font-size:12px;color:#2e8b2e;">0</span>
<span class="t" style="left:523.30px;top:775.00px;height:14px;line-height:14px;font-size:12px;color:#2e8b2e;">0</span>
<span class="t" style="left:565.27px;top:775.00px;height:14px;line-height:14px;font-size:12px;color:#2e8b2e;">0</span>
<span class="t" style="left:607.24px;top:775.00px;height:14px;line-height:14px;font-size:12px;color:#2e8b2e;">0</span>
<span class="t" style="left:649.21px;top:775.00px;height:14px;line-height:14px;font-size:12px;color:#2e8b2e;">0</span>
<span class="t" style="left:691.18px;top:775.00px;height:14px;line-height:14px;font-size:12px;color:#2e8b2e;">0</span>
<span class="t" style="left:733.15px;top:775.00px;height:14px;line-height:14px;font-size:12px;color:#2e8b2e;">0</span>
<span class="t" style="left:775.12px;top:775.00px;height:14px;line-height:14px;font-size:12px;color:#2e8b2e;">0</span>
<span class="t" style="left:817.09px;top:775.00px;height:14px;line-height:14px;font-size:12px;color:#2e8b2e;">0</span>
<span class="t" style="left:859.06px;top:775.00px;height:14px;line-height:14px;font-size:12px;color:#2e8b2e;">0</span>
<span class="t" style="left:901.03px;top:775.00px;height:14px;line-height:14px;font-size:12px;color:#2e8b2e;">0</span>
<span class="t" style="left:103.60px;top:793.00px;height:14px;line-height:14px;font-size:12px;color:#2e8b2e;">0</span>
<span class="t" style="left:145.57px;top:793.00px;height:14px;line-height:14px;font-size:12px;color:#2e8b2e;">0</span>
<span class="t" style="left:187.54px;top:793.00px;height:14px;line-height:14px;font-size:12px;color:#5a1a90;letter-spacing:0.154px;">1.065</span>
<span class="t" style="left:229.51px;top:793.00px;height:14px;line-height:14px;font-size:12px;color:#f09f31;letter-spacing:0.154px;">4.407</span>
<span class="t" style="left:271.48px;top:793.00px;height:14px;line-height:14px;font-size:12px;color:#ba1818;letter-spacing:0.154px;">2.196</span>
<span class="t" style="left:313.45px;top:793.00px;height:14px;line-height:14px;font-size:12px;color:#1516b0;letter-spacing:0.154px;">0.394</span>
<span class="t" style="left:355.42px;top:793.00px;height:14px;line-height:14px;font-size:12px;color:#2e8b2e;">0</span>
<span class="t" style="left:397.39px;top:793.00px;height:14px;line-height:14px;font-size:12px;color:#2e8b2e;">0</span>
<span class="t" style="left:439.36px;top:793.00px;height:14px;line-height:14px;font-size:12px;color:#2e8b2e;">0</span>
<span class="t" style="left:481.33px;top:793.00px;height:14px;line-height:14px;font-size:12px;color:#2e8b2e;">0</span>
<span class="t" style="left:523.30px;top:793.00px;height:14px;line-height:14px;font-size:12px;color:#3ebdea;letter-spacing:0.154px;">0.022</span>
<span class="t" style="left:565.27px;top:793.00px;height:14px;line-height:14px;font-size:12px;color:#6f1980;letter-spacing:0.154px;">1.184</span>
<span class="t" style="left:607.24px;top:793.00px;height:14px;line-height:14px;font-size:12px;color:#2a72d6;letter-spacing:0.154px;">0.177</span>
<span class="t" style="left:649.21px;top:793.00px;height:14px;line-height:14px;font-size:12px;color:#151eb4;letter-spacing:0.154px;">0.352</span>
<span class="t" style="left:691.18px;top:793.00px;height:14px;line-height:14px;font-size:12px;color:#501a8e;letter-spacing:0.154px;">1.036</span>
<span class="t" style="left:733.15px;top:793.00px;height:14px;line-height:14px;font-size:12px;color:#2e8b2e;">0</span>
<span class="t" style="left:775.12px;top:793.00px;height:14px;line-height:14px;font-size:12px;color:#2e8b2e;">0</span>
<span class="t" style="left:817.09px;top:793.00px;height:14px;line-height:14px;font-size:12px;color:#2e8b2e;">0</span>
<span class="t" style="left:859.06px;top:793.00px;height:14px;line-height:14px;font-size:12px;color:#2e8b2e;">0</span>
<span class="t" style="left:901.03px;top:793.00px;height:14px;line-height:14px;font-size:12px;color:#2e8b2e;">0</span>
<span class="t" style="left:103.60px;top:811.00px;height:14px;line-height:14px;font-size:12px;color:#2e8b2e;">0</span>
<span class="t" style="left:145.57px;top:811.00px;height:14px;line-height:14px;font-size:12px;color:#2e8b2e;">0</span>
<span class="t" style="left:187.54px;top:811.00px;height:14px;line-height:14px;font-size:12px;color:#2e8b2e;">0</span>
<span class="t" style="left:229.51px;top:811.00px;height:14px;line-height:14px;font-size:12px;color:#2860d0;letter-spacing:0.154px;">0.183</span>
<span class="t" style="left:271.48px;top:811.00px;height:14px;line-height:14px;font-size:12px;color:#d93819;letter-spacing:0.154px;">2.661</span>
<span class="t" style="left:313.45px;top:811.00px;height:14px;line-height:14px;font-size:12px;color:#ed9b35;letter-spacing:0.154px;">3.996</span>
<span class="t" style="left:355.42px;top:811.00px;height:14px;line-height:14px;font-size:12px;color:#d01f1e;letter-spacing:0.154px;">2.434</span>
<span class="t" style="left:397.39px;top:811.00px;height:14px;line-height:14px;font-size:12px;color:#e98933;letter-spacing:0.154px;">3.256</span>
<span class="t" style="left:439.36px;top:811.00px;height:14px;line-height:14px;font-size:12px;color:#d93819;letter-spacing:0.154px;">2.667</span>
<span class="t" style="left:481.33px;top:811.00px;height:14px;line-height:14px;font-size:12px;color:#2151c8;letter-spacing:0.154px;">0.199</span>
<span class="t" style="left:523.30px;top:811.00px;height:14px;line-height:14px;font-size:12px;color:#e56b24;letter-spacing:0.154px;">2.985</span>
<span class="t" style="left:565.27px;top:811.00px;height:14px;line-height:14px;font-size:12px;color:#a11823;letter-spacing:0.154px;">1.879</span>
<span class="t" style="left:607.24px;top:811.00px;height:14px;line-height:14px;font-size:12px;color:#c61c1b;letter-spacing:0.154px;">2.329</span>
<span class="t" style="left:649.21px;top:811.00px;height:14px;line-height:14px;font-size:12px;color:#ae181c;letter-spacing:0.154px;">2.047</span>
<span class="t" style="left:691.18px;top:811.00px;height:14px;line-height:14px;font-size:12px;color:#961842;letter-spacing:0.154px;">1.650</span>
<span class="t" style="left:733.15px;top:811.00px;height:14px;line-height:14px;font-size:12px;color:#e88030;letter-spacing:0.154px;">3.002</span>
<span class="t" style="left:775.12px;top:811.00px;height:14px;line-height:14px;font-size:12px;color:#401a8c;letter-spacing:0.154px;">0.989</span>
<span class="t" style="left:817.09px;top:811.00px;height:14px;line-height:14px;font-size:12px;color:#2e8b2e;">0</span>
<span class="t" style="left:859.06px;top:811.00px;height:14px;line-height:14px;font-size:12px;color:#2e8b2e;">0</span>
<span class="t" style="left:901.03px;top:811.00px;height:14px;line-height:14px;font-size:12px;color:#3097e0;letter-spacing:0.154px;">0.138</span>
<span class="t" style="left:103.60px;top:829.00px;height:14px;line-height:14px;font-size:12px;color:#2e8b2e;">0</span>
<span class="t" style="left:145.57px;top:829.00px;height:14px;line-height:14px;font-size:12px;color:#2e8b2e;">0</span>
<span class="t" style="left:187.54px;top:829.00px;height:14px;line-height:14px;font-size:12px;color:#2e8b2e;">0</span>
<span class="t" style="left:229.51px;top:829.00px;height:14px;line-height:14px;font-size:12px;color:#2e8b2e;">0</span>
<span class="t" style="left:271.48px;top:829.00px;height:14px;line-height:14px;font-size:12px;color:#2e8b2e;">0</span>
<span class="t" style="left:313.45px;top:829.00px;height:14px;line-height:14px;font-size:12px;color:#296fd5;letter-spacing:0.154px;">0.178</span>
<span class="t" style="left:355.42px;top:829.00px;height:14px;line-height:14px;font-size:12px;color:#761879;letter-spacing:0.154px;">1.227</span>
<span class="t" style="left:397.39px;top:829.00px;height:14px;line-height:14px;font-size:12px;color:#191994;letter-spacing:0.154px;">0.556</span>
<span class="t" style="left:439.36px;top:829.00px;height:14px;line-height:14px;font-size:12px;color:#5f1a8d;letter-spacing:0.154px;">1.088</span>
<span class="t" style="left:481.33px;top:829.00px;height:14px;line-height:14px;font-size:12px;color:#e46420;letter-spacing:0.154px;">2.977</span>
<span class="t" style="left:523.30px;top:829.00px;height:14px;line-height:14px;font-size:12px;color:#152ab9;letter-spacing:0.154px;">0.295</span>
<span class="t" style="left:565.27px;top:829.00px;height:14px;line-height:14px;font-size:12px;color:#2e8b2e;">0</span>
<span class="t" style="left:607.24px;top:829.00px;height:14px;line-height:14px;font-size:12px;color:#2e8b2e;">0</span>
<span class="t" style="left:649.21px;top:829.00px;height:14px;line-height:14px;font-size:12px;color:#2e8b2e;">0</span>
<span class="t" style="left:691.18px;top:829.00px;height:14px;line-height:14px;font-size:12px;color:#2e8b2e;">0</span>
<span class="t" style="left:733.15px;top:829.00px;height:14px;line-height:14px;font-size:12px;color:#3bb8e8;letter-spacing:0.154px;">0.040</span>
<span class="t" style="left:775.12px;top:829.00px;height:14px;line-height:14px;font-size:12px;color:#df4f1c;letter-spacing:0.154px;">2.834</span>
<span class="t" style="left:817.09px;top:829.00px;height:14px;line-height:14px;font-size:12px;color:#bd1919;letter-spacing:0.154px;">2.236</span>
<span class="t" style="left:859.06px;top:829.00px;height:14px;line-height:14px;font-size:12px;color:#31a7e3;letter-spacing:0.154px;">0.094</span>
<span class="t" style="left:901.03px;top:829.00px;height:14px;line-height:14px;font-size:12px;color:#da3e18;letter-spacing:0.154px;">2.712</span>
<span class="t" style="left:103.60px;top:847.00px;height:14px;line-height:14px;font-size:12px;color:#2e8b2e;">0</span>
<span class="t" style="left:145.57px;top:847.00px;height:14px;line-height:14px;font-size:12px;color:#2e8b2e;">0</span>
<span class="t" style="left:187.54px;top:847.00px;height:14px;line-height:14px;font-size:12px;color:#2e8b2e;">0</span>
<span class="t" style="left:229.51px;top:847.00px;height:14px;line-height:14px;font-size:12px;color:#2e8b2e;">0</span>
<span class="t" style="left:271.48px;top:847.00px;height:14px;line-height:14px;font-size:12px;color:#2e8b2e;">0</span>
<span class="t" style="left:313.45px;top:847.00px;height:14px;line-height:14px;font-size:12px;color:#2e8b2e;">0</span>
<span class="t" style="left:355.42px;top:847.00px;height:14px;line-height:14px;font-size:12px;color:#2e8b2e;">0</span>
<span class="t" style="left:397.39px;top:847.00px;height:14px;line-height:14px;font-size:12px;color:#2e8b2e;">0</span>
<span class="t" style="left:439.36px;top:847.00px;height:14px;line-height:14px;font-size:12px;color:#2e8b2e;">0</span>
<span class="t" style="left:481.33px;top:847.00px;height:14px;line-height:14px;font-size:12px;color:#2e8b2e;">0</span>
<span class="t" style="left:523.30px;top:847.00px;height:14px;line-height:14px;font-size:12px;color:#2e8b2e;">0</span>
<span class="t" style="left:565.27px;top:847.00px;height:14px;line-height:14px;font-size:12px;color:#2e8b2e;">0</span>
<span class="t" style="left:607.24px;top:847.00px;height:14px;line-height:14px;font-size:12px;color:#2e8b2e;">0</span>
<span class="t" style="left:649.21px;top:847.00px;height:14px;line-height:14px;font-size:12px;color:#2e8b2e;">0</span>
<span class="t" style="left:691.18px;top:847.00px;height:14px;line-height:14px;font-size:12px;color:#2e8b2e;">0</span>
<span class="t" style="left:733.15px;top:847.00px;height:14px;line-height:14px;font-size:12px;color:#2e8b2e;">0</span>
<span class="t" style="left:775.12px;top:847.00px;height:14px;line-height:14px;font-size:12px;color:#2e8b2e;">0</span>
<span class="t" style="left:817.09px;top:847.00px;height:14px;line-height:14px;font-size:12px;color:#8a185f;letter-spacing:0.154px;">1.427</span>
<span class="t" style="left:859.06px;top:847.00px;height:14px;line-height:14px;font-size:12px;color:#ec9838;letter-spacing:0.154px;">3.703</span>
<span class="t" style="left:901.03px;top:847.00px;height:14px;line-height:14px;font-size:12px;color:#1717a0;letter-spacing:0.154px;">0.491</span>
<span class="t" style="left:103.60px;top:865.00px;height:14px;line-height:14px;font-size:12px;color:#2e8b2e;">0</span>
<span class="t" style="left:145.57px;top:865.00px;height:14px;line-height:14px;font-size:12px;color:#2e8b2e;">0</span>
<span class="t" style="left:187.54px;top:865.00px;height:14px;line-height:14px;font-size:12px;color:#2e8b2e;">0</span>
<span class="t" style="left:229.51px;top:865.00px;height:14px;line-height:14px;font-size:12px;color:#2e8b2e;">0</span>
<span class="t" style="left:271.48px;top:865.00px;height:14px;line-height:14px;font-size:12px;color:#2e8b2e;">0</span>
<span class="t" style="left:313.45px;top:865.00px;height:14px;line-height:14px;font-size:12px;color:#2e8b2e;">0</span>
<span class="t" style="left:355.42px;top:865.00px;height:14px;line-height:14px;font-size:12px;color:#2e8b2e;">0</span>
<span class="t" style="left:397.39px;top:865.00px;height:14px;line-height:14px;font-size:12px;color:#2e8b2e;">0</span>
<span class="t" style="left:439.36px;top:865.00px;height:14px;line-height:14px;font-size:12px;color:#2e8b2e;">0</span>
<span class="t" style="left:481.33px;top:865.00px;height:14px;line-height:14px;font-size:12px;color:#2e8b2e;">0</span>
<span class="t" style="left:523.30px;top:865.00px;height:14px;line-height:14px;font-size:12px;color:#2e8b2e;">0</span>
<span class="t" style="left:565.27px;top:865.00px;height:14px;line-height:14px;font-size:12px;color:#2e8b2e;">0</span>
<span class="t" style="left:607.24px;top:865.00px;height:14px;line-height:14px;font-size:12px;color:#2e8b2e;">0</span>
<span class="t" style="left:649.21px;top:865.00px;height:14px;line-height:14px;font-size:12px;color:#2e8b2e;">0</span>
<span class="t" style="left:691.18px;top:865.00px;height:14px;line-height:14px;font-size:12px;color:#2e8b2e;">0</span>
<span class="t" style="left:733.15px;top:865.00px;height:14px;line-height:14px;font-size:12px;color:#2e8b2e;">0</span>
<span class="t" style="left:775.12px;top:865.00px;height:14px;line-height:14px;font-size:12px;color:#2e8b2e;">0</span>
<span class="t" style="left:817.09px;top:865.00px;height:14px;line-height:14px;font-size:12px;color:#2e8b2e;">0</span>
<span class="t" style="left:859.06px;top:865.00px;height:14px;line-height:14px;font-size:12px;color:#2e8b2e;">0</span>
<span class="t" style="left:901.03px;top:865.00px;height:14px;line-height:14px;font-size:12px;color:#2e8b2e;">0</span>
<span class="t" style="left:103.60px;top:883.00px;height:14px;line-height:14px;font-size:12px;color:#2e8b2e;">0</span>
<span class="t" style="left:145.57px;top:883.00px;height:14px;line-height:14px;font-size:12px;color:#2e8b2e;">0</span>
<span class="t" style="left:187.54px;top:883.00px;height:14px;line-height:14px;font-size:12px;color:#2e8b2e;">0</span>
<span class="t" style="left:229.51px;top:883.00px;height:14px;line-height:14px;font-size:12px;color:#2e8b2e;">0</span>
<span class="t" style="left:271.48px;top:883.00px;height:14px;line-height:14px;font-size:12px;color:#2e8b2e;">0</span>
<span class="t" style="left:313.45px;top:883.00px;height:14px;line-height:14px;font-size:12px;color:#2e8b2e;">0</span>
<span class="t" style="left:355.42px;top:883.00px;height:14px;line-height:14px;font-size:12px;color:#2e8b2e;">0</span>
<span class="t" style="left:397.39px;top:883.00px;height:14px;line-height:14px;font-size:12px;color:#2e8b2e;">0</span>
<span class="t" style="left:439.36px;top:883.00px;height:14px;line-height:14px;font-size:12px;color:#2e8b2e;">0</span>
<span class="t" style="left:481.33px;top:883.00px;height:14px;line-height:14px;font-size:12px;color:#2e8b2e;">0</span>
<span class="t" style="left:523.30px;top:883.00px;height:14px;line-height:14px;font-size:12px;color:#2e8b2e;">0</span>
<span class="t" style="left:565.27px;top:883.00px;height:14px;line-height:14px;font-size:12px;color:#2e8b2e;">0</span>
<span class="t" style="left:607.24px;top:883.00px;height:14px;line-height:14px;font-size:12px;color:#2e8b2e;">0</span>
<span class="t" style="left:649.21px;top:883.00px;height:14px;line-height:14px;font-size:12px;color:#2e8b2e;">0</span>
<span class="t" style="left:691.18px;top:883.00px;height:14px;line-height:14px;font-size:12px;color:#2e8b2e;">0</span>
<span class="t" style="left:733.15px;top:883.00px;height:14px;line-height:14px;font-size:12px;color:#2e8b2e;">0</span>
<span class="t" style="left:775.12px;top:883.00px;height:14px;line-height:14px;font-size:12px;color:#2e8b2e;">0</span>
<span class="t" style="left:817.09px;top:883.00px;height:14px;line-height:14px;font-size:12px;color:#2e8b2e;">0</span>
<span class="t" style="left:859.06px;top:883.00px;height:14px;line-height:14px;font-size:12px;color:#2e8b2e;">0</span>
<span class="t" style="left:901.03px;top:883.00px;height:14px;line-height:14px;font-size:12px;color:#2e8b2e;">0</span>
<span class="t" style="left:103.60px;top:901.00px;height:14px;line-height:14px;font-size:12px;color:#2e8b2e;">0</span>
<span class="t" style="left:145.57px;top:901.00px;height:14px;line-height:14px;font-size:12px;color:#2e8b2e;">0</span>
<span class="t" style="left:187.54px;top:901.00px;height:14px;line-height:14px;font-size:12px;color:#2e8b2e;">0</span>
<span class="t" style="left:229.51px;top:901.00px;height:14px;line-height:14px;font-size:12px;color:#2e8b2e;">0</span>
<span class="t" style="left:271.48px;top:901.00px;height:14px;line-height:14px;font-size:12px;color:#2e8b2e;">0</span>
<span class="t" style="left:313.45px;top:901.00px;height:14px;line-height:14px;font-size:12px;color:#2e8b2e;">0</span>
<span class="t" style="left:355.42px;top:901.00px;height:14px;line-height:14px;font-size:12px;color:#2e8b2e;">0</span>
<span class="t" style="left:397.39px;top:901.00px;height:14px;line-height:14px;font-size:12px;color:#2e8b2e;">0</span>
<span class="t" style="left:439.36px;top:901.00px;height:14px;line-height:14px;font-size:12px;color:#2e8b2e;">0</span>
<span class="t" style="left:481.33px;top:901.00px;height:14px;line-height:14px;font-size:12px;color:#2e8b2e;">0</span>
<span class="t" style="left:523.30px;top:901.00px;height:14px;line-height:14px;font-size:12px;color:#2e8b2e;">0</span>
<span class="t" style="left:565.27px;top:901.00px;height:14px;line-height:14px;font-size:12px;color:#2e8b2e;">0</span>
<span class="t" style="left:607.24px;top:901.00px;height:14px;line-height:14px;font-size:12px;color:#2e8b2e;">0</span>
<span class="t" style="left:649.21px;top:901.00px;height:14px;line-height:14px;font-size:12px;color:#2e8b2e;">0</span>
<span class="t" style="left:691.18px;top:901.00px;height:14px;line-height:14px;font-size:12px;color:#2e8b2e;">0</span>
<span class="t" style="left:733.15px;top:901.00px;height:14px;line-height:14px;font-size:12px;color:#2e8b2e;">0</span>
<span class="t" style="left:775.12px;top:901.00px;height:14px;line-height:14px;font-size:12px;color:#2e8b2e;">0</span>
<span class="t" style="left:817.09px;top:901.00px;height:14px;line-height:14px;font-size:12px;color:#2e8b2e;">0</span>
<span class="t" style="left:859.06px;top:901.00px;height:14px;line-height:14px;font-size:12px;color:#2e8b2e;">0</span>
<span class="t" style="left:901.03px;top:901.00px;height:14px;line-height:14px;font-size:12px;color:#2e8b2e;">0</span>
<span class="t" style="left:103.60px;top:919.00px;height:14px;line-height:14px;font-size:12px;color:#2e8b2e;">0</span>
<span class="t" style="left:145.57px;top:919.00px;height:14px;line-height:14px;font-size:12px;color:#2e8b2e;">0</span>
<span class="t" style="left:187.54px;top:919.00px;height:14px;line-height:14px;font-size:12px;color:#2e8b2e;">0</span>
<span class="t" style="left:229.51px;top:919.00px;height:14px;line-height:14px;font-size:12px;color:#2e8b2e;">0</span>
<span class="t" style="left:271.48px;top:919.00px;height:14px;line-height:14px;font-size:12px;color:#2e8b2e;">0</span>
<span class="t" style="left:313.45px;top:919.00px;height:14px;line-height:14px;font-size:12px;color:#2e8b2e;">0</span>
<span class="t" style="left:355.42px;top:919.00px;height:14px;line-height:14px;font-size:12px;color:#2e8b2e;">0</span>
<span class="t" style="left:397.39px;top:919.00px;height:14px;line-height:14px;font-size:12px;color:#2e8b2e;">0</span>
<span class="t" style="left:439.36px;top:919.00px;height:14px;line-height:14px;font-size:12px;color:#2e8b2e;">0</span>
<span class="t" style="left:481.33px;top:919.00px;height:14px;line-height:14px;font-size:12px;color:#2e8b2e;">0</span>
<span class="t" style="left:523.30px;top:919.00px;height:14px;line-height:14px;font-size:12px;color:#2e8b2e;">0</span>
<span class="t" style="left:565.27px;top:919.00px;height:14px;line-height:14px;font-size:12px;color:#2e8b2e;">0</span>
<span class="t" style="left:607.24px;top:919.00px;height:14px;line-height:14px;font-size:12px;color:#2e8b2e;">0</span>
<span class="t" style="left:649.21px;top:919.00px;height:14px;line-height:14px;font-size:12px;color:#2e8b2e;">0</span>
<span class="t" style="left:691.18px;top:919.00px;height:14px;line-height:14px;font-size:12px;color:#2e8b2e;">0</span>
<span class="t" style="left:733.15px;top:919.00px;height:14px;line-height:14px;font-size:12px;color:#2e8b2e;">0</span>
<span class="t" style="left:775.12px;top:919.00px;height:14px;line-height:14px;font-size:12px;color:#2e8b2e;">0</span>
<span class="t" style="left:817.09px;top:919.00px;height:14px;line-height:14px;font-size:12px;color:#2e8b2e;">0</span>
<span class="t" style="left:859.06px;top:919.00px;height:14px;line-height:14px;font-size:12px;color:#2e8b2e;">0</span>
<span class="t" style="left:901.03px;top:919.00px;height:14px;line-height:14px;font-size:12px;color:#2e8b2e;">0</span>
<span class="t" style="left:103.60px;top:937.00px;height:14px;line-height:14px;font-size:12px;color:#2e8b2e;">0</span>
<span class="t" style="left:145.57px;top:937.00px;height:14px;line-height:14px;font-size:12px;color:#2e8b2e;">0</span>
<span class="t" style="left:187.54px;top:937.00px;height:14px;line-height:14px;font-size:12px;color:#2e8b2e;">0</span>
<span class="t" style="left:229.51px;top:937.00px;height:14px;line-height:14px;font-size:12px;color:#2e8b2e;">0</span>
<span class="t" style="left:271.48px;top:937.00px;height:14px;line-height:14px;font-size:12px;color:#2e8b2e;">0</span>
<span class="t" style="left:313.45px;top:937.00px;height:14px;line-height:14px;font-size:12px;color:#2e8b2e;">0</span>
<span class="t" style="left:355.42px;top:937.00px;height:14px;line-height:14px;font-size:12px;color:#2e8b2e;">0</span>
<span class="t" style="left:397.39px;top:937.00px;height:14px;line-height:14px;font-size:12px;color:#2e8b2e;">0</span>
<span class="t" style="left:439.36px;top:937.00px;height:14px;line-height:14px;font-size:12px;color:#2e8b2e;">0</span>
<span class="t" style="left:481.33px;top:937.00px;height:14px;line-height:14px;font-size:12px;color:#2e8b2e;">0</span>
<span class="t" style="left:523.30px;top:937.00px;height:14px;line-height:14px;font-size:12px;color:#2e8b2e;">0</span>
<span class="t" style="left:565.27px;top:937.00px;height:14px;line-height:14px;font-size:12px;color:#2e8b2e;">0</span>
<span class="t" style="left:607.24px;top:937.00px;height:14px;line-height:14px;font-size:12px;color:#2e8b2e;">0</span>
<span class="t" style="left:649.21px;top:937.00px;height:14px;line-height:14px;font-size:12px;color:#2e8b2e;">0</span>
<span class="t" style="left:691.18px;top:937.00px;height:14px;line-height:14px;font-size:12px;color:#2e8b2e;">0</span>
<span class="t" style="left:733.15px;top:937.00px;height:14px;line-height:14px;font-size:12px;color:#2e8b2e;">0</span>
<span class="t" style="left:775.12px;top:937.00px;height:14px;line-height:14px;font-size:12px;color:#2e8b2e;">0</span>
<span class="t" style="left:817.09px;top:937.00px;height:14px;line-height:14px;font-size:12px;color:#2e8b2e;">0</span>
<span class="t" style="left:859.06px;top:937.00px;height:14px;line-height:14px;font-size:12px;color:#2e8b2e;">0</span>
<span class="t" style="left:901.03px;top:937.00px;height:14px;line-height:14px;font-size:12px;color:#2e8b2e;">0</span>
<span class="t" style="left:981.81px;top:52.00px;height:14px;line-height:14px;font-size:12px;color:#2ba3a3;letter-spacing:0.114px;">1.200</span>
<span class="t" style="left:981.81px;top:71.00px;height:14px;line-height:14px;font-size:12px;color:#2ba3a3;letter-spacing:0.114px;">1.175</span>
<span class="t" style="left:981.81px;top:91.00px;height:14px;line-height:14px;font-size:12px;color:#2ba3a3;letter-spacing:0.114px;">1.150</span>
<span class="t" style="left:981.81px;top:110.00px;height:14px;line-height:14px;font-size:12px;color:#2ba3a3;letter-spacing:0.114px;">1.125</span>
<span class="t" style="left:981.81px;top:129.00px;height:14px;line-height:14px;font-size:12px;color:#2ba3a3;letter-spacing:0.114px;">1.100</span>
<span class="t" style="left:981.81px;top:149.00px;height:14px;line-height:14px;font-size:12px;color:#2ba3a3;letter-spacing:0.114px;">1.075</span>
<span class="t" style="left:981.81px;top:168.00px;height:14px;line-height:14px;font-size:12px;color:#2ba3a3;letter-spacing:0.114px;">1.050</span>
<span class="t" style="left:981.81px;top:188.00px;height:14px;line-height:14px;font-size:12px;color:#2ba3a3;letter-spacing:0.114px;">1.025</span>
<span class="t" style="left:981.81px;top:207.00px;height:14px;line-height:14px;font-size:12px;color:#2ba3a3;letter-spacing:0.114px;">1.000</span>
<span class="t" style="left:981.81px;top:226.00px;height:14px;line-height:14px;font-size:12px;color:#2ba3a3;letter-spacing:0.114px;">0.975</span>
<span class="t" style="left:981.81px;top:246.00px;height:14px;line-height:14px;font-size:12px;color:#2ba3a3;letter-spacing:0.114px;">0.950</span>
<span class="t" style="left:981.81px;top:265.00px;height:14px;line-height:14px;font-size:12px;color:#2ba3a3;letter-spacing:0.114px;">0.925</span>
<span class="t" style="left:981.81px;top:284.00px;height:14px;line-height:14px;font-size:12px;color:#2ba3a3;letter-spacing:0.114px;">0.900</span>
<span class="t" style="left:981.81px;top:304.00px;height:14px;line-height:14px;font-size:12px;color:#2ba3a3;letter-spacing:0.114px;">0.875</span>
<span class="t" style="left:981.81px;top:323.00px;height:14px;line-height:14px;font-size:12px;color:#2ba3a3;letter-spacing:0.114px;">0.850</span>
<span class="t" style="left:981.81px;top:343.00px;height:14px;line-height:14px;font-size:12px;color:#2ba3a3;letter-spacing:0.114px;">0.825</span>
<span class="t" style="left:981.81px;top:362.00px;height:14px;line-height:14px;font-size:12px;color:#2ba3a3;letter-spacing:0.114px;">0.800</span>
<span class="t" style="left:981.81px;top:381.00px;height:14px;line-height:14px;font-size:12px;color:#2ba3a3;letter-spacing:0.114px;">0.775</span>
<span class="t" style="left:981.81px;top:401.00px;height:14px;line-height:14px;font-size:12px;color:#2ba3a3;letter-spacing:0.114px;">0.750</span>
<span class="t" style="left:981.81px;top:420.00px;height:14px;line-height:14px;font-size:12px;color:#2ba3a3;letter-spacing:0.114px;">0.725</span>
<span class="t" style="left:981.81px;top:439.00px;height:14px;line-height:14px;font-size:12px;color:#2ba3a3;letter-spacing:0.114px;">0.700</span>
<span class="t" style="left:981.81px;top:459.00px;height:14px;line-height:14px;font-size:12px;color:#2ba3a3;letter-spacing:0.114px;">0.675</span>
<span class="t" style="left:981.81px;top:478.00px;height:14px;line-height:14px;font-size:12px;color:#2ba3a3;letter-spacing:0.114px;">0.650</span>
<span class="t" style="left:981.81px;top:498.00px;height:14px;line-height:14px;font-size:12px;color:#2ba3a3;letter-spacing:0.114px;">0.625</span>
<span class="t" style="left:981.81px;top:517.00px;height:14px;line-height:14px;font-size:12px;color:#2ba3a3;letter-spacing:0.114px;">0.600</span>
<span class="t" style="left:972.30px;top:343.20px;height:14px;line-height:14px;font-size:12px;color:#2ba3a3;transform-origin:0 0;transform:rotate(-90deg) translate(0px,-11.16px);letter-spacing:-0.378px;">LebNTKecm_U11 (λ)</span>
<span class="t" style="left:1654.53px;top:46.00px;height:12px;line-height:12px;font-size:9px;color:#000;letter-spacing:-0.066px;">1.197</span>
<span class="t" style="left:1033.40px;top:320.00px;height:12px;line-height:12px;font-size:9px;color:#000;letter-spacing:-0.046px;">0.856</span>
<span class="t" style="left:1036.70px;top:525.00px;height:12px;line-height:12px;font-size:9px;color:#000;letter-spacing:-0.066px;">0.583</span>
<span class="t" style="left:988.94px;top:547.00px;height:14px;line-height:14px;font-size:12px;color:#ee93a6;">10.0</span>
<span class="t" style="left:995.61px;top:566.00px;height:14px;line-height:14px;font-size:12px;color:#ee93a6;">7.5</span>
<span class="t" style="left:995.61px;top:585.00px;height:14px;line-height:14px;font-size:12px;color:#ee93a6;">5.0</span>
<span class="t" style="left:995.61px;top:605.00px;height:14px;line-height:14px;font-size:12px;color:#ee93a6;">2.5</span>
<span class="t" style="left:995.61px;top:624.00px;height:14px;line-height:14px;font-size:12px;color:#ee93a6;">0.0</span>
<span class="t" style="left:991.61px;top:643.00px;height:14px;line-height:14px;font-size:12px;color:#ee93a6;">-2.5</span>
<span class="t" style="left:991.61px;top:662.00px;height:14px;line-height:14px;font-size:12px;color:#ee93a6;">-5.0</span>
<span class="t" style="left:991.61px;top:682.00px;height:14px;line-height:14px;font-size:12px;color:#ee93a6;">-7.5</span>
<span class="t" style="left:984.94px;top:701.00px;height:14px;line-height:14px;font-size:12px;color:#ee93a6;">-10.0</span>
<span class="t" style="left:972.30px;top:687.60px;height:14px;line-height:14px;font-size:12px;color:#ee93a6;transform-origin:0 0;transform:rotate(-90deg) translate(0px,-11.16px);letter-spacing:-1.067px;">ETAS SENSOR ERROR</span>
<span class="t" style="left:1187.80px;top:541.00px;height:12px;line-height:12px;font-size:9px;color:#000;letter-spacing:0.028px;">1.0</span>
<span class="t" style="left:1661.10px;top:709.00px;height:12px;line-height:12px;font-size:9px;color:#000;">-3.5</span>
<span class="t" style="left:1033.20px;top:632.00px;height:12px;line-height:12px;font-size:9px;color:#000;">-0.9</span>
<span class="t" style="left:988.94px;top:731.00px;height:14px;line-height:14px;font-size:12px;color:#9bcdef;">10.0</span>
<span class="t" style="left:995.61px;top:751.00px;height:14px;line-height:14px;font-size:12px;color:#9bcdef;">7.5</span>
<span class="t" style="left:995.61px;top:771.00px;height:14px;line-height:14px;font-size:12px;color:#9bcdef;">5.0</span>
<span class="t" style="left:995.61px;top:792.00px;height:14px;line-height:14px;font-size:12px;color:#9bcdef;">2.5</span>
<span class="t" style="left:995.61px;top:812.00px;height:14px;line-height:14px;font-size:12px;color:#9bcdef;">0.0</span>
<span class="t" style="left:991.61px;top:832.00px;height:14px;line-height:14px;font-size:12px;color:#9bcdef;">-2.5</span>
<span class="t" style="left:991.61px;top:852.00px;height:14px;line-height:14px;font-size:12px;color:#9bcdef;">-5.0</span>
<span class="t" style="left:991.61px;top:873.00px;height:14px;line-height:14px;font-size:12px;color:#9bcdef;">-7.5</span>
<span class="t" style="left:984.94px;top:893.00px;height:14px;line-height:14px;font-size:12px;color:#9bcdef;">-10.0</span>
<span class="t" style="left:972.30px;top:870.80px;height:14px;line-height:14px;font-size:12px;color:#9bcdef;transform-origin:0 0;transform:rotate(-90deg) translate(0px,-11.16px);letter-spacing:-1.200px;">CAL SENSOR ERROR</span>
<span class="t" style="left:1489.20px;top:725.00px;height:12px;line-height:12px;font-size:9px;color:#000;letter-spacing:0.028px;">0.2</span>
<span class="t" style="left:1033.20px;top:821.00px;height:12px;line-height:12px;font-size:9px;color:#000;letter-spacing:0.046px;">-1.0</span>
<span class="t" style="left:1041.30px;top:901.00px;height:12px;line-height:12px;font-size:9px;color:#000;">-5.9</span>
<span class="t" style="left:1052.86px;top:922.00px;height:14px;line-height:14px;font-size:12px;color:#000;letter-spacing:0.327px;">15:50:00.000</span>
<span class="t" style="left:1155.36px;top:922.00px;height:14px;line-height:14px;font-size:12px;color:#000;letter-spacing:0.327px;">15:58:20.000</span>
<span class="t" style="left:1257.86px;top:922.00px;height:14px;line-height:14px;font-size:12px;color:#000;letter-spacing:0.327px;">16:06:40.000</span>
<span class="t" style="left:1360.36px;top:922.00px;height:14px;line-height:14px;font-size:12px;color:#000;letter-spacing:0.327px;">16:15:00.000</span>
<span class="t" style="left:1462.86px;top:922.00px;height:14px;line-height:14px;font-size:12px;color:#000;letter-spacing:0.327px;">16:23:20.000</span>
<span class="t" style="left:1565.36px;top:922.00px;height:14px;line-height:14px;font-size:12px;color:#000;letter-spacing:0.327px;">16:31:40.000</span>
<span class="t" style="left:964.80px;top:912.00px;height:14px;line-height:14px;font-size:12px;color:#000;letter-spacing:-0.209px;">Time</span>
<span class="t" style="left:964.80px;top:926.00px;height:14px;line-height:14px;font-size:12px;color:#000;letter-spacing:0.067px;">(s)</span>
<span class="t" style="left:1730.20px;top:58.00px;height:14px;line-height:14px;font-size:12px;color:#000;letter-spacing:-0.607px;">AFR_NTKa</span>
<span class="t" style="left:1875.47px;top:58.00px;height:14px;line-height:14px;font-size:12px;color:#000;letter-spacing:0.274px;">10.45</span>
<span class="t" style="left:1730.20px;top:74.00px;height:14px;line-height:14px;font-size:12px;color:#000;letter-spacing:-0.200px;">EquivalenceRatio</span>
<span class="t" style="left:1875.47px;top:74.00px;height:14px;line-height:14px;font-size:12px;color:#000;letter-spacing:0.274px;">1.395</span>
<span class="t" style="left:1730.20px;top:90.00px;height:14px;line-height:14px;font-size:12px;color:#000;letter-spacing:-0.222px;">LZA08a_U21</span>
<span class="t" style="left:1875.79px;top:90.00px;height:14px;line-height:14px;font-size:12px;color:#000;letter-spacing:0.194px;">0.717</span>
<span class="t" style="left:1730.20px;top:106.00px;height:14px;line-height:14px;font-size:12px;color:#000;letter-spacing:-0.263px;">LabNTKa_U12</span>
<span class="t" style="left:1875.79px;top:106.00px;height:14px;line-height:14px;font-size:12px;color:#000;letter-spacing:0.194px;">0.715</span>
<span class="t" style="left:1730.20px;top:122.00px;height:14px;line-height:14px;font-size:12px;color:#000;letter-spacing:-0.069px;">LebNTKecm_U11</span>
<span class="t" style="left:1875.79px;top:122.00px;height:14px;line-height:14px;font-size:12px;color:#000;letter-spacing:0.194px;">0.714</span>
<span class="t" style="left:1730.20px;top:553.00px;height:14px;line-height:14px;font-size:12px;color:#000;letter-spacing:-0.655px;">ETAS SENSOR ERROR</span>
<span class="t" style="left:1885.98px;top:553.00px;height:14px;line-height:14px;font-size:12px;color:#000;letter-spacing:-0.022px;">-0.4</span>
<span class="t" style="left:1730.20px;top:569.00px;height:14px;line-height:14px;font-size:12px;color:#000;letter-spacing:-0.057px;">FuelErrorAutronicz</span>
<span class="t" style="left:1885.98px;top:569.00px;height:14px;line-height:14px;font-size:12px;color:#000;letter-spacing:-0.022px;">-0.4</span>
<span class="t" style="left:1730.20px;top:737.00px;height:14px;line-height:14px;font-size:12px;color:#000;letter-spacing:-0.800px;">CAL SENSOR ERROR</span>
<span class="t" style="left:1885.98px;top:737.00px;height:14px;line-height:14px;font-size:12px;color:#000;letter-spacing:-0.022px;">-0.6</span>
<span class="t" style="left:11.70px;top:976.00px;height:14px;line-height:14px;font-size:12px;color:#1e7d1e;letter-spacing:0.111px;">.\DownloadedData\RICESP\ECU sensor actuator tests\Lambda Sensor Calibrations\Hanz Gruber Hitler Youth ETAS LA4\2026-02-26 15-45-00 plus 0h00m00s S12#27290.SD</span>
<span class="t" style="left:11.70px;top:990.00px;height:14px;line-height:14px;font-size:12px;color:#1e7d1e;letter-spacing:-0.071px;">S12(27290) Cal(RICESP-RR286-NTKcalibration-61) Cfg(RICESP-RRL020-LAMBDA) Boot(1.80) Main(1.714.3)</span>
<span class="t" style="left:11.70px;top:1004.00px;height:14px;line-height:14px;font-size:12px;color:#1e7d1e;letter-spacing:0.218px;">DateTime(2026\2\26 15:45) UncompressedSize(24.6 MB)</span>
<span class="t" style="left:11.70px;top:1018.00px;height:14px;line-height:14px;font-size:12px;color:#707070;letter-spacing:0.058px;">Hitler Youth LA4 V BDS9 Leb V 16,000 Parameterz aidz ECM - (I.C.C. set to OFF in ECM)</span>
<span class="t" style="left:11.70px;top:1032.00px;height:14px;line-height:14px;font-size:12px;color:#707070;letter-spacing:0.195px;">ETAS LA4-4.9E SN0305784 - 890011 020 J V Autronic B1460 - LZA11V2 V ECM 4800 SN3916 - 64S9-1813 (left channel)</span>
<span class="t" style="left:11.70px;top:1046.00px;height:14px;line-height:14px;font-size:12px;color:#707070;letter-spacing:0.173px;">log 2 I.C.C. OFF ! and rich s = 0.880 lean s = 0.931 (ETAS ambient set to today konditionz to 20.63% - BDS9 and ECM same) HC: 2.500 GIFTGAS</span>
<span class="t" style="left:1157.50px;top:976.00px;height:14px;line-height:14px;font-size:12px;color:#e08a1c;letter-spacing:-0.188px;">ETAS SENSOR ERROR (200Hz) samples(642672)</span>
<span class="t" style="left:1157.50px;top:990.00px;height:14px;line-height:14px;font-size:12px;color:#a01818;letter-spacing:0.136px;">MathLanguageVersion(2,0);</span>
<span class="t" style="left:1157.50px;top:1004.00px;height:14px;line-height:14px;font-size:12px;color:#a01818;letter-spacing:0.366px;">filter((((1/LZA08a_U21)-(1/(LabNTKa_U12)))*100),0.1)</span>
<span class="t" style="left:1157.50px;top:1032.00px;height:14px;line-height:14px;font-size:12px;color:#a01818;letter-spacing:0.274px;">//filter((((1/LZA08a_U21)-(1/(max(LebNTKecm_U11,lam1,Lam4RawL2C_R23))))*100),0.1)</span>
<span class="t" style="left:1157.50px;top:1046.00px;height:14px;line-height:14px;font-size:12px;color:#a01818;letter-spacing:0.364px;">//filter((((1/LZA08a_U21)-(1/(if(LebNTKecm_U11&lt;0.409,lam1,LebNTKecm_U11))))*100),0.1</span>
<span class="t" style="left:1711.30px;top:976.00px;height:14px;line-height:14px;font-size:12px;color:#000;letter-spacing:0.020px;">Burst Log Mode</span>
<span class="t" style="left:1711.30px;top:1004.00px;height:14px;line-height:14px;font-size:12px;color:#000;letter-spacing:-0.609px;">BASE, ENHANCED</span>
<svg style="left:3px;top:0px" width="17" height="18" viewBox="0 0 17 18">
<rect x="0.5" y="1.5" width="15" height="15" rx="4" ry="4" fill="#111"/>
<path d="M12.6 5.2 H5.2 Q3.6 5.2 3.6 6.9 Q3.6 8.7 5.2 8.7 H10.8 Q12.6 8.7 12.6 10.6 Q12.6 12.6 10.8 12.6 H3.4" fill="none" stroke="#fff" stroke-width="1.9" stroke-linecap="round"/>
</svg>
<svg style="left:1866px;top:0px" width="53" height="18" viewBox="0 0 53 18">
<rect x="5" y="12.6" width="10" height="1.5" fill="#0a0a2a"/>
<rect x="24.6" y="4.6" width="7" height="7" fill="none" stroke="#0a0a2a" stroke-width="1.3"/>
<rect x="22.6" y="7.4" width="7" height="6" fill="#b7d3f9" stroke="#0a0a2a" stroke-width="1.3"/>
<path d="M40.3 4.3 L49 13.4 M49 4.3 L40.3 13.4" stroke="#0a0a2a" stroke-width="1.5" fill="none"/>
</svg>
<svg style="left:85px;top:716px" width="13" height="235"><path d="M2 10 L6.5 2 L11 10 Z" fill="#5c8ad6"/><path d="M2 225.5 L11 225.5 L6.5 233.5 Z" fill="#5c8ad6"/></svg>
<svg style="left:1028px;top:938px" width="661" height="13"><path d="M2.5 6.5 L10 2.5 L10 10.5 Z" fill="#5c8ad6"/><path d="M650.5 2.5 L658 6.5 L650.5 10.5 Z" fill="#5c8ad6"/></svg>
<div style="left:1157px;top:1059px;width:120px;height:9px;overflow:hidden"><span class="t" style="left:0.5px;top:3px;height:14px;line-height:14px;font-size:12px;color:#e08a1c;letter-spacing:-0.25px">Unit(Percent)</span></div>
<svg style="left:1144px;top:975px" width="13" height="95"><path d="M1.6 9.8 L6.4 1.6 L11.2 9.8 Z" fill="#5c8ad6"/><path d="M1.6 84.2 L11.2 84.2 L6.4 92.2 Z" fill="#5c8ad6"/></svg>
</body></html>
